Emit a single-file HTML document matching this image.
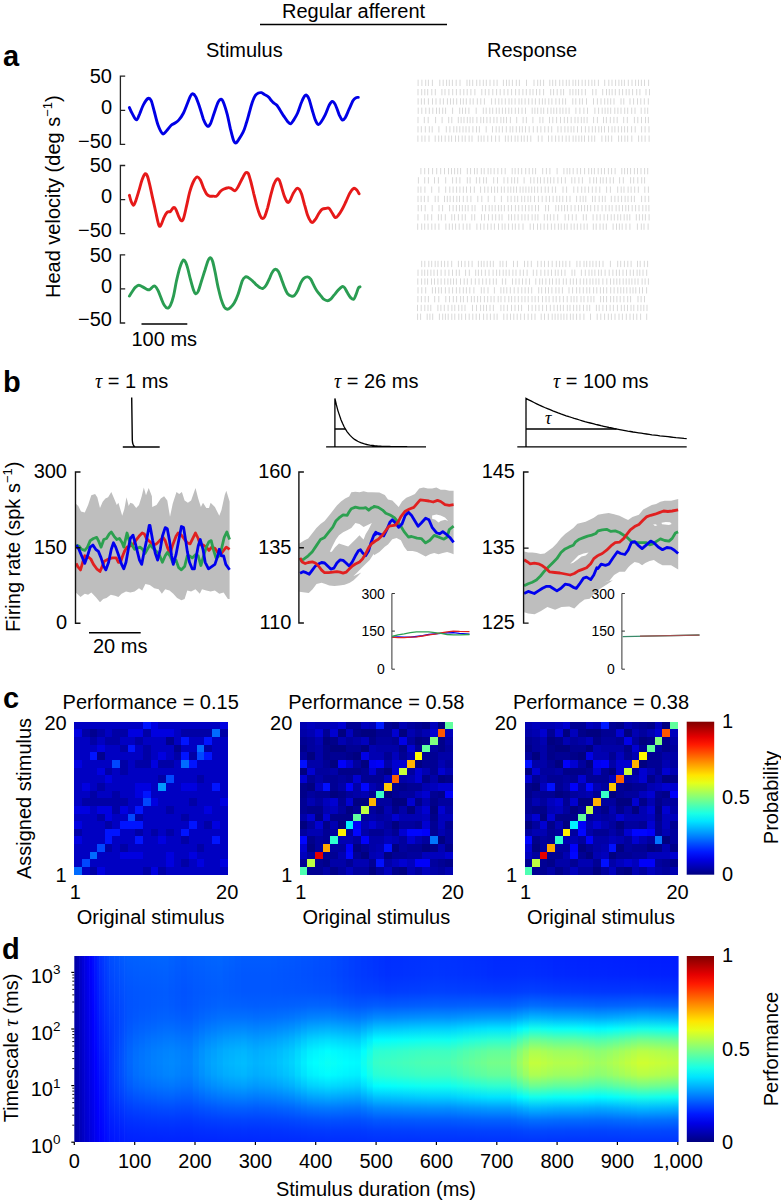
<!DOCTYPE html>
<html><head><meta charset="utf-8"><style>html,body{margin:0;padding:0;background:#fff;}svg{display:block}</style></head>
<body><svg width="781" height="1201" viewBox="0 0 781 1201" font-family="Liberation Sans, sans-serif" fill="#000">
<text x="282" y="17.5" font-size="20" text-anchor="start" >Regular afferent</text>
<line x1="260" y1="24.5" x2="447" y2="24.5" stroke="#000" stroke-width="1.3"/>
<text x="206" y="57" font-size="20" text-anchor="start" >Stimulus</text>
<text x="487" y="57" font-size="20" text-anchor="start" >Response</text>
<text x="3" y="66" font-size="29" text-anchor="start" font-weight="bold">a</text>
<path d="M125.2 76.2H120.4V144.4H125.2M120.4 110.3H125.2" fill="none" stroke="#222" stroke-width="1.3"/>
<text x="112" y="83.10000000000001" font-size="20" text-anchor="end" >50</text>
<text x="112" y="114.0" font-size="20" text-anchor="end" >0</text>
<text x="112" y="147.6" font-size="20" text-anchor="end" >&#8722;50</text>
<path d="M125.2 165.5H120.4V233.7H125.2M120.4 199.6H125.2" fill="none" stroke="#222" stroke-width="1.3"/>
<text x="112" y="172.4" font-size="20" text-anchor="end" >50</text>
<text x="112" y="203.29999999999998" font-size="20" text-anchor="end" >0</text>
<text x="112" y="236.89999999999998" font-size="20" text-anchor="end" >&#8722;50</text>
<path d="M125.2 254.8H120.4V323.0H125.2M120.4 288.9H125.2" fill="none" stroke="#222" stroke-width="1.3"/>
<text x="112" y="261.7" font-size="20" text-anchor="end" >50</text>
<text x="112" y="292.59999999999997" font-size="20" text-anchor="end" >0</text>
<text x="112" y="326.2" font-size="20" text-anchor="end" >&#8722;50</text>
<line x1="141.5" y1="324" x2="187.3" y2="324" stroke="#000" stroke-width="1.6"/>
<text x="131.5" y="346" font-size="20" text-anchor="start" >100 ms</text>
<text transform="translate(60,298) rotate(-90)" font-size="20">Head velocity (deg s<tspan dy="-8" font-size="13">&#8722;1</tspan><tspan dy="8">)</tspan></text>
<path d="M129.4 107.6C129.9 108.8 131.6 112.5 132.8 114.6C134.0 116.6 135.4 120.1 136.6 119.9C137.7 119.8 138.5 116.4 139.7 113.8C140.8 111.2 142.1 107.1 143.5 104.6C144.9 102.0 146.8 99.1 148.1 98.4C149.4 97.8 150.2 98.6 151.2 100.7C152.2 102.9 153.1 107.4 154.3 111.5C155.4 115.6 156.7 121.6 158.1 125.3C159.5 129.0 161.3 132.9 162.7 133.8C164.1 134.7 165.2 132.1 166.6 130.7C168.0 129.3 169.8 126.6 171.2 125.3C172.6 124.0 173.7 123.9 175.0 123.0C176.3 122.1 177.4 121.6 178.9 119.9C180.3 118.3 182.1 115.7 183.5 113.0C184.9 110.3 186.2 106.6 187.3 103.8C188.5 101.0 189.5 97.8 190.4 96.1C191.3 94.5 191.8 93.7 192.7 93.8C193.6 93.9 194.6 94.7 195.8 96.9C196.9 99.1 198.3 103.2 199.6 106.9C200.9 110.6 202.2 116.0 203.4 119.2C204.7 122.4 206.1 125.3 207.3 126.1C208.4 126.9 209.2 126.0 210.4 123.8C211.5 121.6 212.9 116.6 214.2 113.0C215.5 109.4 216.9 104.6 218.0 102.3C219.2 100.0 220.2 99.2 221.1 99.2C222.0 99.2 222.4 99.7 223.4 102.3C224.4 104.8 226.1 110.2 227.3 114.6C228.4 118.9 229.3 124.2 230.3 128.4C231.4 132.6 232.5 137.5 233.4 139.9C234.3 142.3 234.9 143.0 235.7 143.0C236.6 143.0 237.2 141.7 238.5 139.9C239.7 138.1 241.8 134.9 243.1 132.2C244.4 129.5 245.1 127.0 246.1 123.8C247.2 120.6 248.2 116.6 249.2 113.0C250.2 109.4 251.3 105.2 252.3 102.3C253.3 99.3 254.3 96.9 255.4 95.4C256.4 93.8 257.4 93.5 258.4 93.0C259.5 92.6 260.5 92.5 261.5 92.7C262.5 93.0 263.4 93.9 264.6 94.6C265.7 95.3 267.3 95.9 268.4 96.9C269.6 97.9 270.6 99.7 271.5 100.7C272.4 101.8 272.9 102.3 273.8 103.0C274.7 103.8 275.9 104.2 276.9 105.3C277.9 106.5 278.8 108.2 280.0 110.0C281.1 111.7 282.5 114.2 283.8 116.1C285.1 118.0 286.5 120.2 287.6 121.5C288.8 122.8 289.7 124.0 290.7 123.8C291.7 123.5 292.6 121.7 293.8 119.9C294.9 118.1 296.3 116.0 297.6 113.0C298.9 110.1 300.3 105.1 301.5 102.3C302.6 99.5 303.6 97.3 304.5 96.1C305.4 95.0 306.1 94.8 306.8 95.4C307.6 95.9 308.2 96.8 309.1 99.2C310.0 101.6 311.2 106.5 312.2 110.0C313.2 113.4 314.3 117.5 315.3 119.9C316.3 122.4 317.3 124.3 318.4 124.5C319.4 124.8 320.3 123.1 321.4 121.5C322.6 119.8 324.0 117.2 325.3 114.6C326.6 111.9 328.0 107.5 329.1 105.3C330.3 103.2 331.2 101.6 332.2 101.5C333.2 101.4 334.1 102.4 335.3 104.6C336.4 106.7 338.0 112.0 339.1 114.6C340.3 117.1 341.2 119.4 342.2 119.9C343.2 120.5 344.1 119.4 345.3 117.6C346.4 115.8 347.8 112.0 349.1 109.2C350.4 106.4 351.8 102.7 352.9 100.7C354.1 98.8 355.1 98.2 356.0 97.7C356.9 97.1 357.9 97.4 358.3 97.4" fill="none" stroke="#0000e6" stroke-width="2.9" stroke-linejoin="round" stroke-linecap="round"/>
<path d="M129.4 195.3C129.7 196.4 130.5 199.8 131.2 201.5C131.9 203.2 132.8 205.5 133.5 205.3C134.3 205.2 134.9 203.2 135.8 200.7C136.7 198.3 137.9 194.2 138.9 190.7C139.9 187.3 141.0 182.8 142.0 180.0C143.0 177.2 144.2 174.5 145.0 173.8C145.9 173.2 146.6 174.3 147.4 176.1C148.1 177.9 148.8 180.9 149.7 184.6C150.6 188.3 151.7 193.8 152.7 198.4C153.8 203.0 154.8 207.8 155.8 212.2C156.8 216.7 158.0 223.3 158.9 225.3C159.8 227.4 160.3 225.9 161.2 224.5C162.1 223.1 163.2 218.9 164.3 216.9C165.3 214.8 166.3 213.1 167.3 212.2C168.4 211.3 169.4 212.2 170.4 211.5C171.4 210.7 172.6 208.0 173.5 207.6C174.4 207.2 174.9 207.6 175.8 209.2C176.7 210.7 178.0 214.9 178.9 216.9C179.7 218.8 180.4 220.4 181.2 220.7C181.9 221.0 182.6 220.8 183.5 218.4C184.4 216.0 185.5 210.5 186.5 206.1C187.6 201.7 188.5 196.4 189.6 192.3C190.8 188.2 192.2 184.1 193.5 181.5C194.7 179.0 196.1 177.2 197.3 176.9C198.4 176.6 199.3 178.2 200.4 180.0C201.4 181.8 202.4 185.4 203.4 187.7C204.5 190.0 205.5 192.4 206.5 193.8C207.5 195.2 208.4 195.7 209.6 196.1C210.7 196.5 212.3 196.1 213.4 196.1C214.6 196.1 215.3 196.9 216.5 196.1C217.7 195.3 219.2 192.7 220.3 191.5C221.5 190.3 222.1 189.8 223.4 189.2C224.7 188.6 226.7 187.8 228.0 187.7C229.3 187.5 229.9 187.9 231.1 188.4C232.2 188.9 233.8 191.0 234.9 190.7C236.1 190.5 236.7 189.2 238.0 186.9C239.4 184.6 241.7 179.3 243.1 176.9C244.4 174.5 245.2 173.1 246.1 172.6C247.0 172.1 247.7 172.3 248.5 173.8C249.2 175.3 249.9 178.2 250.8 181.5C251.7 184.8 252.8 189.7 253.8 193.8C254.9 197.9 255.9 202.5 256.9 206.1C257.9 209.7 259.1 213.3 260.0 215.3C260.9 217.4 261.5 218.1 262.3 218.4C263.0 218.6 263.7 218.6 264.6 216.9C265.5 215.1 266.6 211.2 267.7 207.6C268.7 204.0 269.7 199.2 270.7 195.3C271.8 191.5 272.8 187.3 273.8 184.6C274.8 181.9 276.0 180.0 276.9 179.2C277.8 178.4 278.4 178.7 279.2 180.0C280.0 181.3 280.6 184.1 281.5 186.9C282.4 189.7 283.5 194.3 284.6 196.9C285.6 199.4 286.7 201.6 287.6 202.3C288.5 202.9 289.0 202.1 289.9 200.7C290.8 199.3 291.9 195.9 293.0 193.8C294.2 191.8 295.8 189.2 296.9 188.4C297.9 187.7 298.4 188.3 299.2 189.2C299.9 190.1 300.6 191.2 301.5 193.8C302.4 196.4 303.5 201.0 304.5 204.6C305.6 208.1 306.6 212.5 307.6 215.3C308.6 218.1 309.8 220.3 310.7 221.5C311.6 222.6 312.1 222.7 313.0 222.2C313.9 221.7 315.0 219.9 316.1 218.4C317.1 216.9 318.1 214.5 319.1 213.0C320.2 211.5 321.1 209.9 322.2 209.2C323.4 208.4 324.9 208.5 326.0 208.4C327.2 208.3 328.1 207.6 329.1 208.4C330.1 209.2 331.2 211.5 332.2 213.0C333.2 214.5 334.2 217.2 335.3 217.6C336.3 218.0 337.2 216.7 338.3 215.3C339.5 213.9 340.9 211.5 342.2 209.2C343.5 206.9 344.7 204.2 346.0 201.5C347.3 198.8 348.6 195.2 349.9 193.0C351.1 190.9 352.6 188.9 353.7 188.4C354.9 187.9 355.9 189.1 356.8 190.0C357.7 190.9 358.7 193.2 359.1 193.8" fill="none" stroke="#e61919" stroke-width="2.9" stroke-linejoin="round" stroke-linecap="round"/>
<path d="M129.4 296.1C129.9 295.2 131.7 292.3 132.8 290.7C133.8 289.2 134.8 287.8 135.8 286.9C136.9 286.0 137.7 285.3 138.9 285.3C140.1 285.3 141.5 286.2 142.7 286.9C144.0 287.5 145.4 288.7 146.6 289.2C147.7 289.6 148.6 290.0 149.7 289.6C150.7 289.3 151.8 287.5 152.7 286.9C153.6 286.3 154.1 285.5 155.0 286.1C155.9 286.7 157.1 288.7 158.1 290.7C159.1 292.8 160.2 296.0 161.2 298.4C162.2 300.8 163.2 303.7 164.3 305.3C165.3 306.9 166.3 308.1 167.3 308.1C168.4 308.1 169.4 307.3 170.4 305.3C171.4 303.3 172.5 300.2 173.5 296.1C174.5 292.0 175.5 285.3 176.5 280.7C177.6 276.1 178.6 271.8 179.6 268.4C180.6 265.1 181.8 262.0 182.7 260.8C183.6 259.5 184.2 260.0 185.0 261.1C185.8 262.1 186.4 263.9 187.3 266.9C188.2 269.9 189.4 275.4 190.4 279.2C191.4 283.0 192.6 287.5 193.5 290.0C194.3 292.4 195.0 293.5 195.8 293.8C196.5 294.0 197.2 293.4 198.1 291.5C199.0 289.6 200.0 285.9 201.1 282.3C202.3 278.7 203.8 273.6 205.0 270.0C206.1 266.4 207.2 262.8 208.0 260.8C208.9 258.7 209.6 257.6 210.4 257.7C211.1 257.8 211.9 259.2 212.7 261.5C213.4 263.8 214.1 267.3 215.0 271.5C215.9 275.7 217.0 282.3 218.0 286.9C219.1 291.5 220.1 295.8 221.1 299.2C222.1 302.5 223.2 305.2 224.2 306.9C225.2 308.5 226.2 309.0 227.3 309.2C228.3 309.3 229.2 308.6 230.3 307.6C231.5 306.6 232.9 305.2 234.2 303.0C235.5 300.8 236.7 298.3 238.0 294.6C239.4 290.8 241.1 283.7 242.3 280.7C243.5 277.8 244.4 277.4 245.4 276.9C246.4 276.4 247.3 277.0 248.5 277.7C249.6 278.3 251.0 279.6 252.3 280.7C253.6 281.9 254.9 283.4 256.1 284.6C257.4 285.7 258.8 287.0 260.0 287.6C261.1 288.3 262.0 288.8 263.0 288.4C264.1 288.0 265.1 286.9 266.1 285.3C267.1 283.8 268.2 281.4 269.2 279.2C270.2 277.0 271.2 273.9 272.3 272.3C273.3 270.6 274.3 269.3 275.3 269.2C276.4 269.1 277.4 269.8 278.4 271.5C279.4 273.2 280.5 276.5 281.5 279.2C282.5 281.9 283.5 285.2 284.6 287.6C285.6 290.1 286.5 292.4 287.6 293.8C288.8 295.2 290.3 295.8 291.5 296.1C292.6 296.4 293.5 296.2 294.5 295.3C295.6 294.4 296.6 292.8 297.6 290.7C298.6 288.7 299.7 285.1 300.7 283.0C301.7 281.0 302.6 279.5 303.8 278.4C304.9 277.4 306.5 276.8 307.6 276.9C308.8 277.0 309.7 277.8 310.7 279.2C311.7 280.6 312.7 283.4 313.8 285.3C314.8 287.3 315.8 289.2 316.8 290.7C317.9 292.3 318.7 293.2 319.9 294.6C321.1 296.0 322.5 298.1 323.7 299.2C325.0 300.2 326.4 300.7 327.6 300.7C328.7 300.7 329.5 300.2 330.7 299.2C331.8 298.1 333.2 296.1 334.5 294.6C335.8 293.0 337.1 291.3 338.3 290.0C339.6 288.6 341.2 287.0 342.2 286.6C343.2 286.2 343.6 286.6 344.5 287.6C345.4 288.7 346.5 291.4 347.6 293.0C348.6 294.7 349.6 296.6 350.6 297.6C351.7 298.7 352.8 299.7 353.7 299.2C354.6 298.7 355.2 296.4 356.0 294.6C356.8 292.7 357.7 289.4 358.3 288.1C359.0 286.8 359.7 287.1 360.0 286.9" fill="none" stroke="#2a9d52" stroke-width="2.9" stroke-linejoin="round" stroke-linecap="round"/>
<path d="M418.1 79.7v6.3M421.9 79.7v6.3M425.7 79.7v6.3M428.4 79.7v6.3M432.4 79.7v6.3M439.8 79.7v6.3M443.2 79.7v6.3M446.6 79.7v6.3M449.3 79.7v6.3M452.4 79.7v6.3M456.2 79.7v6.3M460.0 79.7v6.3M467.0 79.7v6.3M469.7 79.7v6.3M472.7 79.7v6.3M476.7 79.7v6.3M479.9 79.7v6.3M483.3 79.7v6.3M486.3 79.7v6.3M490.0 79.7v6.3M493.9 79.7v6.3M497.1 79.7v6.3M503.4 79.7v6.3M506.5 79.7v6.3M509.2 79.7v6.3M512.4 79.7v6.3M516.3 79.7v6.3M519.4 79.7v6.3M526.5 79.7v6.3M534.0 79.7v6.3M537.7 79.7v6.3M540.4 79.7v6.3M543.6 79.7v6.3M549.8 79.7v6.3M552.7 79.7v6.3M555.7 79.7v6.3M559.7 79.7v6.3M562.9 79.7v6.3M566.3 79.7v6.3M569.2 79.7v6.3M573.0 79.7v6.3M575.7 79.7v6.3M578.6 79.7v6.3M582.1 79.7v6.3M585.3 79.7v6.3M588.7 79.7v6.3M591.9 79.7v6.3M594.7 79.7v6.3M598.4 79.7v6.3M604.7 79.7v6.3M608.8 79.7v6.3M612.0 79.7v6.3M615.6 79.7v6.3M618.9 79.7v6.3M621.7 79.7v6.3M624.4 79.7v6.3M628.3 79.7v6.3M632.0 79.7v6.3M635.6 79.7v6.3M638.5 79.7v6.3M641.4 79.7v6.3M644.5 79.7v6.3M648.6 79.7v6.3M418.0 89.0v6.3M421.7 89.0v6.3M424.8 89.0v6.3M427.7 89.0v6.3M431.8 89.0v6.3M435.3 89.0v6.3M441.9 89.0v6.3M445.0 89.0v6.3M448.9 89.0v6.3M452.7 89.0v6.3M456.4 89.0v6.3M460.2 89.0v6.3M463.8 89.0v6.3M467.2 89.0v6.3M470.9 89.0v6.3M474.9 89.0v6.3M481.8 89.0v6.3M485.3 89.0v6.3M488.9 89.0v6.3M492.8 89.0v6.3M496.6 89.0v6.3M500.2 89.0v6.3M504.1 89.0v6.3M507.9 89.0v6.3M511.6 89.0v6.3M515.6 89.0v6.3M519.1 89.0v6.3M522.9 89.0v6.3M526.3 89.0v6.3M530.0 89.0v6.3M533.0 89.0v6.3M536.5 89.0v6.3M539.8 89.0v6.3M543.6 89.0v6.3M550.7 89.0v6.3M553.6 89.0v6.3M557.2 89.0v6.3M560.9 89.0v6.3M563.6 89.0v6.3M570.0 89.0v6.3M572.9 89.0v6.3M575.9 89.0v6.3M578.6 89.0v6.3M581.9 89.0v6.3M585.4 89.0v6.3M592.7 89.0v6.3M596.0 89.0v6.3M602.7 89.0v6.3M606.5 89.0v6.3M609.3 89.0v6.3M612.1 89.0v6.3M615.3 89.0v6.3M619.3 89.0v6.3M622.6 89.0v6.3M626.2 89.0v6.3M629.1 89.0v6.3M632.6 89.0v6.3M636.7 89.0v6.3M639.9 89.0v6.3M646.0 89.0v6.3M649.5 89.0v6.3M418.1 98.3v6.3M421.4 98.3v6.3M424.4 98.3v6.3M428.4 98.3v6.3M432.5 98.3v6.3M436.0 98.3v6.3M440.1 98.3v6.3M443.4 98.3v6.3M447.4 98.3v6.3M450.5 98.3v6.3M453.4 98.3v6.3M456.7 98.3v6.3M460.5 98.3v6.3M463.3 98.3v6.3M466.3 98.3v6.3M470.1 98.3v6.3M473.2 98.3v6.3M477.3 98.3v6.3M480.8 98.3v6.3M484.4 98.3v6.3M491.6 98.3v6.3M495.3 98.3v6.3M498.8 98.3v6.3M501.9 98.3v6.3M505.3 98.3v6.3M509.0 98.3v6.3M511.8 98.3v6.3M515.1 98.3v6.3M519.0 98.3v6.3M521.8 98.3v6.3M525.1 98.3v6.3M528.7 98.3v6.3M532.1 98.3v6.3M535.4 98.3v6.3M539.3 98.3v6.3M542.4 98.3v6.3M545.2 98.3v6.3M548.8 98.3v6.3M551.9 98.3v6.3M555.9 98.3v6.3M559.3 98.3v6.3M562.7 98.3v6.3M565.6 98.3v6.3M572.8 98.3v6.3M575.8 98.3v6.3M579.7 98.3v6.3M582.4 98.3v6.3M586.5 98.3v6.3M593.5 98.3v6.3M597.4 98.3v6.3M601.0 98.3v6.3M604.7 98.3v6.3M607.8 98.3v6.3M610.7 98.3v6.3M614.0 98.3v6.3M621.0 98.3v6.3M623.8 98.3v6.3M630.0 98.3v6.3M633.6 98.3v6.3M637.5 98.3v6.3M640.8 98.3v6.3M644.3 98.3v6.3M648.3 98.3v6.3M418.2 107.6v6.3M421.8 107.6v6.3M425.8 107.6v6.3M429.3 107.6v6.3M432.8 107.6v6.3M436.5 107.6v6.3M439.4 107.6v6.3M442.7 107.6v6.3M445.6 107.6v6.3M452.6 107.6v6.3M459.7 107.6v6.3M462.5 107.6v6.3M465.6 107.6v6.3M468.9 107.6v6.3M476.2 107.6v6.3M483.3 107.6v6.3M486.2 107.6v6.3M489.8 107.6v6.3M492.7 107.6v6.3M496.3 107.6v6.3M499.2 107.6v6.3M502.4 107.6v6.3M505.6 107.6v6.3M508.8 107.6v6.3M511.7 107.6v6.3M515.3 107.6v6.3M518.6 107.6v6.3M522.0 107.6v6.3M525.5 107.6v6.3M532.2 107.6v6.3M534.9 107.6v6.3M537.7 107.6v6.3M541.0 107.6v6.3M543.7 107.6v6.3M547.7 107.6v6.3M551.0 107.6v6.3M553.8 107.6v6.3M556.7 107.6v6.3M560.0 107.6v6.3M562.9 107.6v6.3M566.0 107.6v6.3M569.1 107.6v6.3M575.9 107.6v6.3M579.9 107.6v6.3M583.9 107.6v6.3M587.5 107.6v6.3M594.9 107.6v6.3M598.6 107.6v6.3M602.2 107.6v6.3M605.1 107.6v6.3M607.9 107.6v6.3M610.7 107.6v6.3M614.8 107.6v6.3M617.9 107.6v6.3M621.0 107.6v6.3M624.7 107.6v6.3M627.7 107.6v6.3M631.7 107.6v6.3M635.0 107.6v6.3M641.2 107.6v6.3M644.9 107.6v6.3M647.7 107.6v6.3M418.0 116.9v6.3M424.3 116.9v6.3M428.2 116.9v6.3M435.6 116.9v6.3M442.1 116.9v6.3M448.7 116.9v6.3M451.8 116.9v6.3M458.3 116.9v6.3M461.1 116.9v6.3M464.0 116.9v6.3M467.3 116.9v6.3M470.1 116.9v6.3M472.9 116.9v6.3M476.9 116.9v6.3M480.8 116.9v6.3M483.6 116.9v6.3M486.9 116.9v6.3M490.2 116.9v6.3M493.9 116.9v6.3M497.0 116.9v6.3M500.9 116.9v6.3M503.7 116.9v6.3M506.5 116.9v6.3M510.4 116.9v6.3M516.7 116.9v6.3M523.1 116.9v6.3M526.4 116.9v6.3M532.9 116.9v6.3M539.9 116.9v6.3M542.9 116.9v6.3M549.5 116.9v6.3M552.8 116.9v6.3M556.6 116.9v6.3M560.5 116.9v6.3M564.3 116.9v6.3M567.6 116.9v6.3M571.2 116.9v6.3M575.0 116.9v6.3M578.0 116.9v6.3M581.3 116.9v6.3M584.1 116.9v6.3M587.1 116.9v6.3M593.6 116.9v6.3M597.4 116.9v6.3M603.5 116.9v6.3M606.4 116.9v6.3M610.3 116.9v6.3M613.9 116.9v6.3M617.2 116.9v6.3M623.7 116.9v6.3M627.3 116.9v6.3M634.4 116.9v6.3M637.8 116.9v6.3M641.5 116.9v6.3M645.5 116.9v6.3M648.4 116.9v6.3M418.0 126.2v6.3M421.3 126.2v6.3M425.3 126.2v6.3M429.3 126.2v6.3M432.2 126.2v6.3M438.9 126.2v6.3M446.3 126.2v6.3M449.9 126.2v6.3M453.8 126.2v6.3M456.8 126.2v6.3M459.8 126.2v6.3M463.0 126.2v6.3M466.0 126.2v6.3M469.1 126.2v6.3M472.9 126.2v6.3M476.5 126.2v6.3M479.4 126.2v6.3M486.2 126.2v6.3M492.5 126.2v6.3M496.2 126.2v6.3M499.2 126.2v6.3M502.4 126.2v6.3M506.3 126.2v6.3M510.1 126.2v6.3M512.8 126.2v6.3M516.3 126.2v6.3M519.6 126.2v6.3M522.3 126.2v6.3M525.5 126.2v6.3M529.2 126.2v6.3M533.3 126.2v6.3M537.3 126.2v6.3M540.9 126.2v6.3M544.8 126.2v6.3M548.3 126.2v6.3M551.7 126.2v6.3M557.9 126.2v6.3M561.1 126.2v6.3M564.9 126.2v6.3M568.0 126.2v6.3M571.1 126.2v6.3M573.9 126.2v6.3M577.5 126.2v6.3M581.5 126.2v6.3M585.4 126.2v6.3M588.9 126.2v6.3M592.3 126.2v6.3M595.4 126.2v6.3M598.8 126.2v6.3M601.5 126.2v6.3M604.5 126.2v6.3M608.5 126.2v6.3M612.0 126.2v6.3M614.9 126.2v6.3M618.3 126.2v6.3M621.6 126.2v6.3M624.6 126.2v6.3M627.6 126.2v6.3M631.6 126.2v6.3M635.2 126.2v6.3M641.6 126.2v6.3M645.1 126.2v6.3M649.0 126.2v6.3M417.9 135.5v6.3M421.9 135.5v6.3M425.0 135.5v6.3M429.0 135.5v6.3M435.2 135.5v6.3M438.7 135.5v6.3M441.6 135.5v6.3M445.2 135.5v6.3M448.8 135.5v6.3M451.6 135.5v6.3M455.5 135.5v6.3M458.6 135.5v6.3M462.2 135.5v6.3M465.2 135.5v6.3M469.1 135.5v6.3M472.0 135.5v6.3M478.3 135.5v6.3M481.2 135.5v6.3M484.0 135.5v6.3M487.8 135.5v6.3M491.6 135.5v6.3M495.6 135.5v6.3M499.2 135.5v6.3M505.4 135.5v6.3M508.2 135.5v6.3M511.4 135.5v6.3M515.1 135.5v6.3M517.9 135.5v6.3M521.4 135.5v6.3M524.2 135.5v6.3M527.4 135.5v6.3M530.8 135.5v6.3M538.3 135.5v6.3M542.0 135.5v6.3M548.5 135.5v6.3M551.9 135.5v6.3M555.6 135.5v6.3M558.9 135.5v6.3M562.3 135.5v6.3M566.1 135.5v6.3M569.2 135.5v6.3M573.1 135.5v6.3M575.9 135.5v6.3M578.9 135.5v6.3M581.7 135.5v6.3M584.5 135.5v6.3M588.6 135.5v6.3M591.8 135.5v6.3M594.7 135.5v6.3M601.9 135.5v6.3M605.7 135.5v6.3M608.4 135.5v6.3M611.7 135.5v6.3M618.6 135.5v6.3M621.6 135.5v6.3M624.9 135.5v6.3M627.7 135.5v6.3M631.8 135.5v6.3M638.6 135.5v6.3M641.8 135.5v6.3M645.1 135.5v6.3M649.1 135.5v6.3M420.9 168.0v6.3M424.7 168.0v6.3M428.6 168.0v6.3M432.6 168.0v6.3M436.7 168.0v6.3M440.7 168.0v6.3M444.5 168.0v6.3M448.5 168.0v6.3M451.5 168.0v6.3M454.6 168.0v6.3M457.7 168.0v6.3M460.6 168.0v6.3M467.3 168.0v6.3M470.6 168.0v6.3M474.5 168.0v6.3M477.2 168.0v6.3M481.3 168.0v6.3M484.2 168.0v6.3M488.1 168.0v6.3M490.9 168.0v6.3M494.2 168.0v6.3M497.9 168.0v6.3M501.7 168.0v6.3M505.2 168.0v6.3M512.2 168.0v6.3M515.1 168.0v6.3M518.3 168.0v6.3M521.7 168.0v6.3M525.7 168.0v6.3M529.2 168.0v6.3M532.7 168.0v6.3M535.6 168.0v6.3M542.7 168.0v6.3M546.4 168.0v6.3M549.9 168.0v6.3M557.1 168.0v6.3M563.9 168.0v6.3M567.1 168.0v6.3M569.8 168.0v6.3M573.2 168.0v6.3M577.2 168.0v6.3M580.6 168.0v6.3M584.6 168.0v6.3M588.7 168.0v6.3M591.6 168.0v6.3M594.4 168.0v6.3M598.2 168.0v6.3M601.4 168.0v6.3M604.5 168.0v6.3M608.4 168.0v6.3M611.6 168.0v6.3M615.1 168.0v6.3M621.8 168.0v6.3M624.6 168.0v6.3M627.5 168.0v6.3M630.6 168.0v6.3M634.4 168.0v6.3M637.5 168.0v6.3M641.0 168.0v6.3M644.6 168.0v6.3M647.7 168.0v6.3M418.4 177.2v6.3M424.7 177.2v6.3M428.4 177.2v6.3M434.5 177.2v6.3M438.4 177.2v6.3M445.7 177.2v6.3M452.6 177.2v6.3M456.3 177.2v6.3M459.9 177.2v6.3M467.3 177.2v6.3M470.1 177.2v6.3M476.4 177.2v6.3M479.7 177.2v6.3M483.6 177.2v6.3M486.4 177.2v6.3M493.7 177.2v6.3M497.5 177.2v6.3M504.0 177.2v6.3M507.8 177.2v6.3M511.7 177.2v6.3M514.6 177.2v6.3M517.7 177.2v6.3M524.1 177.2v6.3M530.7 177.2v6.3M534.0 177.2v6.3M537.6 177.2v6.3M540.5 177.2v6.3M544.2 177.2v6.3M547.7 177.2v6.3M550.6 177.2v6.3M553.9 177.2v6.3M557.9 177.2v6.3M561.5 177.2v6.3M565.3 177.2v6.3M571.8 177.2v6.3M574.9 177.2v6.3M578.9 177.2v6.3M582.4 177.2v6.3M589.9 177.2v6.3M593.7 177.2v6.3M596.5 177.2v6.3M600.4 177.2v6.3M603.1 177.2v6.3M606.4 177.2v6.3M610.1 177.2v6.3M613.4 177.2v6.3M619.6 177.2v6.3M623.3 177.2v6.3M630.6 177.2v6.3M633.7 177.2v6.3M637.8 177.2v6.3M641.7 177.2v6.3M644.6 177.2v6.3M418.1 186.5v6.3M420.9 186.5v6.3M424.9 186.5v6.3M431.7 186.5v6.3M438.9 186.5v6.3M445.7 186.5v6.3M449.8 186.5v6.3M453.1 186.5v6.3M456.6 186.5v6.3M459.9 186.5v6.3M463.3 186.5v6.3M466.5 186.5v6.3M470.5 186.5v6.3M474.3 186.5v6.3M480.6 186.5v6.3M484.7 186.5v6.3M488.0 186.5v6.3M491.5 186.5v6.3M494.6 186.5v6.3M497.6 186.5v6.3M501.4 186.5v6.3M504.3 186.5v6.3M508.0 186.5v6.3M510.8 186.5v6.3M513.7 186.5v6.3M516.5 186.5v6.3M520.1 186.5v6.3M523.0 186.5v6.3M525.9 186.5v6.3M528.9 186.5v6.3M531.7 186.5v6.3M534.6 186.5v6.3M537.7 186.5v6.3M541.3 186.5v6.3M545.2 186.5v6.3M548.3 186.5v6.3M552.3 186.5v6.3M555.6 186.5v6.3M563.0 186.5v6.3M566.6 186.5v6.3M573.8 186.5v6.3M577.8 186.5v6.3M581.7 186.5v6.3M585.0 186.5v6.3M588.6 186.5v6.3M592.3 186.5v6.3M596.0 186.5v6.3M599.8 186.5v6.3M606.6 186.5v6.3M610.4 186.5v6.3M617.7 186.5v6.3M621.2 186.5v6.3M624.0 186.5v6.3M628.1 186.5v6.3M631.1 186.5v6.3M634.7 186.5v6.3M638.3 186.5v6.3M644.8 186.5v6.3M648.4 186.5v6.3M418.0 195.8v6.3M421.1 195.8v6.3M424.4 195.8v6.3M428.1 195.8v6.3M435.2 195.8v6.3M438.2 195.8v6.3M444.5 195.8v6.3M447.3 195.8v6.3M450.1 195.8v6.3M453.4 195.8v6.3M456.8 195.8v6.3M459.5 195.8v6.3M463.3 195.8v6.3M467.2 195.8v6.3M470.9 195.8v6.3M477.8 195.8v6.3M481.8 195.8v6.3M488.2 195.8v6.3M494.7 195.8v6.3M501.4 195.8v6.3M507.8 195.8v6.3M511.1 195.8v6.3M514.8 195.8v6.3M517.7 195.8v6.3M521.7 195.8v6.3M524.7 195.8v6.3M528.0 195.8v6.3M530.7 195.8v6.3M534.5 195.8v6.3M538.4 195.8v6.3M542.2 195.8v6.3M546.2 195.8v6.3M549.5 195.8v6.3M553.1 195.8v6.3M556.8 195.8v6.3M559.7 195.8v6.3M562.8 195.8v6.3M566.6 195.8v6.3M570.0 195.8v6.3M576.6 195.8v6.3M580.2 195.8v6.3M583.1 195.8v6.3M585.8 195.8v6.3M592.5 195.8v6.3M595.2 195.8v6.3M599.2 195.8v6.3M602.4 195.8v6.3M605.2 195.8v6.3M611.3 195.8v6.3M614.9 195.8v6.3M618.2 195.8v6.3M621.6 195.8v6.3M625.1 195.8v6.3M628.0 195.8v6.3M631.4 195.8v6.3M634.4 195.8v6.3M641.6 195.8v6.3M645.1 195.8v6.3M648.7 195.8v6.3M418.2 205.0v6.3M421.4 205.0v6.3M425.2 205.0v6.3M432.2 205.0v6.3M439.0 205.0v6.3M442.6 205.0v6.3M449.6 205.0v6.3M453.1 205.0v6.3M456.4 205.0v6.3M459.5 205.0v6.3M462.3 205.0v6.3M465.3 205.0v6.3M468.1 205.0v6.3M472.1 205.0v6.3M475.0 205.0v6.3M482.4 205.0v6.3M485.6 205.0v6.3M489.2 205.0v6.3M492.1 205.0v6.3M495.2 205.0v6.3M498.6 205.0v6.3M501.3 205.0v6.3M504.4 205.0v6.3M508.3 205.0v6.3M511.5 205.0v6.3M515.4 205.0v6.3M518.7 205.0v6.3M522.2 205.0v6.3M525.5 205.0v6.3M528.9 205.0v6.3M532.0 205.0v6.3M535.5 205.0v6.3M538.5 205.0v6.3M545.6 205.0v6.3M548.5 205.0v6.3M555.8 205.0v6.3M558.6 205.0v6.3M561.7 205.0v6.3M564.5 205.0v6.3M567.4 205.0v6.3M571.1 205.0v6.3M575.0 205.0v6.3M578.5 205.0v6.3M581.5 205.0v6.3M584.6 205.0v6.3M587.5 205.0v6.3M590.7 205.0v6.3M594.7 205.0v6.3M598.0 205.0v6.3M602.1 205.0v6.3M605.8 205.0v6.3M609.2 205.0v6.3M612.1 205.0v6.3M616.1 205.0v6.3M619.2 205.0v6.3M622.5 205.0v6.3M625.8 205.0v6.3M628.6 205.0v6.3M632.2 205.0v6.3M635.6 205.0v6.3M639.0 205.0v6.3M642.8 205.0v6.3M646.0 205.0v6.3M648.9 205.0v6.3M418.0 214.2v6.3M424.8 214.2v6.3M427.8 214.2v6.3M431.7 214.2v6.3M438.4 214.2v6.3M441.3 214.2v6.3M445.3 214.2v6.3M451.8 214.2v6.3M454.6 214.2v6.3M458.4 214.2v6.3M462.2 214.2v6.3M465.3 214.2v6.3M471.8 214.2v6.3M474.7 214.2v6.3M481.5 214.2v6.3M484.6 214.2v6.3M488.5 214.2v6.3M492.3 214.2v6.3M495.7 214.2v6.3M499.2 214.2v6.3M502.0 214.2v6.3M508.7 214.2v6.3M511.5 214.2v6.3M514.8 214.2v6.3M518.1 214.2v6.3M521.9 214.2v6.3M525.0 214.2v6.3M528.2 214.2v6.3M532.1 214.2v6.3M535.2 214.2v6.3M537.9 214.2v6.3M544.3 214.2v6.3M547.4 214.2v6.3M550.4 214.2v6.3M553.9 214.2v6.3M557.7 214.2v6.3M565.1 214.2v6.3M568.6 214.2v6.3M572.3 214.2v6.3M576.2 214.2v6.3M583.3 214.2v6.3M586.3 214.2v6.3M593.1 214.2v6.3M596.9 214.2v6.3M600.2 214.2v6.3M604.1 214.2v6.3M607.6 214.2v6.3M611.2 214.2v6.3M614.3 214.2v6.3M617.8 214.2v6.3M620.7 214.2v6.3M624.2 214.2v6.3M627.1 214.2v6.3M629.8 214.2v6.3M636.3 214.2v6.3M639.4 214.2v6.3M642.6 214.2v6.3M645.4 214.2v6.3M649.1 214.2v6.3M417.7 223.5v6.3M421.7 223.5v6.3M424.7 223.5v6.3M428.1 223.5v6.3M431.8 223.5v6.3M435.1 223.5v6.3M438.9 223.5v6.3M445.9 223.5v6.3M449.3 223.5v6.3M452.4 223.5v6.3M455.6 223.5v6.3M459.2 223.5v6.3M463.2 223.5v6.3M466.9 223.5v6.3M469.9 223.5v6.3M476.9 223.5v6.3M480.6 223.5v6.3M484.0 223.5v6.3M487.7 223.5v6.3M491.1 223.5v6.3M494.4 223.5v6.3M498.5 223.5v6.3M502.2 223.5v6.3M505.0 223.5v6.3M508.6 223.5v6.3M512.4 223.5v6.3M515.3 223.5v6.3M518.9 223.5v6.3M523.0 223.5v6.3M530.2 223.5v6.3M533.5 223.5v6.3M537.5 223.5v6.3M540.7 223.5v6.3M544.1 223.5v6.3M547.7 223.5v6.3M551.4 223.5v6.3M554.8 223.5v6.3M558.4 223.5v6.3M561.2 223.5v6.3M564.4 223.5v6.3M567.1 223.5v6.3M571.1 223.5v6.3M574.2 223.5v6.3M577.3 223.5v6.3M580.8 223.5v6.3M584.1 223.5v6.3M587.2 223.5v6.3M593.3 223.5v6.3M596.2 223.5v6.3M600.0 223.5v6.3M603.2 223.5v6.3M606.3 223.5v6.3M613.1 223.5v6.3M616.5 223.5v6.3M619.4 223.5v6.3M622.2 223.5v6.3M626.0 223.5v6.3M629.9 223.5v6.3M637.4 223.5v6.3M641.3 223.5v6.3M644.0 223.5v6.3M648.1 223.5v6.3M421.7 260.8v6.3M424.8 260.8v6.3M428.8 260.8v6.3M431.7 260.8v6.3M435.2 260.8v6.3M438.0 260.8v6.3M441.4 260.8v6.3M444.6 260.8v6.3M447.9 260.8v6.3M451.7 260.8v6.3M458.4 260.8v6.3M461.5 260.8v6.3M465.0 260.8v6.3M468.7 260.8v6.3M472.1 260.8v6.3M478.4 260.8v6.3M481.3 260.8v6.3M484.0 260.8v6.3M487.2 260.8v6.3M490.3 260.8v6.3M493.3 260.8v6.3M500.1 260.8v6.3M502.9 260.8v6.3M506.4 260.8v6.3M513.5 260.8v6.3M517.4 260.8v6.3M524.5 260.8v6.3M527.8 260.8v6.3M531.3 260.8v6.3M537.7 260.8v6.3M541.2 260.8v6.3M544.5 260.8v6.3M548.4 260.8v6.3M552.2 260.8v6.3M556.3 260.8v6.3M559.6 260.8v6.3M562.8 260.8v6.3M565.9 260.8v6.3M569.8 260.8v6.3M576.9 260.8v6.3M580.0 260.8v6.3M584.0 260.8v6.3M586.7 260.8v6.3M589.9 260.8v6.3M592.9 260.8v6.3M596.1 260.8v6.3M599.4 260.8v6.3M603.0 260.8v6.3M610.4 260.8v6.3M617.7 260.8v6.3M620.7 260.8v6.3M624.4 260.8v6.3M627.8 260.8v6.3M631.1 260.8v6.3M637.5 260.8v6.3M640.2 260.8v6.3M644.3 260.8v6.3M647.6 260.8v6.3M418.0 269.6v6.3M421.9 269.6v6.3M424.7 269.6v6.3M427.7 269.6v6.3M430.9 269.6v6.3M434.0 269.6v6.3M437.4 269.6v6.3M441.1 269.6v6.3M445.1 269.6v6.3M448.9 269.6v6.3M452.5 269.6v6.3M456.3 269.6v6.3M459.3 269.6v6.3M465.6 269.6v6.3M469.3 269.6v6.3M475.7 269.6v6.3M478.4 269.6v6.3M481.6 269.6v6.3M485.3 269.6v6.3M489.0 269.6v6.3M493.1 269.6v6.3M496.6 269.6v6.3M499.7 269.6v6.3M503.2 269.6v6.3M506.1 269.6v6.3M509.2 269.6v6.3M512.9 269.6v6.3M516.0 269.6v6.3M520.1 269.6v6.3M523.4 269.6v6.3M527.1 269.6v6.3M533.3 269.6v6.3M536.8 269.6v6.3M540.9 269.6v6.3M544.8 269.6v6.3M548.1 269.6v6.3M551.5 269.6v6.3M555.3 269.6v6.3M558.1 269.6v6.3M561.6 269.6v6.3M565.0 269.6v6.3M572.0 269.6v6.3M574.8 269.6v6.3M581.4 269.6v6.3M585.3 269.6v6.3M589.0 269.6v6.3M591.9 269.6v6.3M594.9 269.6v6.3M598.6 269.6v6.3M601.3 269.6v6.3M605.1 269.6v6.3M609.2 269.6v6.3M612.9 269.6v6.3M616.4 269.6v6.3M619.4 269.6v6.3M623.0 269.6v6.3M626.5 269.6v6.3M630.2 269.6v6.3M633.4 269.6v6.3M637.1 269.6v6.3M639.8 269.6v6.3M643.0 269.6v6.3M646.7 269.6v6.3M417.8 278.4v6.3M421.6 278.4v6.3M424.9 278.4v6.3M427.6 278.4v6.3M431.5 278.4v6.3M434.5 278.4v6.3M437.9 278.4v6.3M441.1 278.4v6.3M444.7 278.4v6.3M447.9 278.4v6.3M450.7 278.4v6.3M453.5 278.4v6.3M456.4 278.4v6.3M460.5 278.4v6.3M464.2 278.4v6.3M467.3 278.4v6.3M471.3 278.4v6.3M475.3 278.4v6.3M479.0 278.4v6.3M482.7 278.4v6.3M486.2 278.4v6.3M489.8 278.4v6.3M493.3 278.4v6.3M496.3 278.4v6.3M502.4 278.4v6.3M505.7 278.4v6.3M512.5 278.4v6.3M515.9 278.4v6.3M519.1 278.4v6.3M522.5 278.4v6.3M526.0 278.4v6.3M529.5 278.4v6.3M535.8 278.4v6.3M539.7 278.4v6.3M542.4 278.4v6.3M545.9 278.4v6.3M549.6 278.4v6.3M552.5 278.4v6.3M556.2 278.4v6.3M559.2 278.4v6.3M563.3 278.4v6.3M566.3 278.4v6.3M570.3 278.4v6.3M573.3 278.4v6.3M576.5 278.4v6.3M580.2 278.4v6.3M583.7 278.4v6.3M586.7 278.4v6.3M590.0 278.4v6.3M592.9 278.4v6.3M596.0 278.4v6.3M598.9 278.4v6.3M602.9 278.4v6.3M606.8 278.4v6.3M610.5 278.4v6.3M613.8 278.4v6.3M616.8 278.4v6.3M619.8 278.4v6.3M623.2 278.4v6.3M626.2 278.4v6.3M629.1 278.4v6.3M631.9 278.4v6.3M635.0 278.4v6.3M638.0 278.4v6.3M642.1 278.4v6.3M645.1 278.4v6.3M648.4 278.4v6.3M418.0 287.2v6.3M421.8 287.2v6.3M425.7 287.2v6.3M432.4 287.2v6.3M435.5 287.2v6.3M438.7 287.2v6.3M441.4 287.2v6.3M445.4 287.2v6.3M449.1 287.2v6.3M452.6 287.2v6.3M456.4 287.2v6.3M459.8 287.2v6.3M463.3 287.2v6.3M466.4 287.2v6.3M469.8 287.2v6.3M473.9 287.2v6.3M481.3 287.2v6.3M484.1 287.2v6.3M488.0 287.2v6.3M494.4 287.2v6.3M500.9 287.2v6.3M503.8 287.2v6.3M506.8 287.2v6.3M510.3 287.2v6.3M514.2 287.2v6.3M518.1 287.2v6.3M521.8 287.2v6.3M525.1 287.2v6.3M528.4 287.2v6.3M531.7 287.2v6.3M538.7 287.2v6.3M541.7 287.2v6.3M545.5 287.2v6.3M548.5 287.2v6.3M551.9 287.2v6.3M555.9 287.2v6.3M559.0 287.2v6.3M562.4 287.2v6.3M569.0 287.2v6.3M572.6 287.2v6.3M576.6 287.2v6.3M579.8 287.2v6.3M583.3 287.2v6.3M586.8 287.2v6.3M589.7 287.2v6.3M593.6 287.2v6.3M596.8 287.2v6.3M600.4 287.2v6.3M603.5 287.2v6.3M606.7 287.2v6.3M610.7 287.2v6.3M614.1 287.2v6.3M617.8 287.2v6.3M620.8 287.2v6.3M623.7 287.2v6.3M626.8 287.2v6.3M630.1 287.2v6.3M633.0 287.2v6.3M635.8 287.2v6.3M639.5 287.2v6.3M642.5 287.2v6.3M646.6 287.2v6.3M417.9 296.0v6.3M421.4 296.0v6.3M425.1 296.0v6.3M428.4 296.0v6.3M434.7 296.0v6.3M438.8 296.0v6.3M445.8 296.0v6.3M449.5 296.0v6.3M453.3 296.0v6.3M456.6 296.0v6.3M460.6 296.0v6.3M463.4 296.0v6.3M467.4 296.0v6.3M471.4 296.0v6.3M474.3 296.0v6.3M477.6 296.0v6.3M480.6 296.0v6.3M484.4 296.0v6.3M487.7 296.0v6.3M491.0 296.0v6.3M494.1 296.0v6.3M498.2 296.0v6.3M501.0 296.0v6.3M504.9 296.0v6.3M508.8 296.0v6.3M511.6 296.0v6.3M514.9 296.0v6.3M518.3 296.0v6.3M521.9 296.0v6.3M525.0 296.0v6.3M528.2 296.0v6.3M532.0 296.0v6.3M535.1 296.0v6.3M538.4 296.0v6.3M542.5 296.0v6.3M546.0 296.0v6.3M549.1 296.0v6.3M553.1 296.0v6.3M556.2 296.0v6.3M559.8 296.0v6.3M563.4 296.0v6.3M567.2 296.0v6.3M571.1 296.0v6.3M574.0 296.0v6.3M576.9 296.0v6.3M581.0 296.0v6.3M584.0 296.0v6.3M587.9 296.0v6.3M591.0 296.0v6.3M593.9 296.0v6.3M600.6 296.0v6.3M603.5 296.0v6.3M606.6 296.0v6.3M610.6 296.0v6.3M613.7 296.0v6.3M616.9 296.0v6.3M620.2 296.0v6.3M623.9 296.0v6.3M627.7 296.0v6.3M630.6 296.0v6.3M638.0 296.0v6.3M641.1 296.0v6.3M644.5 296.0v6.3M417.5 304.8v6.3M421.2 304.8v6.3M424.8 304.8v6.3M428.0 304.8v6.3M430.8 304.8v6.3M437.9 304.8v6.3M440.9 304.8v6.3M444.3 304.8v6.3M448.1 304.8v6.3M451.9 304.8v6.3M454.8 304.8v6.3M458.7 304.8v6.3M461.9 304.8v6.3M465.0 304.8v6.3M472.5 304.8v6.3M476.5 304.8v6.3M480.6 304.8v6.3M483.6 304.8v6.3M486.5 304.8v6.3M490.0 304.8v6.3M493.4 304.8v6.3M500.9 304.8v6.3M503.9 304.8v6.3M507.4 304.8v6.3M511.5 304.8v6.3M515.0 304.8v6.3M518.5 304.8v6.3M521.6 304.8v6.3M528.5 304.8v6.3M532.1 304.8v6.3M535.7 304.8v6.3M539.0 304.8v6.3M542.6 304.8v6.3M546.5 304.8v6.3M550.3 304.8v6.3M554.0 304.8v6.3M557.4 304.8v6.3M560.4 304.8v6.3M563.4 304.8v6.3M567.3 304.8v6.3M570.0 304.8v6.3M573.6 304.8v6.3M576.8 304.8v6.3M579.8 304.8v6.3M583.5 304.8v6.3M587.0 304.8v6.3M589.7 304.8v6.3M596.4 304.8v6.3M599.2 304.8v6.3M602.9 304.8v6.3M606.5 304.8v6.3M610.1 304.8v6.3M613.4 304.8v6.3M617.4 304.8v6.3M621.3 304.8v6.3M624.4 304.8v6.3M627.5 304.8v6.3M631.0 304.8v6.3M633.8 304.8v6.3M637.8 304.8v6.3M640.9 304.8v6.3M643.8 304.8v6.3M647.0 304.8v6.3M417.6 313.6v6.3M420.6 313.6v6.3M427.2 313.6v6.3M429.9 313.6v6.3M432.7 313.6v6.3M439.4 313.6v6.3M442.7 313.6v6.3M445.4 313.6v6.3M448.2 313.6v6.3M451.8 313.6v6.3M454.8 313.6v6.3M458.8 313.6v6.3M461.7 313.6v6.3M465.6 313.6v6.3M469.2 313.6v6.3M472.8 313.6v6.3M476.2 313.6v6.3M479.5 313.6v6.3M483.6 313.6v6.3M487.0 313.6v6.3M490.4 313.6v6.3M494.1 313.6v6.3M497.1 313.6v6.3M503.8 313.6v6.3M507.1 313.6v6.3M510.5 313.6v6.3M513.8 313.6v6.3M517.2 313.6v6.3M520.7 313.6v6.3M524.4 313.6v6.3M528.1 313.6v6.3M531.7 313.6v6.3M535.0 313.6v6.3M541.2 313.6v6.3M544.5 313.6v6.3M548.3 313.6v6.3M552.2 313.6v6.3M555.1 313.6v6.3M558.0 313.6v6.3M561.0 313.6v6.3M563.9 313.6v6.3M566.9 313.6v6.3M570.4 313.6v6.3M573.2 313.6v6.3M576.6 313.6v6.3M580.0 313.6v6.3M583.9 313.6v6.3M590.5 313.6v6.3M597.2 313.6v6.3M600.8 313.6v6.3M604.6 313.6v6.3M608.3 313.6v6.3M611.4 313.6v6.3M615.0 313.6v6.3M619.0 313.6v6.3M622.4 313.6v6.3M626.3 313.6v6.3M630.0 313.6v6.3M633.4 313.6v6.3M636.8 313.6v6.3M640.6 313.6v6.3M646.7 313.6v6.3" stroke="#d9d9d9" stroke-width="1" fill="none"/>
<text x="3" y="391.5" font-size="29" text-anchor="start" font-weight="bold">b</text>
<path d="M75.8 503.8 L78.3 506.0 L81.0 511.4 L84.8 512.5 L88.1 504.9 L91.3 495.2 L95.1 494.1 L97.3 497.3 L100.0 508.1 L102.7 501.7 L105.4 498.4 L108.1 497.3 L111.3 491.9 L114.1 498.4 L116.8 504.9 L118.4 502.7 L122.2 515.7 L124.3 509.2 L126.5 497.3 L128.7 506.0 L130.3 502.7 L133.0 503.8 L136.2 508.1 L139.0 504.9 L141.7 496.2 L143.8 487.6 L146.0 495.2 L148.7 488.1 L151.9 496.2 L152.2 507.1 L156.5 504.9 L160.8 498.4 L164.1 496.2 L167.3 500.6 L170.0 516.8 L172.7 503.8 L176.5 491.9 L179.2 494.1 L181.9 491.9 L184.6 500.6 L187.9 502.7 L191.1 500.6 L195.5 488.1 L198.2 498.4 L200.9 507.1 L203.0 502.7 L206.3 508.1 L209.0 508.1 L210.6 502.7 L214.9 507.1 L219.3 515.7 L221.4 510.3 L224.7 495.2 L226.3 490.8 L229.6 501.6 L229.6 599.1 L227.9 599.1 L223.6 592.6 L219.3 593.7 L214.9 590.4 L210.6 591.5 L206.3 590.4 L202.0 589.3 L199.8 593.7 L195.5 589.3 L191.1 591.5 L187.3 590.4 L184.6 599.1 L181.4 600.2 L177.1 598.0 L173.3 593.7 L169.5 590.4 L165.2 589.3 L161.9 593.7 L158.7 589.3 L154.3 588.2 L149.8 585.0 L145.4 583.9 L142.2 590.4 L139.0 588.3 L134.6 591.5 L130.3 592.6 L126.0 591.5 L121.6 593.7 L118.4 596.9 L115.1 595.8 L110.8 594.7 L106.5 598.0 L103.2 599.1 L100.0 602.3 L95.7 596.9 L91.3 592.6 L88.1 594.7 L84.8 593.7 L80.5 596.9 L75.8 592.6 Z" fill="#bebebe" />
<path d="M76.2 563.4 L77.8 566.6 L80.5 569.9 L82.7 562.3 L84.8 555.8 L88.1 556.9 L90.8 559.0 L93.5 564.4 L96.7 568.8 L100.0 571.5 L102.1 566.6 L104.3 561.2 L108.6 559.0 L112.4 557.9 L116.2 557.9 L118.4 562.3 L120.5 562.3 L122.7 555.8 L124.9 550.4 L127.0 547.1 L130.3 546.0 L132.5 545.0 L135.7 540.6 L139.0 536.3 L142.2 533.0 L144.4 534.1 L146.5 538.5 L148.7 540.6 L150.0 541.7 L153.2 544.9 L156.5 543.9 L159.7 540.6 L163.0 537.4 L165.2 540.6 L167.3 547.1 L170.0 553.6 L172.7 544.9 L176.0 536.3 L178.1 533.0 L181.4 535.2 L184.6 539.5 L187.3 542.8 L190.1 543.9 L193.3 537.4 L195.5 533.0 L198.2 538.5 L200.3 544.9 L203.0 544.9 L206.3 547.1 L209.0 550.4 L211.7 547.1 L214.9 548.2 L217.7 552.5 L220.4 554.7 L223.6 550.4 L226.3 547.1 L229.6 549.3" fill="none" stroke="#e02020" stroke-width="2.8" stroke-linejoin="round" stroke-linecap="butt"/>
<path d="M76.2 545.0 L78.9 546.0 L81.6 549.3 L84.8 550.4 L87.5 547.1 L90.2 540.6 L93.5 538.5 L96.7 537.4 L98.9 541.7 L101.1 547.1 L103.8 539.5 L106.5 538.5 L109.2 534.1 L111.3 532.0 L114.1 536.3 L116.8 539.5 L119.5 538.5 L122.2 542.8 L123.8 547.1 L126.0 537.4 L127.0 533.0 L129.2 540.6 L131.9 545.0 L134.6 549.3 L137.3 548.2 L140.0 547.1 L142.7 549.3 L144.9 553.6 L150.0 544.9 L153.2 548.2 L156.5 551.4 L159.7 555.8 L162.4 562.3 L165.2 555.8 L167.3 552.5 L170.0 555.8 L172.7 562.3 L176.0 560.1 L178.7 567.7 L181.4 569.8 L184.6 566.6 L187.3 555.8 L189.5 555.8 L192.2 557.9 L195.5 554.7 L198.2 555.8 L200.9 565.5 L203.6 555.8 L206.3 547.1 L209.0 541.7 L211.2 540.6 L213.3 549.3 L216.0 557.9 L219.3 555.8 L221.4 549.3 L224.2 537.4 L226.9 532.0 L229.6 539.5" fill="none" stroke="#2ca050" stroke-width="2.8" stroke-linejoin="round" stroke-linecap="butt"/>
<path d="M76.2 545.0 L78.9 549.3 L81.6 555.8 L84.8 563.4 L87.5 555.8 L90.2 547.1 L92.9 545.0 L95.7 549.3 L98.4 551.4 L101.1 557.9 L103.8 566.6 L105.9 569.9 L108.6 562.3 L111.3 549.3 L113.5 542.8 L115.7 547.1 L118.4 554.7 L121.6 564.4 L123.8 568.8 L126.0 562.3 L128.7 547.1 L130.3 538.5 L133.0 535.2 L135.2 542.8 L137.3 551.4 L139.5 560.1 L141.7 564.4 L143.8 553.6 L146.5 540.6 L149.2 525.5 L150.0 525.5 L152.7 540.6 L155.4 553.6 L157.6 560.1 L160.3 549.3 L162.4 536.3 L165.2 527.6 L167.3 528.7 L169.5 540.6 L171.6 555.8 L173.3 564.4 L176.0 554.7 L178.7 540.6 L181.4 526.5 L183.6 527.6 L185.7 540.6 L187.3 551.4 L189.5 562.3 L192.2 568.8 L194.4 568.8 L196.0 557.9 L198.2 546.0 L200.3 539.5 L203.0 549.3 L205.2 562.3 L208.5 568.8 L211.7 566.6 L214.9 564.4 L217.1 557.9 L219.3 549.3 L221.4 555.8 L223.6 555.8 L225.8 564.4 L229.6 569.8" fill="none" stroke="#0000ee" stroke-width="2.8" stroke-linejoin="round" stroke-linecap="butt"/>
<path d="M299.4 543.5 L304.1 540.4 L308.2 538.4 L312.3 533.3 L316.4 528.1 L320.5 524.0 L324.6 521.0 L328.7 515.9 L332.8 510.7 L336.9 505.6 L341.0 501.5 L345.1 498.4 L349.2 496.4 L351.3 492.3 L355.4 491.8 L359.5 492.3 L363.6 491.3 L367.7 492.3 L371.8 492.3 L379.4 492.4 L384.8 495.1 L388.0 499.4 L392.3 500.4 L395.5 503.7 L398.7 506.9 L402.0 501.5 L406.3 497.7 L410.6 496.1 L414.9 494.0 L419.2 488.6 L423.5 487.5 L427.8 488.6 L432.1 488.6 L436.4 487.5 L440.7 489.7 L445.0 489.7 L449.3 490.8 L453.6 490.8 L453.6 554.2 L450.4 553.1 L447.1 552.1 L442.8 553.1 L438.5 554.2 L434.2 553.1 L429.9 554.2 L425.6 556.4 L421.3 554.2 L417.0 552.1 L412.7 551.0 L407.3 551.0 L404.1 546.7 L400.9 540.2 L396.6 538.1 L392.3 539.2 L388.0 544.5 L384.8 546.7 L379.4 552.1 L374.0 555.3 L373.8 553.8 L369.7 559.9 L365.6 564.0 L361.5 568.1 L357.4 572.2 L353.3 576.3 L361.3 572.6 L357.5 576.4 L353.6 580.2 L349.8 582.8 L344.7 584.7 L339.5 585.4 L334.4 586.0 L329.3 585.4 L325.4 584.1 L321.6 582.8 L316.5 584.1 L312.6 589.2 L308.8 593.0 L305.0 592.4 L299.4 591.8 Z M329.8 551.7 L332.8 545.6 L335.9 539.4 L339.0 535.3 L343.1 532.2 L347.2 530.2 L351.3 528.1 L355.4 523.0 L359.5 524.0 L363.6 527.1 L367.7 525.1 L371.8 523.0 L368.7 529.2 L365.6 534.3 L363.6 539.4 L361.5 537.4 L359.5 535.3 L355.4 539.4 L351.3 543.5 L348.2 546.6 L345.1 545.6 L342.0 544.5 L339.0 543.5 L334.9 547.6 L331.8 551.7 Z M432.1 515.5 L436.4 514.4 L440.7 515.5 L445.0 517.6 L448.2 520.9 L445.0 519.8 L440.7 520.9 L438.5 522.5 L435.3 519.8 L432.1 518.7 Z" fill="#bebebe" fill-rule="evenodd"/>
<path d="M300.0 560.9 L304.1 558.9 L308.2 555.8 L312.3 551.7 L316.4 545.6 L320.5 539.4 L324.6 537.4 L328.7 532.2 L332.8 527.1 L335.9 521.0 L339.0 517.9 L343.1 514.8 L347.2 515.3 L349.2 511.8 L351.3 508.7 L355.4 507.1 L359.5 508.2 L363.6 508.2 L365.6 507.7 L368.7 510.2 L371.8 507.7 L374.8 506.6 L374.0 506.3 L378.3 507.4 L382.6 510.1 L385.8 513.3 L390.1 515.0 L394.4 517.6 L397.7 521.9 L400.9 526.2 L404.1 531.6 L408.4 537.0 L411.6 536.5 L417.0 538.1 L421.3 538.6 L425.6 542.9 L429.9 540.2 L434.2 535.4 L438.5 537.0 L443.9 539.2 L447.1 537.0 L449.3 529.5 L453.6 526.2" fill="none" stroke="#2ca050" stroke-width="2.8" stroke-linejoin="round" stroke-linecap="butt"/>
<path d="M300.0 573.2 L303.1 571.7 L306.2 572.7 L309.3 574.2 L312.3 570.1 L315.4 566.0 L318.5 564.0 L321.6 562.5 L324.6 563.0 L327.7 566.0 L330.8 569.1 L333.9 568.1 L336.9 563.0 L340.0 559.9 L343.1 560.4 L346.1 563.0 L349.2 566.0 L352.3 561.9 L355.4 555.8 L358.4 550.7 L360.5 549.7 L362.5 552.7 L365.6 555.8 L368.7 550.7 L370.7 543.5 L373.8 535.3 L375.8 532.2 L374.0 535.4 L377.2 533.2 L380.5 534.3 L383.7 535.9 L386.9 529.5 L390.1 521.9 L392.3 519.8 L395.5 523.0 L398.7 527.3 L402.0 524.1 L405.2 515.5 L408.4 512.3 L411.6 515.5 L414.9 520.9 L418.1 526.2 L421.3 523.0 L425.6 518.2 L428.9 519.8 L432.1 527.3 L436.4 532.7 L439.6 533.8 L442.8 531.6 L447.1 534.9 L450.4 538.1 L453.6 542.4" fill="none" stroke="#0000ee" stroke-width="2.8" stroke-linejoin="round" stroke-linecap="butt"/>
<path d="M300.0 557.8 L302.1 561.9 L305.2 563.5 L308.2 562.5 L312.3 561.9 L315.4 563.0 L318.5 566.0 L321.6 570.1 L324.6 572.7 L328.7 572.7 L332.8 572.2 L336.9 571.7 L340.0 572.2 L343.1 573.2 L346.1 572.2 L349.2 569.1 L352.3 566.0 L355.4 564.0 L359.5 561.9 L362.5 558.9 L365.6 553.8 L368.7 547.6 L371.8 543.5 L374.8 541.5 L374.0 541.8 L378.3 539.2 L382.6 534.9 L385.8 530.5 L389.1 526.2 L392.3 525.7 L395.5 525.2 L398.7 520.9 L400.9 516.6 L405.2 511.2 L409.5 509.0 L413.8 507.4 L417.0 503.7 L420.2 499.9 L424.5 500.4 L428.9 501.0 L433.2 502.0 L437.5 500.4 L440.7 501.5 L445.0 504.7 L449.3 505.3 L453.6 504.7" fill="none" stroke="#e02020" stroke-width="2.8" stroke-linejoin="round" stroke-linecap="butt"/>
<path d="M524.2 551.5 L528.2 552.5 L532.3 552.5 L536.4 553.0 L540.5 554.0 L544.6 553.5 L548.7 550.4 L552.8 547.4 L556.9 543.3 L561.0 538.1 L565.1 534.0 L569.2 531.0 L573.3 527.9 L577.4 523.8 L581.5 522.8 L585.6 521.8 L589.7 519.7 L593.8 517.7 L598.0 514.7 L603.4 513.7 L608.8 513.1 L614.1 514.2 L619.5 515.8 L624.9 518.5 L628.1 520.1 L632.4 516.9 L638.9 514.7 L643.2 509.4 L647.5 507.2 L651.8 505.1 L656.1 504.0 L660.4 501.8 L664.7 500.8 L671.1 500.8 L678.2 499.1 L678.2 569.6 L671.1 565.3 L666.8 565.3 L662.5 565.3 L658.2 563.1 L653.9 559.9 L649.6 561.0 L645.3 563.1 L642.1 565.3 L638.9 563.1 L634.6 562.1 L630.3 565.3 L628.1 567.4 L624.9 571.7 L619.5 571.7 L614.1 575.0 L608.8 581.4 L603.4 582.5 L612.8 580.2 L607.6 584.1 L601.2 587.9 L594.8 593.0 L589.7 598.8 L584.6 599.4 L579.5 603.3 L574.3 608.4 L569.2 606.5 L561.5 607.1 L555.1 609.7 L547.4 607.1 L541.0 611.0 L534.6 614.2 L528.2 613.5 L524.2 612.3 Z M570.2 563.8 L574.3 559.7 L578.4 555.6 L583.5 553.5 L588.6 552.5 L585.6 555.6 L581.5 556.6 L577.4 559.7 L573.3 562.7 Z M661.5 522.8 L665.8 522.0 L670.1 522.3 L671.7 523.9 L669.0 525.0 L664.7 524.6 L662.0 524.2 Z M653.1 524.6 L655.5 524.2 L657.4 525.3 L655.0 526.0 Z" fill="#bebebe" fill-rule="evenodd"/>
<path d="M524.1 585.8 L528.2 583.7 L532.3 582.2 L536.4 580.1 L540.5 576.0 L544.6 570.9 L548.7 566.8 L552.8 562.7 L556.9 558.6 L561.0 552.5 L565.1 548.9 L569.2 546.9 L573.3 545.3 L575.3 542.2 L579.4 539.2 L583.5 537.6 L587.6 536.1 L591.7 535.1 L595.8 533.5 L598.0 530.9 L602.3 529.8 L606.6 529.3 L610.9 531.4 L615.2 530.9 L619.5 532.5 L623.8 535.2 L627.0 537.3 L630.3 540.5 L633.5 542.2 L637.8 542.7 L642.1 542.7 L646.4 542.7 L649.6 544.9 L652.9 543.8 L656.1 541.6 L660.4 538.9 L664.7 540.5 L669.0 541.1 L672.2 538.4 L675.4 533.0 L678.1 531.9" fill="none" stroke="#2ca050" stroke-width="2.8" stroke-linejoin="round" stroke-linecap="butt"/>
<path d="M524.1 593.5 L528.2 591.4 L534.3 593.5 L538.4 590.9 L542.5 588.3 L546.6 586.3 L549.7 586.3 L552.8 588.3 L556.9 590.9 L561.0 588.3 L565.1 584.2 L569.2 584.8 L573.3 587.3 L576.3 588.3 L579.4 584.2 L583.5 578.1 L586.6 577.1 L590.7 579.6 L593.8 575.0 L596.8 567.8 L598.0 568.5 L601.2 564.2 L605.5 565.3 L608.8 564.2 L613.1 557.8 L617.4 551.8 L620.6 553.5 L624.9 554.5 L628.1 550.2 L631.3 542.7 L634.6 541.6 L638.9 545.9 L642.1 548.6 L646.4 544.9 L650.7 541.1 L653.9 542.7 L658.2 547.0 L662.5 549.7 L666.8 547.5 L671.1 548.1 L674.4 550.2 L678.1 553.5" fill="none" stroke="#0000ee" stroke-width="2.8" stroke-linejoin="round" stroke-linecap="butt"/>
<path d="M524.1 559.7 L527.2 561.7 L530.2 563.8 L534.3 563.2 L538.4 563.8 L542.5 565.8 L546.6 568.9 L549.7 571.9 L554.8 572.5 L559.9 573.0 L565.1 574.0 L570.2 575.0 L574.3 573.5 L578.4 570.9 L582.5 569.4 L586.6 567.8 L590.7 563.8 L593.8 558.6 L597.8 555.6 L598.0 555.6 L602.3 553.5 L606.6 550.2 L610.9 545.9 L615.2 542.7 L619.5 542.2 L623.8 538.4 L627.0 534.1 L630.3 529.8 L634.6 526.6 L638.9 524.4 L643.2 520.1 L646.4 516.9 L650.7 515.3 L655.0 514.2 L659.3 512.6 L663.6 511.0 L667.9 511.5 L672.2 511.0 L678.1 509.9" fill="none" stroke="#e02020" stroke-width="2.8" stroke-linejoin="round" stroke-linecap="butt"/>
<path d="M80.5 472H75.5V623.3H80.5M75.5 547.7H80.5" fill="none" stroke="#111" stroke-width="1.4"/>
<text x="67" y="478" font-size="20" text-anchor="end">300</text>
<text x="67" y="553.5" font-size="20" text-anchor="end">150</text>
<text x="67" y="629" font-size="20" text-anchor="end">0</text>
<path d="M303.9 472H298.9V623H303.9M298.9 547.7H303.9" fill="none" stroke="#111" stroke-width="1.4"/>
<text x="291.5" y="478" font-size="20" text-anchor="end">160</text>
<text x="291.5" y="553.5" font-size="20" text-anchor="end">135</text>
<text x="291.5" y="629" font-size="20" text-anchor="end">110</text>
<path d="M528.6 472H523.6V623.1H528.6M523.6 548.1H528.6" fill="none" stroke="#111" stroke-width="1.4"/>
<text x="515" y="478" font-size="20" text-anchor="end">145</text>
<text x="515" y="553.5" font-size="20" text-anchor="end">135</text>
<text x="515" y="629" font-size="20" text-anchor="end">125</text>
<text transform="translate(19.5,632) rotate(-90)" font-size="20">Firing rate (spk s<tspan dy="-8" font-size="13">&#8722;1</tspan><tspan dy="8">)</tspan></text>
<line x1="89" y1="632.7" x2="140.7" y2="632.7" stroke="#000" stroke-width="1.6"/>
<text x="93" y="653" font-size="20">20 ms</text>
<path d="M394.9 593.5H391.9V669.2H394.9M391.9 631.1H394.9" fill="none" stroke="#333" stroke-width="1"/>
<text x="384.9" y="598.5" font-size="14" text-anchor="end">300</text>
<text x="384.9" y="636" font-size="14" text-anchor="end">150</text>
<text x="384.9" y="674" font-size="14" text-anchor="end">0</text>
<path d="M391.9 637.2 L398.0 636.9 L404.2 637.2 L410.3 637.2 L416.5 636.5 L422.6 635.7 L428.8 634.5 L434.9 633.9 L441.0 633.4 L447.2 632.9 L453.3 632.6 L459.5 633.4 L469.5 634.2" fill="none" stroke="#0000ee" stroke-width="1.3"/>
<path d="M391.9 637.2 L398.0 637.6 L404.2 637.6 L410.3 637.2 L416.5 636.9 L422.6 636.0 L428.8 634.9 L434.9 634.2 L441.0 632.9 L447.2 631.9 L453.3 631.1 L459.5 631.4 L469.5 631.6" fill="none" stroke="#e02020" stroke-width="1.3"/>
<path d="M391.9 636.5 L398.0 634.9 L404.2 633.9 L410.3 632.6 L416.5 631.9 L422.6 631.9 L428.8 631.9 L434.9 632.6 L441.0 633.4 L447.2 634.5 L453.3 634.9 L459.5 634.9 L469.5 634.5" fill="none" stroke="#2ca050" stroke-width="1.3"/>
<path d="M624.9 593.5H621.9V669.2H624.9M621.9 631.1H624.9" fill="none" stroke="#333" stroke-width="1"/>
<text x="614.9" y="598.5" font-size="14" text-anchor="end">300</text>
<text x="614.9" y="636" font-size="14" text-anchor="end">150</text>
<text x="614.9" y="674" font-size="14" text-anchor="end">0</text>
<path d="M622.6 636.6 L660.0 635.8 L699.5 635.0" fill="none" stroke="#3a8a6a" stroke-width="1.3"/>
<path d="M640.0 636.2 L699.5 635.2" fill="none" stroke="#a05050" stroke-width="1.3"/>
<text x="95" y="388" font-size="20"><tspan font-family="Liberation Serif" font-style="italic">&#964;</tspan> = 1 ms</text>
<text x="334" y="388" font-size="20"><tspan font-family="Liberation Serif" font-style="italic">&#964;</tspan> = 26 ms</text>
<text x="553" y="388" font-size="20"><tspan font-family="Liberation Serif" font-style="italic">&#964;</tspan> = 100 ms</text>
<path d="M122.8 447H159.7M131.7 397.4L132.3 440Q132.6 446 135 446.6" fill="none" stroke="#000" stroke-width="1.4"/>
<path d="M326.1 446.8H426M334.9 446.8V398.4 L334.9 398.4 L336.4 404.9 L337.9 410.6 L339.5 415.4 L341.0 419.7 L342.5 423.3 L344.0 426.5 L345.5 429.2 L347.0 431.6 L348.6 433.6 L350.1 435.4 L351.6 436.9 L353.1 438.3 L354.6 439.4 L356.2 440.4 L357.7 441.3 L359.2 442.0 L360.7 442.7 L362.2 443.2 L363.7 443.7 L365.3 444.1 L366.8 444.5 L368.3 444.8 L369.8 445.1 L371.3 445.3 L372.9 445.5 L374.4 445.7 L375.9 445.8 L377.4 446.0 L378.9 446.1 L380.4 446.2 L382.0 446.3 L383.5 446.3 L385.0 446.4 L386.5 446.4 L388.0 446.5 L389.6 446.5 L391.1 446.6 L392.6 446.6 L394.1 446.6 L395.6 446.7 L397.2 446.7 L398.7 446.7 L400.2 446.7 L401.7 446.7 L403.2 446.7 L404.7 446.7 L406.3 446.7 L407.8 446.8 L409.3 446.8 L410.8 446.8 L412.3 446.8 L413.9 446.8 L415.4 446.8 L416.9 446.8 L418.4 446.8 L419.9 446.8 L421.4 446.8 L423.0 446.8 L424.5 446.8 L426.0 446.8" fill="none" stroke="#000" stroke-width="1.3"/>
<line x1="334.9" y1="429.0" x2="345.4" y2="429.0" stroke="#000" stroke-width="1.5"/>
<path d="M517.3 446.8H686.7M526 446.8V398.4 L526.0 398.4 L528.7 399.8 L531.4 401.2 L534.0 402.5 L536.7 403.8 L539.4 405.1 L542.1 406.3 L544.7 407.5 L547.4 408.6 L550.1 409.7 L552.8 410.8 L555.5 411.8 L558.1 412.9 L560.8 413.9 L563.5 414.8 L566.2 415.8 L568.9 416.7 L571.5 417.5 L574.2 418.4 L576.9 419.2 L579.6 420.0 L582.2 420.8 L584.9 421.6 L587.6 422.3 L590.3 423.0 L593.0 423.7 L595.6 424.4 L598.3 425.0 L601.0 425.7 L603.7 426.3 L606.4 426.9 L609.0 427.5 L611.7 428.0 L614.4 428.6 L617.1 429.1 L619.7 429.6 L622.4 430.1 L625.1 430.6 L627.8 431.1 L630.5 431.5 L633.1 432.0 L635.8 432.4 L638.5 432.8 L641.2 433.2 L643.8 433.6 L646.5 434.0 L649.2 434.4 L651.9 434.8 L654.6 435.1 L657.2 435.4 L659.9 435.8 L662.6 436.1 L665.3 436.4 L668.0 436.7 L670.6 437.0 L673.3 437.3 L676.0 437.6 L678.7 437.8 L681.3 438.1 L684.0 438.4 L686.7 438.6" fill="none" stroke="#000" stroke-width="1.3"/>
<line x1="526" y1="429.0" x2="616.5" y2="429.0" stroke="#000" stroke-width="1.5"/>
<text x="545" y="424" font-size="18" font-family="Liberation Serif" font-style="italic">&#964;</text>
<text x="3" y="707.5" font-size="29" text-anchor="start" font-weight="bold">c</text>
<g shape-rendering="crispEdges">
<rect x="74.20" y="721.70" width="8.05" height="8.05" fill="#0000c2"/>
<rect x="81.85" y="721.70" width="8.05" height="8.05" fill="#0000c2"/>
<rect x="89.50" y="721.70" width="8.05" height="8.05" fill="#0000c2"/>
<rect x="97.15" y="721.70" width="8.05" height="8.05" fill="#0000c2"/>
<rect x="104.80" y="721.70" width="8.05" height="8.05" fill="#0000c2"/>
<rect x="112.45" y="721.70" width="8.05" height="8.05" fill="#0000c2"/>
<rect x="120.10" y="721.70" width="8.05" height="8.05" fill="#0000c2"/>
<rect x="127.75" y="721.70" width="8.05" height="8.05" fill="#0000c2"/>
<rect x="135.40" y="721.70" width="8.05" height="8.05" fill="#0000c2"/>
<rect x="143.05" y="721.70" width="8.05" height="8.05" fill="#0014ff"/>
<rect x="150.70" y="721.70" width="8.05" height="8.05" fill="#0000e0"/>
<rect x="158.35" y="721.70" width="8.05" height="8.05" fill="#0000c2"/>
<rect x="166.00" y="721.70" width="8.05" height="8.05" fill="#0000c2"/>
<rect x="173.65" y="721.70" width="8.05" height="8.05" fill="#0000c2"/>
<rect x="181.30" y="721.70" width="8.05" height="8.05" fill="#0000c2"/>
<rect x="188.95" y="721.70" width="8.05" height="8.05" fill="#0000c2"/>
<rect x="196.60" y="721.70" width="8.05" height="8.05" fill="#0000c2"/>
<rect x="204.25" y="721.70" width="8.05" height="8.05" fill="#0000c2"/>
<rect x="211.90" y="721.70" width="8.05" height="8.05" fill="#0000c2"/>
<rect x="219.55" y="721.70" width="8.05" height="8.05" fill="#0000e0"/>
<rect x="74.20" y="729.35" width="8.05" height="8.05" fill="#0000e0"/>
<rect x="81.85" y="729.35" width="8.05" height="8.05" fill="#0000a6"/>
<rect x="89.50" y="729.35" width="8.05" height="8.05" fill="#00008f"/>
<rect x="97.15" y="729.35" width="8.05" height="8.05" fill="#0000a6"/>
<rect x="104.80" y="729.35" width="8.05" height="8.05" fill="#0000c2"/>
<rect x="112.45" y="729.35" width="8.05" height="8.05" fill="#0000a6"/>
<rect x="120.10" y="729.35" width="8.05" height="8.05" fill="#0000a6"/>
<rect x="127.75" y="729.35" width="8.05" height="8.05" fill="#0000e0"/>
<rect x="135.40" y="729.35" width="8.05" height="8.05" fill="#0000e0"/>
<rect x="143.05" y="729.35" width="8.05" height="8.05" fill="#0000a6"/>
<rect x="150.70" y="729.35" width="8.05" height="8.05" fill="#0000e0"/>
<rect x="158.35" y="729.35" width="8.05" height="8.05" fill="#0000e0"/>
<rect x="166.00" y="729.35" width="8.05" height="8.05" fill="#0000e0"/>
<rect x="173.65" y="729.35" width="8.05" height="8.05" fill="#0000c2"/>
<rect x="181.30" y="729.35" width="8.05" height="8.05" fill="#0000a6"/>
<rect x="188.95" y="729.35" width="8.05" height="8.05" fill="#0000a6"/>
<rect x="196.60" y="729.35" width="8.05" height="8.05" fill="#0000a6"/>
<rect x="204.25" y="729.35" width="8.05" height="8.05" fill="#0000a6"/>
<rect x="211.90" y="729.35" width="8.05" height="8.05" fill="#006bff"/>
<rect x="219.55" y="729.35" width="8.05" height="8.05" fill="#0000a6"/>
<rect x="74.20" y="737.00" width="8.05" height="8.05" fill="#0000c2"/>
<rect x="81.85" y="737.00" width="8.05" height="8.05" fill="#0000c2"/>
<rect x="89.50" y="737.00" width="8.05" height="8.05" fill="#0000a6"/>
<rect x="97.15" y="737.00" width="8.05" height="8.05" fill="#0000c2"/>
<rect x="104.80" y="737.00" width="8.05" height="8.05" fill="#0000a6"/>
<rect x="112.45" y="737.00" width="8.05" height="8.05" fill="#0000a6"/>
<rect x="120.10" y="737.00" width="8.05" height="8.05" fill="#0000c2"/>
<rect x="127.75" y="737.00" width="8.05" height="8.05" fill="#0000c2"/>
<rect x="135.40" y="737.00" width="8.05" height="8.05" fill="#0000a6"/>
<rect x="143.05" y="737.00" width="8.05" height="8.05" fill="#0000c2"/>
<rect x="150.70" y="737.00" width="8.05" height="8.05" fill="#0000c2"/>
<rect x="158.35" y="737.00" width="8.05" height="8.05" fill="#0000c2"/>
<rect x="166.00" y="737.00" width="8.05" height="8.05" fill="#00008f"/>
<rect x="173.65" y="737.00" width="8.05" height="8.05" fill="#0000c2"/>
<rect x="181.30" y="737.00" width="8.05" height="8.05" fill="#0014ff"/>
<rect x="188.95" y="737.00" width="8.05" height="8.05" fill="#0000c2"/>
<rect x="196.60" y="737.00" width="8.05" height="8.05" fill="#0000c2"/>
<rect x="204.25" y="737.00" width="8.05" height="8.05" fill="#0014ff"/>
<rect x="211.90" y="737.00" width="8.05" height="8.05" fill="#0000c2"/>
<rect x="219.55" y="737.00" width="8.05" height="8.05" fill="#0000c2"/>
<rect x="74.20" y="744.65" width="8.05" height="8.05" fill="#0000c2"/>
<rect x="81.85" y="744.65" width="8.05" height="8.05" fill="#0000c2"/>
<rect x="89.50" y="744.65" width="8.05" height="8.05" fill="#0000c2"/>
<rect x="97.15" y="744.65" width="8.05" height="8.05" fill="#0000e0"/>
<rect x="104.80" y="744.65" width="8.05" height="8.05" fill="#0000c2"/>
<rect x="112.45" y="744.65" width="8.05" height="8.05" fill="#0000c2"/>
<rect x="120.10" y="744.65" width="8.05" height="8.05" fill="#0000a6"/>
<rect x="127.75" y="744.65" width="8.05" height="8.05" fill="#0014ff"/>
<rect x="135.40" y="744.65" width="8.05" height="8.05" fill="#0000c2"/>
<rect x="143.05" y="744.65" width="8.05" height="8.05" fill="#0000a6"/>
<rect x="150.70" y="744.65" width="8.05" height="8.05" fill="#0000c2"/>
<rect x="158.35" y="744.65" width="8.05" height="8.05" fill="#0000c2"/>
<rect x="166.00" y="744.65" width="8.05" height="8.05" fill="#0000c2"/>
<rect x="173.65" y="744.65" width="8.05" height="8.05" fill="#00008f"/>
<rect x="181.30" y="744.65" width="8.05" height="8.05" fill="#0000c2"/>
<rect x="188.95" y="744.65" width="8.05" height="8.05" fill="#0000c2"/>
<rect x="196.60" y="744.65" width="8.05" height="8.05" fill="#006bff"/>
<rect x="204.25" y="744.65" width="8.05" height="8.05" fill="#0000a6"/>
<rect x="211.90" y="744.65" width="8.05" height="8.05" fill="#0000c2"/>
<rect x="219.55" y="744.65" width="8.05" height="8.05" fill="#0000c2"/>
<rect x="74.20" y="752.30" width="8.05" height="8.05" fill="#0000c2"/>
<rect x="81.85" y="752.30" width="8.05" height="8.05" fill="#0000c2"/>
<rect x="89.50" y="752.30" width="8.05" height="8.05" fill="#0014ff"/>
<rect x="97.15" y="752.30" width="8.05" height="8.05" fill="#00008f"/>
<rect x="104.80" y="752.30" width="8.05" height="8.05" fill="#0000c2"/>
<rect x="112.45" y="752.30" width="8.05" height="8.05" fill="#0000c2"/>
<rect x="120.10" y="752.30" width="8.05" height="8.05" fill="#0000c2"/>
<rect x="127.75" y="752.30" width="8.05" height="8.05" fill="#0000c2"/>
<rect x="135.40" y="752.30" width="8.05" height="8.05" fill="#0000c2"/>
<rect x="143.05" y="752.30" width="8.05" height="8.05" fill="#0000a6"/>
<rect x="150.70" y="752.30" width="8.05" height="8.05" fill="#0000c2"/>
<rect x="158.35" y="752.30" width="8.05" height="8.05" fill="#0000e0"/>
<rect x="166.00" y="752.30" width="8.05" height="8.05" fill="#0000c2"/>
<rect x="173.65" y="752.30" width="8.05" height="8.05" fill="#0000a6"/>
<rect x="181.30" y="752.30" width="8.05" height="8.05" fill="#0014ff"/>
<rect x="188.95" y="752.30" width="8.05" height="8.05" fill="#0000a6"/>
<rect x="196.60" y="752.30" width="8.05" height="8.05" fill="#0047ff"/>
<rect x="204.25" y="752.30" width="8.05" height="8.05" fill="#0014ff"/>
<rect x="211.90" y="752.30" width="8.05" height="8.05" fill="#0000c2"/>
<rect x="219.55" y="752.30" width="8.05" height="8.05" fill="#0000c2"/>
<rect x="74.20" y="759.95" width="8.05" height="8.05" fill="#0000e0"/>
<rect x="81.85" y="759.95" width="8.05" height="8.05" fill="#0000c2"/>
<rect x="89.50" y="759.95" width="8.05" height="8.05" fill="#0000c2"/>
<rect x="97.15" y="759.95" width="8.05" height="8.05" fill="#0000c2"/>
<rect x="104.80" y="759.95" width="8.05" height="8.05" fill="#0000c2"/>
<rect x="112.45" y="759.95" width="8.05" height="8.05" fill="#0047ff"/>
<rect x="120.10" y="759.95" width="8.05" height="8.05" fill="#0000a6"/>
<rect x="127.75" y="759.95" width="8.05" height="8.05" fill="#0000c2"/>
<rect x="135.40" y="759.95" width="8.05" height="8.05" fill="#0000a6"/>
<rect x="143.05" y="759.95" width="8.05" height="8.05" fill="#0000a6"/>
<rect x="150.70" y="759.95" width="8.05" height="8.05" fill="#0000e0"/>
<rect x="158.35" y="759.95" width="8.05" height="8.05" fill="#0000a6"/>
<rect x="166.00" y="759.95" width="8.05" height="8.05" fill="#0000a6"/>
<rect x="173.65" y="759.95" width="8.05" height="8.05" fill="#0000c2"/>
<rect x="181.30" y="759.95" width="8.05" height="8.05" fill="#006bff"/>
<rect x="188.95" y="759.95" width="8.05" height="8.05" fill="#0014ff"/>
<rect x="196.60" y="759.95" width="8.05" height="8.05" fill="#0000c2"/>
<rect x="204.25" y="759.95" width="8.05" height="8.05" fill="#0000c2"/>
<rect x="211.90" y="759.95" width="8.05" height="8.05" fill="#0000c2"/>
<rect x="219.55" y="759.95" width="8.05" height="8.05" fill="#0000c2"/>
<rect x="74.20" y="767.60" width="8.05" height="8.05" fill="#0000c2"/>
<rect x="81.85" y="767.60" width="8.05" height="8.05" fill="#0000c2"/>
<rect x="89.50" y="767.60" width="8.05" height="8.05" fill="#0000c2"/>
<rect x="97.15" y="767.60" width="8.05" height="8.05" fill="#0000e0"/>
<rect x="104.80" y="767.60" width="8.05" height="8.05" fill="#0000a6"/>
<rect x="112.45" y="767.60" width="8.05" height="8.05" fill="#0000c2"/>
<rect x="120.10" y="767.60" width="8.05" height="8.05" fill="#0000a6"/>
<rect x="127.75" y="767.60" width="8.05" height="8.05" fill="#0000c2"/>
<rect x="135.40" y="767.60" width="8.05" height="8.05" fill="#0000c2"/>
<rect x="143.05" y="767.60" width="8.05" height="8.05" fill="#0000c2"/>
<rect x="150.70" y="767.60" width="8.05" height="8.05" fill="#0000c2"/>
<rect x="158.35" y="767.60" width="8.05" height="8.05" fill="#0000c2"/>
<rect x="166.00" y="767.60" width="8.05" height="8.05" fill="#0000c2"/>
<rect x="173.65" y="767.60" width="8.05" height="8.05" fill="#0000c2"/>
<rect x="181.30" y="767.60" width="8.05" height="8.05" fill="#0000c2"/>
<rect x="188.95" y="767.60" width="8.05" height="8.05" fill="#0000c2"/>
<rect x="196.60" y="767.60" width="8.05" height="8.05" fill="#0000c2"/>
<rect x="204.25" y="767.60" width="8.05" height="8.05" fill="#0000c2"/>
<rect x="211.90" y="767.60" width="8.05" height="8.05" fill="#0000c2"/>
<rect x="219.55" y="767.60" width="8.05" height="8.05" fill="#0000c2"/>
<rect x="74.20" y="775.25" width="8.05" height="8.05" fill="#0000c2"/>
<rect x="81.85" y="775.25" width="8.05" height="8.05" fill="#0000c2"/>
<rect x="89.50" y="775.25" width="8.05" height="8.05" fill="#0000c2"/>
<rect x="97.15" y="775.25" width="8.05" height="8.05" fill="#0000c2"/>
<rect x="104.80" y="775.25" width="8.05" height="8.05" fill="#0000e0"/>
<rect x="112.45" y="775.25" width="8.05" height="8.05" fill="#0000c2"/>
<rect x="120.10" y="775.25" width="8.05" height="8.05" fill="#0000c2"/>
<rect x="127.75" y="775.25" width="8.05" height="8.05" fill="#0000c2"/>
<rect x="135.40" y="775.25" width="8.05" height="8.05" fill="#0000c2"/>
<rect x="143.05" y="775.25" width="8.05" height="8.05" fill="#0000c2"/>
<rect x="150.70" y="775.25" width="8.05" height="8.05" fill="#0000c2"/>
<rect x="158.35" y="775.25" width="8.05" height="8.05" fill="#0000a6"/>
<rect x="166.00" y="775.25" width="8.05" height="8.05" fill="#0047ff"/>
<rect x="173.65" y="775.25" width="8.05" height="8.05" fill="#0000c2"/>
<rect x="181.30" y="775.25" width="8.05" height="8.05" fill="#0000c2"/>
<rect x="188.95" y="775.25" width="8.05" height="8.05" fill="#0000c2"/>
<rect x="196.60" y="775.25" width="8.05" height="8.05" fill="#0000a6"/>
<rect x="204.25" y="775.25" width="8.05" height="8.05" fill="#0000c2"/>
<rect x="211.90" y="775.25" width="8.05" height="8.05" fill="#0000c2"/>
<rect x="219.55" y="775.25" width="8.05" height="8.05" fill="#0000c2"/>
<rect x="74.20" y="782.90" width="8.05" height="8.05" fill="#0000c2"/>
<rect x="81.85" y="782.90" width="8.05" height="8.05" fill="#0000e0"/>
<rect x="89.50" y="782.90" width="8.05" height="8.05" fill="#0000c2"/>
<rect x="97.15" y="782.90" width="8.05" height="8.05" fill="#0000a6"/>
<rect x="104.80" y="782.90" width="8.05" height="8.05" fill="#0000c2"/>
<rect x="112.45" y="782.90" width="8.05" height="8.05" fill="#0000c2"/>
<rect x="120.10" y="782.90" width="8.05" height="8.05" fill="#0000c2"/>
<rect x="127.75" y="782.90" width="8.05" height="8.05" fill="#0000c2"/>
<rect x="135.40" y="782.90" width="8.05" height="8.05" fill="#0000e0"/>
<rect x="143.05" y="782.90" width="8.05" height="8.05" fill="#0000e0"/>
<rect x="150.70" y="782.90" width="8.05" height="8.05" fill="#0000c2"/>
<rect x="158.35" y="782.90" width="8.05" height="8.05" fill="#0099ff"/>
<rect x="166.00" y="782.90" width="8.05" height="8.05" fill="#0000c2"/>
<rect x="173.65" y="782.90" width="8.05" height="8.05" fill="#0000c2"/>
<rect x="181.30" y="782.90" width="8.05" height="8.05" fill="#0000e0"/>
<rect x="188.95" y="782.90" width="8.05" height="8.05" fill="#0000e0"/>
<rect x="196.60" y="782.90" width="8.05" height="8.05" fill="#0000c2"/>
<rect x="204.25" y="782.90" width="8.05" height="8.05" fill="#0000c2"/>
<rect x="211.90" y="782.90" width="8.05" height="8.05" fill="#0014ff"/>
<rect x="219.55" y="782.90" width="8.05" height="8.05" fill="#0000c2"/>
<rect x="74.20" y="790.55" width="8.05" height="8.05" fill="#0000c2"/>
<rect x="81.85" y="790.55" width="8.05" height="8.05" fill="#0000c2"/>
<rect x="89.50" y="790.55" width="8.05" height="8.05" fill="#0000a6"/>
<rect x="97.15" y="790.55" width="8.05" height="8.05" fill="#0000c2"/>
<rect x="104.80" y="790.55" width="8.05" height="8.05" fill="#0000c2"/>
<rect x="112.45" y="790.55" width="8.05" height="8.05" fill="#0000a6"/>
<rect x="120.10" y="790.55" width="8.05" height="8.05" fill="#0000c2"/>
<rect x="127.75" y="790.55" width="8.05" height="8.05" fill="#0000c2"/>
<rect x="135.40" y="790.55" width="8.05" height="8.05" fill="#0000e0"/>
<rect x="143.05" y="790.55" width="8.05" height="8.05" fill="#0014ff"/>
<rect x="150.70" y="790.55" width="8.05" height="8.05" fill="#0000c2"/>
<rect x="158.35" y="790.55" width="8.05" height="8.05" fill="#0000c2"/>
<rect x="166.00" y="790.55" width="8.05" height="8.05" fill="#0000c2"/>
<rect x="173.65" y="790.55" width="8.05" height="8.05" fill="#0000c2"/>
<rect x="181.30" y="790.55" width="8.05" height="8.05" fill="#0000c2"/>
<rect x="188.95" y="790.55" width="8.05" height="8.05" fill="#0000c2"/>
<rect x="196.60" y="790.55" width="8.05" height="8.05" fill="#0000c2"/>
<rect x="204.25" y="790.55" width="8.05" height="8.05" fill="#0000c2"/>
<rect x="211.90" y="790.55" width="8.05" height="8.05" fill="#0000c2"/>
<rect x="219.55" y="790.55" width="8.05" height="8.05" fill="#0000c2"/>
<rect x="74.20" y="798.20" width="8.05" height="8.05" fill="#0000c2"/>
<rect x="81.85" y="798.20" width="8.05" height="8.05" fill="#0000a6"/>
<rect x="89.50" y="798.20" width="8.05" height="8.05" fill="#0000a6"/>
<rect x="97.15" y="798.20" width="8.05" height="8.05" fill="#0000a6"/>
<rect x="104.80" y="798.20" width="8.05" height="8.05" fill="#0000a6"/>
<rect x="112.45" y="798.20" width="8.05" height="8.05" fill="#0000a6"/>
<rect x="120.10" y="798.20" width="8.05" height="8.05" fill="#0000a6"/>
<rect x="127.75" y="798.20" width="8.05" height="8.05" fill="#0000c2"/>
<rect x="135.40" y="798.20" width="8.05" height="8.05" fill="#0000c2"/>
<rect x="143.05" y="798.20" width="8.05" height="8.05" fill="#0047ff"/>
<rect x="150.70" y="798.20" width="8.05" height="8.05" fill="#0000e0"/>
<rect x="158.35" y="798.20" width="8.05" height="8.05" fill="#0000c2"/>
<rect x="166.00" y="798.20" width="8.05" height="8.05" fill="#0000c2"/>
<rect x="173.65" y="798.20" width="8.05" height="8.05" fill="#0000c2"/>
<rect x="181.30" y="798.20" width="8.05" height="8.05" fill="#0000c2"/>
<rect x="188.95" y="798.20" width="8.05" height="8.05" fill="#0000a6"/>
<rect x="196.60" y="798.20" width="8.05" height="8.05" fill="#0000c2"/>
<rect x="204.25" y="798.20" width="8.05" height="8.05" fill="#0000c2"/>
<rect x="211.90" y="798.20" width="8.05" height="8.05" fill="#0000c2"/>
<rect x="219.55" y="798.20" width="8.05" height="8.05" fill="#0000e0"/>
<rect x="74.20" y="805.85" width="8.05" height="8.05" fill="#0000e0"/>
<rect x="81.85" y="805.85" width="8.05" height="8.05" fill="#0000e0"/>
<rect x="89.50" y="805.85" width="8.05" height="8.05" fill="#0000c2"/>
<rect x="97.15" y="805.85" width="8.05" height="8.05" fill="#0000e0"/>
<rect x="104.80" y="805.85" width="8.05" height="8.05" fill="#0000e0"/>
<rect x="112.45" y="805.85" width="8.05" height="8.05" fill="#0000a6"/>
<rect x="120.10" y="805.85" width="8.05" height="8.05" fill="#0000e0"/>
<rect x="127.75" y="805.85" width="8.05" height="8.05" fill="#0000c2"/>
<rect x="135.40" y="805.85" width="8.05" height="8.05" fill="#0014ff"/>
<rect x="143.05" y="805.85" width="8.05" height="8.05" fill="#0000c2"/>
<rect x="150.70" y="805.85" width="8.05" height="8.05" fill="#0000c2"/>
<rect x="158.35" y="805.85" width="8.05" height="8.05" fill="#0000c2"/>
<rect x="166.00" y="805.85" width="8.05" height="8.05" fill="#0000a6"/>
<rect x="173.65" y="805.85" width="8.05" height="8.05" fill="#0000c2"/>
<rect x="181.30" y="805.85" width="8.05" height="8.05" fill="#0000c2"/>
<rect x="188.95" y="805.85" width="8.05" height="8.05" fill="#0000c2"/>
<rect x="196.60" y="805.85" width="8.05" height="8.05" fill="#0000c2"/>
<rect x="204.25" y="805.85" width="8.05" height="8.05" fill="#0000e0"/>
<rect x="211.90" y="805.85" width="8.05" height="8.05" fill="#0000c2"/>
<rect x="219.55" y="805.85" width="8.05" height="8.05" fill="#0000c2"/>
<rect x="74.20" y="813.50" width="8.05" height="8.05" fill="#0000c2"/>
<rect x="81.85" y="813.50" width="8.05" height="8.05" fill="#0000c2"/>
<rect x="89.50" y="813.50" width="8.05" height="8.05" fill="#0000c2"/>
<rect x="97.15" y="813.50" width="8.05" height="8.05" fill="#0000a6"/>
<rect x="104.80" y="813.50" width="8.05" height="8.05" fill="#0000e0"/>
<rect x="112.45" y="813.50" width="8.05" height="8.05" fill="#0000c2"/>
<rect x="120.10" y="813.50" width="8.05" height="8.05" fill="#0000c2"/>
<rect x="127.75" y="813.50" width="8.05" height="8.05" fill="#0047ff"/>
<rect x="135.40" y="813.50" width="8.05" height="8.05" fill="#0000a6"/>
<rect x="143.05" y="813.50" width="8.05" height="8.05" fill="#0000c2"/>
<rect x="150.70" y="813.50" width="8.05" height="8.05" fill="#0000c2"/>
<rect x="158.35" y="813.50" width="8.05" height="8.05" fill="#0000c2"/>
<rect x="166.00" y="813.50" width="8.05" height="8.05" fill="#0000c2"/>
<rect x="173.65" y="813.50" width="8.05" height="8.05" fill="#0000c2"/>
<rect x="181.30" y="813.50" width="8.05" height="8.05" fill="#0000a6"/>
<rect x="188.95" y="813.50" width="8.05" height="8.05" fill="#0000c2"/>
<rect x="196.60" y="813.50" width="8.05" height="8.05" fill="#0000c2"/>
<rect x="204.25" y="813.50" width="8.05" height="8.05" fill="#0000c2"/>
<rect x="211.90" y="813.50" width="8.05" height="8.05" fill="#0000c2"/>
<rect x="219.55" y="813.50" width="8.05" height="8.05" fill="#0000c2"/>
<rect x="74.20" y="821.15" width="8.05" height="8.05" fill="#0000e0"/>
<rect x="81.85" y="821.15" width="8.05" height="8.05" fill="#0000c2"/>
<rect x="89.50" y="821.15" width="8.05" height="8.05" fill="#0000c2"/>
<rect x="97.15" y="821.15" width="8.05" height="8.05" fill="#0000c2"/>
<rect x="104.80" y="821.15" width="8.05" height="8.05" fill="#0000a6"/>
<rect x="112.45" y="821.15" width="8.05" height="8.05" fill="#0000c2"/>
<rect x="120.10" y="821.15" width="8.05" height="8.05" fill="#0014ff"/>
<rect x="127.75" y="821.15" width="8.05" height="8.05" fill="#0014ff"/>
<rect x="135.40" y="821.15" width="8.05" height="8.05" fill="#0014ff"/>
<rect x="143.05" y="821.15" width="8.05" height="8.05" fill="#0000c2"/>
<rect x="150.70" y="821.15" width="8.05" height="8.05" fill="#0000c2"/>
<rect x="158.35" y="821.15" width="8.05" height="8.05" fill="#0000c2"/>
<rect x="166.00" y="821.15" width="8.05" height="8.05" fill="#0000c2"/>
<rect x="173.65" y="821.15" width="8.05" height="8.05" fill="#0000c2"/>
<rect x="181.30" y="821.15" width="8.05" height="8.05" fill="#0000c2"/>
<rect x="188.95" y="821.15" width="8.05" height="8.05" fill="#0014ff"/>
<rect x="196.60" y="821.15" width="8.05" height="8.05" fill="#0000c2"/>
<rect x="204.25" y="821.15" width="8.05" height="8.05" fill="#0000a6"/>
<rect x="211.90" y="821.15" width="8.05" height="8.05" fill="#0000e0"/>
<rect x="219.55" y="821.15" width="8.05" height="8.05" fill="#0000c2"/>
<rect x="74.20" y="828.80" width="8.05" height="8.05" fill="#0000a6"/>
<rect x="81.85" y="828.80" width="8.05" height="8.05" fill="#0000c2"/>
<rect x="89.50" y="828.80" width="8.05" height="8.05" fill="#0000c2"/>
<rect x="97.15" y="828.80" width="8.05" height="8.05" fill="#0000c2"/>
<rect x="104.80" y="828.80" width="8.05" height="8.05" fill="#0014ff"/>
<rect x="112.45" y="828.80" width="8.05" height="8.05" fill="#0014ff"/>
<rect x="120.10" y="828.80" width="8.05" height="8.05" fill="#0000c2"/>
<rect x="127.75" y="828.80" width="8.05" height="8.05" fill="#0000c2"/>
<rect x="135.40" y="828.80" width="8.05" height="8.05" fill="#0000a6"/>
<rect x="143.05" y="828.80" width="8.05" height="8.05" fill="#0000c2"/>
<rect x="150.70" y="828.80" width="8.05" height="8.05" fill="#0000a6"/>
<rect x="158.35" y="828.80" width="8.05" height="8.05" fill="#0000c2"/>
<rect x="166.00" y="828.80" width="8.05" height="8.05" fill="#0000a6"/>
<rect x="173.65" y="828.80" width="8.05" height="8.05" fill="#0000c2"/>
<rect x="181.30" y="828.80" width="8.05" height="8.05" fill="#0014ff"/>
<rect x="188.95" y="828.80" width="8.05" height="8.05" fill="#0000c2"/>
<rect x="196.60" y="828.80" width="8.05" height="8.05" fill="#0000c2"/>
<rect x="204.25" y="828.80" width="8.05" height="8.05" fill="#0000c2"/>
<rect x="211.90" y="828.80" width="8.05" height="8.05" fill="#0000c2"/>
<rect x="219.55" y="828.80" width="8.05" height="8.05" fill="#0000c2"/>
<rect x="74.20" y="836.45" width="8.05" height="8.05" fill="#0000e0"/>
<rect x="81.85" y="836.45" width="8.05" height="8.05" fill="#0000c2"/>
<rect x="89.50" y="836.45" width="8.05" height="8.05" fill="#0000c2"/>
<rect x="97.15" y="836.45" width="8.05" height="8.05" fill="#0000c2"/>
<rect x="104.80" y="836.45" width="8.05" height="8.05" fill="#0014ff"/>
<rect x="112.45" y="836.45" width="8.05" height="8.05" fill="#0000c2"/>
<rect x="120.10" y="836.45" width="8.05" height="8.05" fill="#0000c2"/>
<rect x="127.75" y="836.45" width="8.05" height="8.05" fill="#0000c2"/>
<rect x="135.40" y="836.45" width="8.05" height="8.05" fill="#0014ff"/>
<rect x="143.05" y="836.45" width="8.05" height="8.05" fill="#0000c2"/>
<rect x="150.70" y="836.45" width="8.05" height="8.05" fill="#0000c2"/>
<rect x="158.35" y="836.45" width="8.05" height="8.05" fill="#0000e0"/>
<rect x="166.00" y="836.45" width="8.05" height="8.05" fill="#0000c2"/>
<rect x="173.65" y="836.45" width="8.05" height="8.05" fill="#0000c2"/>
<rect x="181.30" y="836.45" width="8.05" height="8.05" fill="#0000a6"/>
<rect x="188.95" y="836.45" width="8.05" height="8.05" fill="#0000c2"/>
<rect x="196.60" y="836.45" width="8.05" height="8.05" fill="#0000c2"/>
<rect x="204.25" y="836.45" width="8.05" height="8.05" fill="#0000c2"/>
<rect x="211.90" y="836.45" width="8.05" height="8.05" fill="#0014ff"/>
<rect x="219.55" y="836.45" width="8.05" height="8.05" fill="#0000c2"/>
<rect x="74.20" y="844.10" width="8.05" height="8.05" fill="#0000c2"/>
<rect x="81.85" y="844.10" width="8.05" height="8.05" fill="#0000c2"/>
<rect x="89.50" y="844.10" width="8.05" height="8.05" fill="#0000c2"/>
<rect x="97.15" y="844.10" width="8.05" height="8.05" fill="#0047ff"/>
<rect x="104.80" y="844.10" width="8.05" height="8.05" fill="#0000a6"/>
<rect x="112.45" y="844.10" width="8.05" height="8.05" fill="#0000c2"/>
<rect x="120.10" y="844.10" width="8.05" height="8.05" fill="#0000a6"/>
<rect x="127.75" y="844.10" width="8.05" height="8.05" fill="#0000c2"/>
<rect x="135.40" y="844.10" width="8.05" height="8.05" fill="#0000c2"/>
<rect x="143.05" y="844.10" width="8.05" height="8.05" fill="#0000c2"/>
<rect x="150.70" y="844.10" width="8.05" height="8.05" fill="#0000c2"/>
<rect x="158.35" y="844.10" width="8.05" height="8.05" fill="#0000c2"/>
<rect x="166.00" y="844.10" width="8.05" height="8.05" fill="#0000c2"/>
<rect x="173.65" y="844.10" width="8.05" height="8.05" fill="#0000c2"/>
<rect x="181.30" y="844.10" width="8.05" height="8.05" fill="#0000c2"/>
<rect x="188.95" y="844.10" width="8.05" height="8.05" fill="#0000c2"/>
<rect x="196.60" y="844.10" width="8.05" height="8.05" fill="#0000a6"/>
<rect x="204.25" y="844.10" width="8.05" height="8.05" fill="#0000c2"/>
<rect x="211.90" y="844.10" width="8.05" height="8.05" fill="#0000c2"/>
<rect x="219.55" y="844.10" width="8.05" height="8.05" fill="#0000c2"/>
<rect x="74.20" y="851.75" width="8.05" height="8.05" fill="#0000c2"/>
<rect x="81.85" y="851.75" width="8.05" height="8.05" fill="#0000c2"/>
<rect x="89.50" y="851.75" width="8.05" height="8.05" fill="#006bff"/>
<rect x="97.15" y="851.75" width="8.05" height="8.05" fill="#0000c2"/>
<rect x="104.80" y="851.75" width="8.05" height="8.05" fill="#0000c2"/>
<rect x="112.45" y="851.75" width="8.05" height="8.05" fill="#0000c2"/>
<rect x="120.10" y="851.75" width="8.05" height="8.05" fill="#0000e0"/>
<rect x="127.75" y="851.75" width="8.05" height="8.05" fill="#0000e0"/>
<rect x="135.40" y="851.75" width="8.05" height="8.05" fill="#0000e0"/>
<rect x="143.05" y="851.75" width="8.05" height="8.05" fill="#0000c2"/>
<rect x="150.70" y="851.75" width="8.05" height="8.05" fill="#0000c2"/>
<rect x="158.35" y="851.75" width="8.05" height="8.05" fill="#0000c2"/>
<rect x="166.00" y="851.75" width="8.05" height="8.05" fill="#0000e0"/>
<rect x="173.65" y="851.75" width="8.05" height="8.05" fill="#0000c2"/>
<rect x="181.30" y="851.75" width="8.05" height="8.05" fill="#0000c2"/>
<rect x="188.95" y="851.75" width="8.05" height="8.05" fill="#0000e0"/>
<rect x="196.60" y="851.75" width="8.05" height="8.05" fill="#0000c2"/>
<rect x="204.25" y="851.75" width="8.05" height="8.05" fill="#0000c2"/>
<rect x="211.90" y="851.75" width="8.05" height="8.05" fill="#0000c2"/>
<rect x="219.55" y="851.75" width="8.05" height="8.05" fill="#0000c2"/>
<rect x="74.20" y="859.40" width="8.05" height="8.05" fill="#0000c2"/>
<rect x="81.85" y="859.40" width="8.05" height="8.05" fill="#0047ff"/>
<rect x="89.50" y="859.40" width="8.05" height="8.05" fill="#0000c2"/>
<rect x="97.15" y="859.40" width="8.05" height="8.05" fill="#0000c2"/>
<rect x="104.80" y="859.40" width="8.05" height="8.05" fill="#0000c2"/>
<rect x="112.45" y="859.40" width="8.05" height="8.05" fill="#0000c2"/>
<rect x="120.10" y="859.40" width="8.05" height="8.05" fill="#0000c2"/>
<rect x="127.75" y="859.40" width="8.05" height="8.05" fill="#0000c2"/>
<rect x="135.40" y="859.40" width="8.05" height="8.05" fill="#0000c2"/>
<rect x="143.05" y="859.40" width="8.05" height="8.05" fill="#0000c2"/>
<rect x="150.70" y="859.40" width="8.05" height="8.05" fill="#0000c2"/>
<rect x="158.35" y="859.40" width="8.05" height="8.05" fill="#0000c2"/>
<rect x="166.00" y="859.40" width="8.05" height="8.05" fill="#0000e0"/>
<rect x="173.65" y="859.40" width="8.05" height="8.05" fill="#0000c2"/>
<rect x="181.30" y="859.40" width="8.05" height="8.05" fill="#0000a6"/>
<rect x="188.95" y="859.40" width="8.05" height="8.05" fill="#0000c2"/>
<rect x="196.60" y="859.40" width="8.05" height="8.05" fill="#0000e0"/>
<rect x="204.25" y="859.40" width="8.05" height="8.05" fill="#0000c2"/>
<rect x="211.90" y="859.40" width="8.05" height="8.05" fill="#0000c2"/>
<rect x="219.55" y="859.40" width="8.05" height="8.05" fill="#0000e0"/>
<rect x="74.20" y="867.05" width="8.05" height="8.05" fill="#006bff"/>
<rect x="81.85" y="867.05" width="8.05" height="8.05" fill="#0000c2"/>
<rect x="89.50" y="867.05" width="8.05" height="8.05" fill="#0000a6"/>
<rect x="97.15" y="867.05" width="8.05" height="8.05" fill="#0000e0"/>
<rect x="104.80" y="867.05" width="8.05" height="8.05" fill="#0000c2"/>
<rect x="112.45" y="867.05" width="8.05" height="8.05" fill="#0000c2"/>
<rect x="120.10" y="867.05" width="8.05" height="8.05" fill="#0000c2"/>
<rect x="127.75" y="867.05" width="8.05" height="8.05" fill="#0000c2"/>
<rect x="135.40" y="867.05" width="8.05" height="8.05" fill="#0000c2"/>
<rect x="143.05" y="867.05" width="8.05" height="8.05" fill="#0000a6"/>
<rect x="150.70" y="867.05" width="8.05" height="8.05" fill="#0000e0"/>
<rect x="158.35" y="867.05" width="8.05" height="8.05" fill="#0000a6"/>
<rect x="166.00" y="867.05" width="8.05" height="8.05" fill="#0000c2"/>
<rect x="173.65" y="867.05" width="8.05" height="8.05" fill="#0000c2"/>
<rect x="181.30" y="867.05" width="8.05" height="8.05" fill="#0000c2"/>
<rect x="188.95" y="867.05" width="8.05" height="8.05" fill="#0000c2"/>
<rect x="196.60" y="867.05" width="8.05" height="8.05" fill="#0000c2"/>
<rect x="204.25" y="867.05" width="8.05" height="8.05" fill="#0000c2"/>
<rect x="211.90" y="867.05" width="8.05" height="8.05" fill="#0000c2"/>
<rect x="219.55" y="867.05" width="8.05" height="8.05" fill="#0000c2"/>
</g>
<g shape-rendering="crispEdges">
<rect x="299.80" y="721.70" width="8.05" height="8.05" fill="#0000b2"/>
<rect x="307.45" y="721.70" width="8.05" height="8.05" fill="#0000bd"/>
<rect x="315.10" y="721.70" width="8.05" height="8.05" fill="#0000b2"/>
<rect x="322.75" y="721.70" width="8.05" height="8.05" fill="#0000b2"/>
<rect x="330.40" y="721.70" width="8.05" height="8.05" fill="#0000bd"/>
<rect x="338.05" y="721.70" width="8.05" height="8.05" fill="#0000d1"/>
<rect x="345.70" y="721.70" width="8.05" height="8.05" fill="#000094"/>
<rect x="353.35" y="721.70" width="8.05" height="8.05" fill="#000094"/>
<rect x="361.00" y="721.70" width="8.05" height="8.05" fill="#0000bd"/>
<rect x="368.65" y="721.70" width="8.05" height="8.05" fill="#0000b2"/>
<rect x="376.30" y="721.70" width="8.05" height="8.05" fill="#001aff"/>
<rect x="383.95" y="721.70" width="8.05" height="8.05" fill="#000094"/>
<rect x="391.60" y="721.70" width="8.05" height="8.05" fill="#00008a"/>
<rect x="399.25" y="721.70" width="8.05" height="8.05" fill="#0000b2"/>
<rect x="406.90" y="721.70" width="8.05" height="8.05" fill="#00009e"/>
<rect x="414.55" y="721.70" width="8.05" height="8.05" fill="#000094"/>
<rect x="422.20" y="721.70" width="8.05" height="8.05" fill="#00008a"/>
<rect x="429.85" y="721.70" width="8.05" height="8.05" fill="#0000bd"/>
<rect x="437.50" y="721.70" width="8.05" height="8.05" fill="#000080"/>
<rect x="445.15" y="721.70" width="8.05" height="8.05" fill="#61ff9e"/>
<rect x="299.80" y="729.35" width="8.05" height="8.05" fill="#0000a8"/>
<rect x="307.45" y="729.35" width="8.05" height="8.05" fill="#0000b2"/>
<rect x="315.10" y="729.35" width="8.05" height="8.05" fill="#0000d1"/>
<rect x="322.75" y="729.35" width="8.05" height="8.05" fill="#000094"/>
<rect x="330.40" y="729.35" width="8.05" height="8.05" fill="#0000d1"/>
<rect x="338.05" y="729.35" width="8.05" height="8.05" fill="#000080"/>
<rect x="345.70" y="729.35" width="8.05" height="8.05" fill="#0000bd"/>
<rect x="353.35" y="729.35" width="8.05" height="8.05" fill="#00008a"/>
<rect x="361.00" y="729.35" width="8.05" height="8.05" fill="#000080"/>
<rect x="368.65" y="729.35" width="8.05" height="8.05" fill="#000080"/>
<rect x="376.30" y="729.35" width="8.05" height="8.05" fill="#000094"/>
<rect x="383.95" y="729.35" width="8.05" height="8.05" fill="#000094"/>
<rect x="391.60" y="729.35" width="8.05" height="8.05" fill="#0000d1"/>
<rect x="399.25" y="729.35" width="8.05" height="8.05" fill="#000080"/>
<rect x="406.90" y="729.35" width="8.05" height="8.05" fill="#0000b2"/>
<rect x="414.55" y="729.35" width="8.05" height="8.05" fill="#00009e"/>
<rect x="422.20" y="729.35" width="8.05" height="8.05" fill="#0000b2"/>
<rect x="429.85" y="729.35" width="8.05" height="8.05" fill="#0000d1"/>
<rect x="437.50" y="729.35" width="8.05" height="8.05" fill="#ff5700"/>
<rect x="445.15" y="729.35" width="8.05" height="8.05" fill="#0000bd"/>
<rect x="299.80" y="737.00" width="8.05" height="8.05" fill="#000094"/>
<rect x="307.45" y="737.00" width="8.05" height="8.05" fill="#00009e"/>
<rect x="315.10" y="737.00" width="8.05" height="8.05" fill="#0000b2"/>
<rect x="322.75" y="737.00" width="8.05" height="8.05" fill="#000080"/>
<rect x="330.40" y="737.00" width="8.05" height="8.05" fill="#00008a"/>
<rect x="338.05" y="737.00" width="8.05" height="8.05" fill="#0000b2"/>
<rect x="345.70" y="737.00" width="8.05" height="8.05" fill="#00009e"/>
<rect x="353.35" y="737.00" width="8.05" height="8.05" fill="#0000a8"/>
<rect x="361.00" y="737.00" width="8.05" height="8.05" fill="#0000bd"/>
<rect x="368.65" y="737.00" width="8.05" height="8.05" fill="#00008a"/>
<rect x="376.30" y="737.00" width="8.05" height="8.05" fill="#00009e"/>
<rect x="383.95" y="737.00" width="8.05" height="8.05" fill="#00009e"/>
<rect x="391.60" y="737.00" width="8.05" height="8.05" fill="#000094"/>
<rect x="399.25" y="737.00" width="8.05" height="8.05" fill="#0000e6"/>
<rect x="406.90" y="737.00" width="8.05" height="8.05" fill="#00009e"/>
<rect x="414.55" y="737.00" width="8.05" height="8.05" fill="#000080"/>
<rect x="422.20" y="737.00" width="8.05" height="8.05" fill="#00008a"/>
<rect x="429.85" y="737.00" width="8.05" height="8.05" fill="#80ff80"/>
<rect x="437.50" y="737.00" width="8.05" height="8.05" fill="#00008a"/>
<rect x="445.15" y="737.00" width="8.05" height="8.05" fill="#0000a8"/>
<rect x="299.80" y="744.65" width="8.05" height="8.05" fill="#00008a"/>
<rect x="307.45" y="744.65" width="8.05" height="8.05" fill="#00009e"/>
<rect x="315.10" y="744.65" width="8.05" height="8.05" fill="#0000a8"/>
<rect x="322.75" y="744.65" width="8.05" height="8.05" fill="#00008a"/>
<rect x="330.40" y="744.65" width="8.05" height="8.05" fill="#000080"/>
<rect x="338.05" y="744.65" width="8.05" height="8.05" fill="#000080"/>
<rect x="345.70" y="744.65" width="8.05" height="8.05" fill="#000094"/>
<rect x="353.35" y="744.65" width="8.05" height="8.05" fill="#000094"/>
<rect x="361.00" y="744.65" width="8.05" height="8.05" fill="#000080"/>
<rect x="368.65" y="744.65" width="8.05" height="8.05" fill="#0000b2"/>
<rect x="376.30" y="744.65" width="8.05" height="8.05" fill="#0000a8"/>
<rect x="383.95" y="744.65" width="8.05" height="8.05" fill="#0000a8"/>
<rect x="391.60" y="744.65" width="8.05" height="8.05" fill="#0000a8"/>
<rect x="399.25" y="744.65" width="8.05" height="8.05" fill="#00008a"/>
<rect x="406.90" y="744.65" width="8.05" height="8.05" fill="#0000d1"/>
<rect x="414.55" y="744.65" width="8.05" height="8.05" fill="#000094"/>
<rect x="422.20" y="744.65" width="8.05" height="8.05" fill="#61ff9e"/>
<rect x="429.85" y="744.65" width="8.05" height="8.05" fill="#00009e"/>
<rect x="437.50" y="744.65" width="8.05" height="8.05" fill="#00008a"/>
<rect x="445.15" y="744.65" width="8.05" height="8.05" fill="#00009e"/>
<rect x="299.80" y="752.30" width="8.05" height="8.05" fill="#00009e"/>
<rect x="307.45" y="752.30" width="8.05" height="8.05" fill="#000080"/>
<rect x="315.10" y="752.30" width="8.05" height="8.05" fill="#0000a8"/>
<rect x="322.75" y="752.30" width="8.05" height="8.05" fill="#00008a"/>
<rect x="330.40" y="752.30" width="8.05" height="8.05" fill="#000094"/>
<rect x="338.05" y="752.30" width="8.05" height="8.05" fill="#000094"/>
<rect x="345.70" y="752.30" width="8.05" height="8.05" fill="#00008a"/>
<rect x="353.35" y="752.30" width="8.05" height="8.05" fill="#000080"/>
<rect x="361.00" y="752.30" width="8.05" height="8.05" fill="#0000e6"/>
<rect x="368.65" y="752.30" width="8.05" height="8.05" fill="#0000b2"/>
<rect x="376.30" y="752.30" width="8.05" height="8.05" fill="#0000b2"/>
<rect x="383.95" y="752.30" width="8.05" height="8.05" fill="#000094"/>
<rect x="391.60" y="752.30" width="8.05" height="8.05" fill="#0000bd"/>
<rect x="399.25" y="752.30" width="8.05" height="8.05" fill="#000094"/>
<rect x="406.90" y="752.30" width="8.05" height="8.05" fill="#0000b2"/>
<rect x="414.55" y="752.30" width="8.05" height="8.05" fill="#fffa00"/>
<rect x="422.20" y="752.30" width="8.05" height="8.05" fill="#000094"/>
<rect x="429.85" y="752.30" width="8.05" height="8.05" fill="#000094"/>
<rect x="437.50" y="752.30" width="8.05" height="8.05" fill="#0000a8"/>
<rect x="445.15" y="752.30" width="8.05" height="8.05" fill="#0000a8"/>
<rect x="299.80" y="759.95" width="8.05" height="8.05" fill="#000fff"/>
<rect x="307.45" y="759.95" width="8.05" height="8.05" fill="#0000a8"/>
<rect x="315.10" y="759.95" width="8.05" height="8.05" fill="#0000a8"/>
<rect x="322.75" y="759.95" width="8.05" height="8.05" fill="#000094"/>
<rect x="330.40" y="759.95" width="8.05" height="8.05" fill="#000080"/>
<rect x="338.05" y="759.95" width="8.05" height="8.05" fill="#0000fa"/>
<rect x="345.70" y="759.95" width="8.05" height="8.05" fill="#0000d1"/>
<rect x="353.35" y="759.95" width="8.05" height="8.05" fill="#00009e"/>
<rect x="361.00" y="759.95" width="8.05" height="8.05" fill="#000080"/>
<rect x="368.65" y="759.95" width="8.05" height="8.05" fill="#0000f0"/>
<rect x="376.30" y="759.95" width="8.05" height="8.05" fill="#0000fa"/>
<rect x="383.95" y="759.95" width="8.05" height="8.05" fill="#0000a8"/>
<rect x="391.60" y="759.95" width="8.05" height="8.05" fill="#0000d1"/>
<rect x="399.25" y="759.95" width="8.05" height="8.05" fill="#0000d1"/>
<rect x="406.90" y="759.95" width="8.05" height="8.05" fill="#ffb300"/>
<rect x="414.55" y="759.95" width="8.05" height="8.05" fill="#000080"/>
<rect x="422.20" y="759.95" width="8.05" height="8.05" fill="#000094"/>
<rect x="429.85" y="759.95" width="8.05" height="8.05" fill="#000094"/>
<rect x="437.50" y="759.95" width="8.05" height="8.05" fill="#0000b2"/>
<rect x="445.15" y="759.95" width="8.05" height="8.05" fill="#00009e"/>
<rect x="299.80" y="767.60" width="8.05" height="8.05" fill="#000080"/>
<rect x="307.45" y="767.60" width="8.05" height="8.05" fill="#0000d1"/>
<rect x="315.10" y="767.60" width="8.05" height="8.05" fill="#00009e"/>
<rect x="322.75" y="767.60" width="8.05" height="8.05" fill="#00009e"/>
<rect x="330.40" y="767.60" width="8.05" height="8.05" fill="#0000a8"/>
<rect x="338.05" y="767.60" width="8.05" height="8.05" fill="#00008a"/>
<rect x="345.70" y="767.60" width="8.05" height="8.05" fill="#00008a"/>
<rect x="353.35" y="767.60" width="8.05" height="8.05" fill="#00008a"/>
<rect x="361.00" y="767.60" width="8.05" height="8.05" fill="#000094"/>
<rect x="368.65" y="767.60" width="8.05" height="8.05" fill="#0000d1"/>
<rect x="376.30" y="767.60" width="8.05" height="8.05" fill="#000094"/>
<rect x="383.95" y="767.60" width="8.05" height="8.05" fill="#000080"/>
<rect x="391.60" y="767.60" width="8.05" height="8.05" fill="#0000d1"/>
<rect x="399.25" y="767.60" width="8.05" height="8.05" fill="#c7ff38"/>
<rect x="406.90" y="767.60" width="8.05" height="8.05" fill="#00009e"/>
<rect x="414.55" y="767.60" width="8.05" height="8.05" fill="#0000d1"/>
<rect x="422.20" y="767.60" width="8.05" height="8.05" fill="#0000b2"/>
<rect x="429.85" y="767.60" width="8.05" height="8.05" fill="#000094"/>
<rect x="437.50" y="767.60" width="8.05" height="8.05" fill="#0000d1"/>
<rect x="445.15" y="767.60" width="8.05" height="8.05" fill="#0000b2"/>
<rect x="299.80" y="775.25" width="8.05" height="8.05" fill="#0000d1"/>
<rect x="307.45" y="775.25" width="8.05" height="8.05" fill="#000094"/>
<rect x="315.10" y="775.25" width="8.05" height="8.05" fill="#0000a8"/>
<rect x="322.75" y="775.25" width="8.05" height="8.05" fill="#000094"/>
<rect x="330.40" y="775.25" width="8.05" height="8.05" fill="#000094"/>
<rect x="338.05" y="775.25" width="8.05" height="8.05" fill="#00009e"/>
<rect x="345.70" y="775.25" width="8.05" height="8.05" fill="#000094"/>
<rect x="353.35" y="775.25" width="8.05" height="8.05" fill="#0000d1"/>
<rect x="361.00" y="775.25" width="8.05" height="8.05" fill="#000094"/>
<rect x="368.65" y="775.25" width="8.05" height="8.05" fill="#000094"/>
<rect x="376.30" y="775.25" width="8.05" height="8.05" fill="#000094"/>
<rect x="383.95" y="775.25" width="8.05" height="8.05" fill="#0000bd"/>
<rect x="391.60" y="775.25" width="8.05" height="8.05" fill="#ff6100"/>
<rect x="399.25" y="775.25" width="8.05" height="8.05" fill="#0000a8"/>
<rect x="406.90" y="775.25" width="8.05" height="8.05" fill="#0000b2"/>
<rect x="414.55" y="775.25" width="8.05" height="8.05" fill="#0000d1"/>
<rect x="422.20" y="775.25" width="8.05" height="8.05" fill="#00008a"/>
<rect x="429.85" y="775.25" width="8.05" height="8.05" fill="#0000a8"/>
<rect x="437.50" y="775.25" width="8.05" height="8.05" fill="#000080"/>
<rect x="445.15" y="775.25" width="8.05" height="8.05" fill="#00008a"/>
<rect x="299.80" y="782.90" width="8.05" height="8.05" fill="#00008a"/>
<rect x="307.45" y="782.90" width="8.05" height="8.05" fill="#000080"/>
<rect x="315.10" y="782.90" width="8.05" height="8.05" fill="#0000bd"/>
<rect x="322.75" y="782.90" width="8.05" height="8.05" fill="#000fff"/>
<rect x="330.40" y="782.90" width="8.05" height="8.05" fill="#000094"/>
<rect x="338.05" y="782.90" width="8.05" height="8.05" fill="#0000a8"/>
<rect x="345.70" y="782.90" width="8.05" height="8.05" fill="#0000fa"/>
<rect x="353.35" y="782.90" width="8.05" height="8.05" fill="#0000a8"/>
<rect x="361.00" y="782.90" width="8.05" height="8.05" fill="#0005ff"/>
<rect x="368.65" y="782.90" width="8.05" height="8.05" fill="#0000b2"/>
<rect x="376.30" y="782.90" width="8.05" height="8.05" fill="#00009e"/>
<rect x="383.95" y="782.90" width="8.05" height="8.05" fill="#ffc700"/>
<rect x="391.60" y="782.90" width="8.05" height="8.05" fill="#000094"/>
<rect x="399.25" y="782.90" width="8.05" height="8.05" fill="#00008a"/>
<rect x="406.90" y="782.90" width="8.05" height="8.05" fill="#000094"/>
<rect x="414.55" y="782.90" width="8.05" height="8.05" fill="#000094"/>
<rect x="422.20" y="782.90" width="8.05" height="8.05" fill="#0000b2"/>
<rect x="429.85" y="782.90" width="8.05" height="8.05" fill="#0000bd"/>
<rect x="437.50" y="782.90" width="8.05" height="8.05" fill="#0000d1"/>
<rect x="445.15" y="782.90" width="8.05" height="8.05" fill="#0000d1"/>
<rect x="299.80" y="790.55" width="8.05" height="8.05" fill="#00008a"/>
<rect x="307.45" y="790.55" width="8.05" height="8.05" fill="#00009e"/>
<rect x="315.10" y="790.55" width="8.05" height="8.05" fill="#000094"/>
<rect x="322.75" y="790.55" width="8.05" height="8.05" fill="#000094"/>
<rect x="330.40" y="790.55" width="8.05" height="8.05" fill="#000080"/>
<rect x="338.05" y="790.55" width="8.05" height="8.05" fill="#00008a"/>
<rect x="345.70" y="790.55" width="8.05" height="8.05" fill="#00009e"/>
<rect x="353.35" y="790.55" width="8.05" height="8.05" fill="#0000a8"/>
<rect x="361.00" y="790.55" width="8.05" height="8.05" fill="#0000b2"/>
<rect x="368.65" y="790.55" width="8.05" height="8.05" fill="#000094"/>
<rect x="376.30" y="790.55" width="8.05" height="8.05" fill="#38ffc7"/>
<rect x="383.95" y="790.55" width="8.05" height="8.05" fill="#000080"/>
<rect x="391.60" y="790.55" width="8.05" height="8.05" fill="#000094"/>
<rect x="399.25" y="790.55" width="8.05" height="8.05" fill="#00009e"/>
<rect x="406.90" y="790.55" width="8.05" height="8.05" fill="#00009e"/>
<rect x="414.55" y="790.55" width="8.05" height="8.05" fill="#0000bd"/>
<rect x="422.20" y="790.55" width="8.05" height="8.05" fill="#0000d1"/>
<rect x="429.85" y="790.55" width="8.05" height="8.05" fill="#000094"/>
<rect x="437.50" y="790.55" width="8.05" height="8.05" fill="#00008a"/>
<rect x="445.15" y="790.55" width="8.05" height="8.05" fill="#0000fa"/>
<rect x="299.80" y="798.20" width="8.05" height="8.05" fill="#000094"/>
<rect x="307.45" y="798.20" width="8.05" height="8.05" fill="#0000b2"/>
<rect x="315.10" y="798.20" width="8.05" height="8.05" fill="#00009e"/>
<rect x="322.75" y="798.20" width="8.05" height="8.05" fill="#0000bd"/>
<rect x="330.40" y="798.20" width="8.05" height="8.05" fill="#0000d1"/>
<rect x="338.05" y="798.20" width="8.05" height="8.05" fill="#000094"/>
<rect x="345.70" y="798.20" width="8.05" height="8.05" fill="#0000d1"/>
<rect x="353.35" y="798.20" width="8.05" height="8.05" fill="#000080"/>
<rect x="361.00" y="798.20" width="8.05" height="8.05" fill="#000080"/>
<rect x="368.65" y="798.20" width="8.05" height="8.05" fill="#ffb300"/>
<rect x="376.30" y="798.20" width="8.05" height="8.05" fill="#00009e"/>
<rect x="383.95" y="798.20" width="8.05" height="8.05" fill="#00009e"/>
<rect x="391.60" y="798.20" width="8.05" height="8.05" fill="#000080"/>
<rect x="399.25" y="798.20" width="8.05" height="8.05" fill="#000080"/>
<rect x="406.90" y="798.20" width="8.05" height="8.05" fill="#0000d1"/>
<rect x="414.55" y="798.20" width="8.05" height="8.05" fill="#00008a"/>
<rect x="422.20" y="798.20" width="8.05" height="8.05" fill="#0000b2"/>
<rect x="429.85" y="798.20" width="8.05" height="8.05" fill="#00008a"/>
<rect x="437.50" y="798.20" width="8.05" height="8.05" fill="#00009e"/>
<rect x="445.15" y="798.20" width="8.05" height="8.05" fill="#00009e"/>
<rect x="299.80" y="805.85" width="8.05" height="8.05" fill="#000094"/>
<rect x="307.45" y="805.85" width="8.05" height="8.05" fill="#00008a"/>
<rect x="315.10" y="805.85" width="8.05" height="8.05" fill="#00008a"/>
<rect x="322.75" y="805.85" width="8.05" height="8.05" fill="#0000b2"/>
<rect x="330.40" y="805.85" width="8.05" height="8.05" fill="#0000bd"/>
<rect x="338.05" y="805.85" width="8.05" height="8.05" fill="#00009e"/>
<rect x="345.70" y="805.85" width="8.05" height="8.05" fill="#000080"/>
<rect x="353.35" y="805.85" width="8.05" height="8.05" fill="#000094"/>
<rect x="361.00" y="805.85" width="8.05" height="8.05" fill="#bdff42"/>
<rect x="368.65" y="805.85" width="8.05" height="8.05" fill="#00009e"/>
<rect x="376.30" y="805.85" width="8.05" height="8.05" fill="#00008a"/>
<rect x="383.95" y="805.85" width="8.05" height="8.05" fill="#0000b2"/>
<rect x="391.60" y="805.85" width="8.05" height="8.05" fill="#00008a"/>
<rect x="399.25" y="805.85" width="8.05" height="8.05" fill="#0000a8"/>
<rect x="406.90" y="805.85" width="8.05" height="8.05" fill="#000080"/>
<rect x="414.55" y="805.85" width="8.05" height="8.05" fill="#0000b2"/>
<rect x="422.20" y="805.85" width="8.05" height="8.05" fill="#0000d1"/>
<rect x="429.85" y="805.85" width="8.05" height="8.05" fill="#000080"/>
<rect x="437.50" y="805.85" width="8.05" height="8.05" fill="#0000d1"/>
<rect x="445.15" y="805.85" width="8.05" height="8.05" fill="#0000a8"/>
<rect x="299.80" y="813.50" width="8.05" height="8.05" fill="#0000a8"/>
<rect x="307.45" y="813.50" width="8.05" height="8.05" fill="#0000d1"/>
<rect x="315.10" y="813.50" width="8.05" height="8.05" fill="#000080"/>
<rect x="322.75" y="813.50" width="8.05" height="8.05" fill="#0000d1"/>
<rect x="330.40" y="813.50" width="8.05" height="8.05" fill="#00008a"/>
<rect x="338.05" y="813.50" width="8.05" height="8.05" fill="#00008a"/>
<rect x="345.70" y="813.50" width="8.05" height="8.05" fill="#00008a"/>
<rect x="353.35" y="813.50" width="8.05" height="8.05" fill="#61ff9e"/>
<rect x="361.00" y="813.50" width="8.05" height="8.05" fill="#00009e"/>
<rect x="368.65" y="813.50" width="8.05" height="8.05" fill="#0000a8"/>
<rect x="376.30" y="813.50" width="8.05" height="8.05" fill="#00009e"/>
<rect x="383.95" y="813.50" width="8.05" height="8.05" fill="#0000a8"/>
<rect x="391.60" y="813.50" width="8.05" height="8.05" fill="#0000d1"/>
<rect x="399.25" y="813.50" width="8.05" height="8.05" fill="#0000b2"/>
<rect x="406.90" y="813.50" width="8.05" height="8.05" fill="#0000b2"/>
<rect x="414.55" y="813.50" width="8.05" height="8.05" fill="#0000b2"/>
<rect x="422.20" y="813.50" width="8.05" height="8.05" fill="#0000bd"/>
<rect x="429.85" y="813.50" width="8.05" height="8.05" fill="#00008a"/>
<rect x="437.50" y="813.50" width="8.05" height="8.05" fill="#0000bd"/>
<rect x="445.15" y="813.50" width="8.05" height="8.05" fill="#0000bd"/>
<rect x="299.80" y="821.15" width="8.05" height="8.05" fill="#000080"/>
<rect x="307.45" y="821.15" width="8.05" height="8.05" fill="#00009e"/>
<rect x="315.10" y="821.15" width="8.05" height="8.05" fill="#0000d1"/>
<rect x="322.75" y="821.15" width="8.05" height="8.05" fill="#00008a"/>
<rect x="330.40" y="821.15" width="8.05" height="8.05" fill="#0000b2"/>
<rect x="338.05" y="821.15" width="8.05" height="8.05" fill="#000080"/>
<rect x="345.70" y="821.15" width="8.05" height="8.05" fill="#00f0ff"/>
<rect x="353.35" y="821.15" width="8.05" height="8.05" fill="#0000fa"/>
<rect x="361.00" y="821.15" width="8.05" height="8.05" fill="#0000b2"/>
<rect x="368.65" y="821.15" width="8.05" height="8.05" fill="#0000d1"/>
<rect x="376.30" y="821.15" width="8.05" height="8.05" fill="#0000b2"/>
<rect x="383.95" y="821.15" width="8.05" height="8.05" fill="#00009e"/>
<rect x="391.60" y="821.15" width="8.05" height="8.05" fill="#000080"/>
<rect x="399.25" y="821.15" width="8.05" height="8.05" fill="#00009e"/>
<rect x="406.90" y="821.15" width="8.05" height="8.05" fill="#00009e"/>
<rect x="414.55" y="821.15" width="8.05" height="8.05" fill="#000094"/>
<rect x="422.20" y="821.15" width="8.05" height="8.05" fill="#0000d1"/>
<rect x="429.85" y="821.15" width="8.05" height="8.05" fill="#000094"/>
<rect x="437.50" y="821.15" width="8.05" height="8.05" fill="#0000bd"/>
<rect x="445.15" y="821.15" width="8.05" height="8.05" fill="#000094"/>
<rect x="299.80" y="828.80" width="8.05" height="8.05" fill="#00009e"/>
<rect x="307.45" y="828.80" width="8.05" height="8.05" fill="#0000b2"/>
<rect x="315.10" y="828.80" width="8.05" height="8.05" fill="#0000b2"/>
<rect x="322.75" y="828.80" width="8.05" height="8.05" fill="#000094"/>
<rect x="330.40" y="828.80" width="8.05" height="8.05" fill="#00009e"/>
<rect x="338.05" y="828.80" width="8.05" height="8.05" fill="#fff000"/>
<rect x="345.70" y="828.80" width="8.05" height="8.05" fill="#00009e"/>
<rect x="353.35" y="828.80" width="8.05" height="8.05" fill="#0005ff"/>
<rect x="361.00" y="828.80" width="8.05" height="8.05" fill="#0000a8"/>
<rect x="368.65" y="828.80" width="8.05" height="8.05" fill="#000094"/>
<rect x="376.30" y="828.80" width="8.05" height="8.05" fill="#000094"/>
<rect x="383.95" y="828.80" width="8.05" height="8.05" fill="#0000a8"/>
<rect x="391.60" y="828.80" width="8.05" height="8.05" fill="#000094"/>
<rect x="399.25" y="828.80" width="8.05" height="8.05" fill="#0000d1"/>
<rect x="406.90" y="828.80" width="8.05" height="8.05" fill="#0005ff"/>
<rect x="414.55" y="828.80" width="8.05" height="8.05" fill="#0005ff"/>
<rect x="422.20" y="828.80" width="8.05" height="8.05" fill="#0000fa"/>
<rect x="429.85" y="828.80" width="8.05" height="8.05" fill="#000094"/>
<rect x="437.50" y="828.80" width="8.05" height="8.05" fill="#0000b2"/>
<rect x="445.15" y="828.80" width="8.05" height="8.05" fill="#00009e"/>
<rect x="299.80" y="836.45" width="8.05" height="8.05" fill="#0005ff"/>
<rect x="307.45" y="836.45" width="8.05" height="8.05" fill="#00008a"/>
<rect x="315.10" y="836.45" width="8.05" height="8.05" fill="#00009e"/>
<rect x="322.75" y="836.45" width="8.05" height="8.05" fill="#000094"/>
<rect x="330.40" y="836.45" width="8.05" height="8.05" fill="#2effd1"/>
<rect x="338.05" y="836.45" width="8.05" height="8.05" fill="#0000b2"/>
<rect x="345.70" y="836.45" width="8.05" height="8.05" fill="#0000b2"/>
<rect x="353.35" y="836.45" width="8.05" height="8.05" fill="#00009e"/>
<rect x="361.00" y="836.45" width="8.05" height="8.05" fill="#0000fa"/>
<rect x="368.65" y="836.45" width="8.05" height="8.05" fill="#0000a8"/>
<rect x="376.30" y="836.45" width="8.05" height="8.05" fill="#0000a8"/>
<rect x="383.95" y="836.45" width="8.05" height="8.05" fill="#0000bd"/>
<rect x="391.60" y="836.45" width="8.05" height="8.05" fill="#0000b2"/>
<rect x="399.25" y="836.45" width="8.05" height="8.05" fill="#00009e"/>
<rect x="406.90" y="836.45" width="8.05" height="8.05" fill="#0000d1"/>
<rect x="414.55" y="836.45" width="8.05" height="8.05" fill="#0000b2"/>
<rect x="422.20" y="836.45" width="8.05" height="8.05" fill="#00009e"/>
<rect x="429.85" y="836.45" width="8.05" height="8.05" fill="#0075ff"/>
<rect x="437.50" y="836.45" width="8.05" height="8.05" fill="#000080"/>
<rect x="445.15" y="836.45" width="8.05" height="8.05" fill="#00009e"/>
<rect x="299.80" y="844.10" width="8.05" height="8.05" fill="#0000d1"/>
<rect x="307.45" y="844.10" width="8.05" height="8.05" fill="#000080"/>
<rect x="315.10" y="844.10" width="8.05" height="8.05" fill="#00009e"/>
<rect x="322.75" y="844.10" width="8.05" height="8.05" fill="#ffa800"/>
<rect x="330.40" y="844.10" width="8.05" height="8.05" fill="#00009e"/>
<rect x="338.05" y="844.10" width="8.05" height="8.05" fill="#00009e"/>
<rect x="345.70" y="844.10" width="8.05" height="8.05" fill="#0000fa"/>
<rect x="353.35" y="844.10" width="8.05" height="8.05" fill="#000080"/>
<rect x="361.00" y="844.10" width="8.05" height="8.05" fill="#000094"/>
<rect x="368.65" y="844.10" width="8.05" height="8.05" fill="#0000a8"/>
<rect x="376.30" y="844.10" width="8.05" height="8.05" fill="#0000b2"/>
<rect x="383.95" y="844.10" width="8.05" height="8.05" fill="#000fff"/>
<rect x="391.60" y="844.10" width="8.05" height="8.05" fill="#000080"/>
<rect x="399.25" y="844.10" width="8.05" height="8.05" fill="#00009e"/>
<rect x="406.90" y="844.10" width="8.05" height="8.05" fill="#000094"/>
<rect x="414.55" y="844.10" width="8.05" height="8.05" fill="#000094"/>
<rect x="422.20" y="844.10" width="8.05" height="8.05" fill="#000080"/>
<rect x="429.85" y="844.10" width="8.05" height="8.05" fill="#00008a"/>
<rect x="437.50" y="844.10" width="8.05" height="8.05" fill="#0000b2"/>
<rect x="445.15" y="844.10" width="8.05" height="8.05" fill="#00008a"/>
<rect x="299.80" y="851.75" width="8.05" height="8.05" fill="#0000bd"/>
<rect x="307.45" y="851.75" width="8.05" height="8.05" fill="#00009e"/>
<rect x="315.10" y="851.75" width="8.05" height="8.05" fill="#e50000"/>
<rect x="322.75" y="851.75" width="8.05" height="8.05" fill="#000094"/>
<rect x="330.40" y="851.75" width="8.05" height="8.05" fill="#000094"/>
<rect x="338.05" y="851.75" width="8.05" height="8.05" fill="#0000b2"/>
<rect x="345.70" y="851.75" width="8.05" height="8.05" fill="#0005ff"/>
<rect x="353.35" y="851.75" width="8.05" height="8.05" fill="#000094"/>
<rect x="361.00" y="851.75" width="8.05" height="8.05" fill="#000080"/>
<rect x="368.65" y="851.75" width="8.05" height="8.05" fill="#0000b2"/>
<rect x="376.30" y="851.75" width="8.05" height="8.05" fill="#0000bd"/>
<rect x="383.95" y="851.75" width="8.05" height="8.05" fill="#000080"/>
<rect x="391.60" y="851.75" width="8.05" height="8.05" fill="#000094"/>
<rect x="399.25" y="851.75" width="8.05" height="8.05" fill="#000094"/>
<rect x="406.90" y="851.75" width="8.05" height="8.05" fill="#00009e"/>
<rect x="414.55" y="851.75" width="8.05" height="8.05" fill="#00009e"/>
<rect x="422.20" y="851.75" width="8.05" height="8.05" fill="#0000bd"/>
<rect x="429.85" y="851.75" width="8.05" height="8.05" fill="#0000bd"/>
<rect x="437.50" y="851.75" width="8.05" height="8.05" fill="#0000bd"/>
<rect x="445.15" y="851.75" width="8.05" height="8.05" fill="#0000d1"/>
<rect x="299.80" y="859.40" width="8.05" height="8.05" fill="#000094"/>
<rect x="307.45" y="859.40" width="8.05" height="8.05" fill="#bdff42"/>
<rect x="315.10" y="859.40" width="8.05" height="8.05" fill="#000094"/>
<rect x="322.75" y="859.40" width="8.05" height="8.05" fill="#00008a"/>
<rect x="330.40" y="859.40" width="8.05" height="8.05" fill="#0000a8"/>
<rect x="338.05" y="859.40" width="8.05" height="8.05" fill="#0000a8"/>
<rect x="345.70" y="859.40" width="8.05" height="8.05" fill="#000094"/>
<rect x="353.35" y="859.40" width="8.05" height="8.05" fill="#0000b2"/>
<rect x="361.00" y="859.40" width="8.05" height="8.05" fill="#0000b2"/>
<rect x="368.65" y="859.40" width="8.05" height="8.05" fill="#000094"/>
<rect x="376.30" y="859.40" width="8.05" height="8.05" fill="#000fff"/>
<rect x="383.95" y="859.40" width="8.05" height="8.05" fill="#0000a8"/>
<rect x="391.60" y="859.40" width="8.05" height="8.05" fill="#0000bd"/>
<rect x="399.25" y="859.40" width="8.05" height="8.05" fill="#0000d1"/>
<rect x="406.90" y="859.40" width="8.05" height="8.05" fill="#0000bd"/>
<rect x="414.55" y="859.40" width="8.05" height="8.05" fill="#0000fa"/>
<rect x="422.20" y="859.40" width="8.05" height="8.05" fill="#0000fa"/>
<rect x="429.85" y="859.40" width="8.05" height="8.05" fill="#00009e"/>
<rect x="437.50" y="859.40" width="8.05" height="8.05" fill="#000094"/>
<rect x="445.15" y="859.40" width="8.05" height="8.05" fill="#00008a"/>
<rect x="299.80" y="867.05" width="8.05" height="8.05" fill="#4dffb2"/>
<rect x="307.45" y="867.05" width="8.05" height="8.05" fill="#000094"/>
<rect x="315.10" y="867.05" width="8.05" height="8.05" fill="#000094"/>
<rect x="322.75" y="867.05" width="8.05" height="8.05" fill="#0000a8"/>
<rect x="330.40" y="867.05" width="8.05" height="8.05" fill="#00008a"/>
<rect x="338.05" y="867.05" width="8.05" height="8.05" fill="#00009e"/>
<rect x="345.70" y="867.05" width="8.05" height="8.05" fill="#0000bd"/>
<rect x="353.35" y="867.05" width="8.05" height="8.05" fill="#00009e"/>
<rect x="361.00" y="867.05" width="8.05" height="8.05" fill="#00009e"/>
<rect x="368.65" y="867.05" width="8.05" height="8.05" fill="#000080"/>
<rect x="376.30" y="867.05" width="8.05" height="8.05" fill="#00009e"/>
<rect x="383.95" y="867.05" width="8.05" height="8.05" fill="#0000bd"/>
<rect x="391.60" y="867.05" width="8.05" height="8.05" fill="#00008a"/>
<rect x="399.25" y="867.05" width="8.05" height="8.05" fill="#000080"/>
<rect x="406.90" y="867.05" width="8.05" height="8.05" fill="#0000b2"/>
<rect x="414.55" y="867.05" width="8.05" height="8.05" fill="#00009e"/>
<rect x="422.20" y="867.05" width="8.05" height="8.05" fill="#0000bd"/>
<rect x="429.85" y="867.05" width="8.05" height="8.05" fill="#0000a8"/>
<rect x="437.50" y="867.05" width="8.05" height="8.05" fill="#00009e"/>
<rect x="445.15" y="867.05" width="8.05" height="8.05" fill="#0000b2"/>
</g>
<g shape-rendering="crispEdges">
<rect x="524.50" y="721.70" width="8.05" height="8.05" fill="#0000b2"/>
<rect x="532.15" y="721.70" width="8.05" height="8.05" fill="#0000bd"/>
<rect x="539.80" y="721.70" width="8.05" height="8.05" fill="#0000b2"/>
<rect x="547.45" y="721.70" width="8.05" height="8.05" fill="#0000b2"/>
<rect x="555.10" y="721.70" width="8.05" height="8.05" fill="#0000bd"/>
<rect x="562.75" y="721.70" width="8.05" height="8.05" fill="#0000d1"/>
<rect x="570.40" y="721.70" width="8.05" height="8.05" fill="#000094"/>
<rect x="578.05" y="721.70" width="8.05" height="8.05" fill="#000094"/>
<rect x="585.70" y="721.70" width="8.05" height="8.05" fill="#0000bd"/>
<rect x="593.35" y="721.70" width="8.05" height="8.05" fill="#0000b2"/>
<rect x="601.00" y="721.70" width="8.05" height="8.05" fill="#001aff"/>
<rect x="608.65" y="721.70" width="8.05" height="8.05" fill="#000094"/>
<rect x="616.30" y="721.70" width="8.05" height="8.05" fill="#00008a"/>
<rect x="623.95" y="721.70" width="8.05" height="8.05" fill="#0000b2"/>
<rect x="631.60" y="721.70" width="8.05" height="8.05" fill="#00009e"/>
<rect x="639.25" y="721.70" width="8.05" height="8.05" fill="#000094"/>
<rect x="646.90" y="721.70" width="8.05" height="8.05" fill="#00008a"/>
<rect x="654.55" y="721.70" width="8.05" height="8.05" fill="#0000bd"/>
<rect x="662.20" y="721.70" width="8.05" height="8.05" fill="#000080"/>
<rect x="669.85" y="721.70" width="8.05" height="8.05" fill="#61ff9e"/>
<rect x="524.50" y="729.35" width="8.05" height="8.05" fill="#0000a8"/>
<rect x="532.15" y="729.35" width="8.05" height="8.05" fill="#0000b2"/>
<rect x="539.80" y="729.35" width="8.05" height="8.05" fill="#0000d1"/>
<rect x="547.45" y="729.35" width="8.05" height="8.05" fill="#000094"/>
<rect x="555.10" y="729.35" width="8.05" height="8.05" fill="#0000d1"/>
<rect x="562.75" y="729.35" width="8.05" height="8.05" fill="#000080"/>
<rect x="570.40" y="729.35" width="8.05" height="8.05" fill="#0000bd"/>
<rect x="578.05" y="729.35" width="8.05" height="8.05" fill="#00008a"/>
<rect x="585.70" y="729.35" width="8.05" height="8.05" fill="#000080"/>
<rect x="593.35" y="729.35" width="8.05" height="8.05" fill="#000080"/>
<rect x="601.00" y="729.35" width="8.05" height="8.05" fill="#000094"/>
<rect x="608.65" y="729.35" width="8.05" height="8.05" fill="#000094"/>
<rect x="616.30" y="729.35" width="8.05" height="8.05" fill="#0000d1"/>
<rect x="623.95" y="729.35" width="8.05" height="8.05" fill="#000080"/>
<rect x="631.60" y="729.35" width="8.05" height="8.05" fill="#0000b2"/>
<rect x="639.25" y="729.35" width="8.05" height="8.05" fill="#00009e"/>
<rect x="646.90" y="729.35" width="8.05" height="8.05" fill="#0000b2"/>
<rect x="654.55" y="729.35" width="8.05" height="8.05" fill="#0000d1"/>
<rect x="662.20" y="729.35" width="8.05" height="8.05" fill="#ff5700"/>
<rect x="669.85" y="729.35" width="8.05" height="8.05" fill="#0000bd"/>
<rect x="524.50" y="737.00" width="8.05" height="8.05" fill="#000094"/>
<rect x="532.15" y="737.00" width="8.05" height="8.05" fill="#00009e"/>
<rect x="539.80" y="737.00" width="8.05" height="8.05" fill="#0000b2"/>
<rect x="547.45" y="737.00" width="8.05" height="8.05" fill="#000080"/>
<rect x="555.10" y="737.00" width="8.05" height="8.05" fill="#00008a"/>
<rect x="562.75" y="737.00" width="8.05" height="8.05" fill="#0000b2"/>
<rect x="570.40" y="737.00" width="8.05" height="8.05" fill="#00009e"/>
<rect x="578.05" y="737.00" width="8.05" height="8.05" fill="#0000a8"/>
<rect x="585.70" y="737.00" width="8.05" height="8.05" fill="#0000bd"/>
<rect x="593.35" y="737.00" width="8.05" height="8.05" fill="#00008a"/>
<rect x="601.00" y="737.00" width="8.05" height="8.05" fill="#00009e"/>
<rect x="608.65" y="737.00" width="8.05" height="8.05" fill="#00009e"/>
<rect x="616.30" y="737.00" width="8.05" height="8.05" fill="#000094"/>
<rect x="623.95" y="737.00" width="8.05" height="8.05" fill="#0000e6"/>
<rect x="631.60" y="737.00" width="8.05" height="8.05" fill="#00009e"/>
<rect x="639.25" y="737.00" width="8.05" height="8.05" fill="#000080"/>
<rect x="646.90" y="737.00" width="8.05" height="8.05" fill="#00008a"/>
<rect x="654.55" y="737.00" width="8.05" height="8.05" fill="#80ff80"/>
<rect x="662.20" y="737.00" width="8.05" height="8.05" fill="#00008a"/>
<rect x="669.85" y="737.00" width="8.05" height="8.05" fill="#0000a8"/>
<rect x="524.50" y="744.65" width="8.05" height="8.05" fill="#00008a"/>
<rect x="532.15" y="744.65" width="8.05" height="8.05" fill="#00009e"/>
<rect x="539.80" y="744.65" width="8.05" height="8.05" fill="#0000a8"/>
<rect x="547.45" y="744.65" width="8.05" height="8.05" fill="#00008a"/>
<rect x="555.10" y="744.65" width="8.05" height="8.05" fill="#000080"/>
<rect x="562.75" y="744.65" width="8.05" height="8.05" fill="#000080"/>
<rect x="570.40" y="744.65" width="8.05" height="8.05" fill="#000094"/>
<rect x="578.05" y="744.65" width="8.05" height="8.05" fill="#000094"/>
<rect x="585.70" y="744.65" width="8.05" height="8.05" fill="#000080"/>
<rect x="593.35" y="744.65" width="8.05" height="8.05" fill="#0000b2"/>
<rect x="601.00" y="744.65" width="8.05" height="8.05" fill="#0000a8"/>
<rect x="608.65" y="744.65" width="8.05" height="8.05" fill="#0000a8"/>
<rect x="616.30" y="744.65" width="8.05" height="8.05" fill="#0000a8"/>
<rect x="623.95" y="744.65" width="8.05" height="8.05" fill="#00008a"/>
<rect x="631.60" y="744.65" width="8.05" height="8.05" fill="#0000d1"/>
<rect x="639.25" y="744.65" width="8.05" height="8.05" fill="#000094"/>
<rect x="646.90" y="744.65" width="8.05" height="8.05" fill="#61ff9e"/>
<rect x="654.55" y="744.65" width="8.05" height="8.05" fill="#00009e"/>
<rect x="662.20" y="744.65" width="8.05" height="8.05" fill="#00008a"/>
<rect x="669.85" y="744.65" width="8.05" height="8.05" fill="#00009e"/>
<rect x="524.50" y="752.30" width="8.05" height="8.05" fill="#00009e"/>
<rect x="532.15" y="752.30" width="8.05" height="8.05" fill="#000080"/>
<rect x="539.80" y="752.30" width="8.05" height="8.05" fill="#0000a8"/>
<rect x="547.45" y="752.30" width="8.05" height="8.05" fill="#00008a"/>
<rect x="555.10" y="752.30" width="8.05" height="8.05" fill="#000094"/>
<rect x="562.75" y="752.30" width="8.05" height="8.05" fill="#000094"/>
<rect x="570.40" y="752.30" width="8.05" height="8.05" fill="#00008a"/>
<rect x="578.05" y="752.30" width="8.05" height="8.05" fill="#000080"/>
<rect x="585.70" y="752.30" width="8.05" height="8.05" fill="#0000e6"/>
<rect x="593.35" y="752.30" width="8.05" height="8.05" fill="#0000b2"/>
<rect x="601.00" y="752.30" width="8.05" height="8.05" fill="#0000b2"/>
<rect x="608.65" y="752.30" width="8.05" height="8.05" fill="#000094"/>
<rect x="616.30" y="752.30" width="8.05" height="8.05" fill="#0000bd"/>
<rect x="623.95" y="752.30" width="8.05" height="8.05" fill="#000094"/>
<rect x="631.60" y="752.30" width="8.05" height="8.05" fill="#0000b2"/>
<rect x="639.25" y="752.30" width="8.05" height="8.05" fill="#fffa00"/>
<rect x="646.90" y="752.30" width="8.05" height="8.05" fill="#000094"/>
<rect x="654.55" y="752.30" width="8.05" height="8.05" fill="#000094"/>
<rect x="662.20" y="752.30" width="8.05" height="8.05" fill="#0000a8"/>
<rect x="669.85" y="752.30" width="8.05" height="8.05" fill="#0000a8"/>
<rect x="524.50" y="759.95" width="8.05" height="8.05" fill="#000fff"/>
<rect x="532.15" y="759.95" width="8.05" height="8.05" fill="#0000a8"/>
<rect x="539.80" y="759.95" width="8.05" height="8.05" fill="#0000a8"/>
<rect x="547.45" y="759.95" width="8.05" height="8.05" fill="#000094"/>
<rect x="555.10" y="759.95" width="8.05" height="8.05" fill="#000080"/>
<rect x="562.75" y="759.95" width="8.05" height="8.05" fill="#0000fa"/>
<rect x="570.40" y="759.95" width="8.05" height="8.05" fill="#0000d1"/>
<rect x="578.05" y="759.95" width="8.05" height="8.05" fill="#00009e"/>
<rect x="585.70" y="759.95" width="8.05" height="8.05" fill="#000080"/>
<rect x="593.35" y="759.95" width="8.05" height="8.05" fill="#0000f0"/>
<rect x="601.00" y="759.95" width="8.05" height="8.05" fill="#0000fa"/>
<rect x="608.65" y="759.95" width="8.05" height="8.05" fill="#0000a8"/>
<rect x="616.30" y="759.95" width="8.05" height="8.05" fill="#0000d1"/>
<rect x="623.95" y="759.95" width="8.05" height="8.05" fill="#0000d1"/>
<rect x="631.60" y="759.95" width="8.05" height="8.05" fill="#ffb300"/>
<rect x="639.25" y="759.95" width="8.05" height="8.05" fill="#000080"/>
<rect x="646.90" y="759.95" width="8.05" height="8.05" fill="#000094"/>
<rect x="654.55" y="759.95" width="8.05" height="8.05" fill="#000094"/>
<rect x="662.20" y="759.95" width="8.05" height="8.05" fill="#0000b2"/>
<rect x="669.85" y="759.95" width="8.05" height="8.05" fill="#00009e"/>
<rect x="524.50" y="767.60" width="8.05" height="8.05" fill="#000080"/>
<rect x="532.15" y="767.60" width="8.05" height="8.05" fill="#0000d1"/>
<rect x="539.80" y="767.60" width="8.05" height="8.05" fill="#00009e"/>
<rect x="547.45" y="767.60" width="8.05" height="8.05" fill="#00009e"/>
<rect x="555.10" y="767.60" width="8.05" height="8.05" fill="#0000a8"/>
<rect x="562.75" y="767.60" width="8.05" height="8.05" fill="#00008a"/>
<rect x="570.40" y="767.60" width="8.05" height="8.05" fill="#00008a"/>
<rect x="578.05" y="767.60" width="8.05" height="8.05" fill="#00008a"/>
<rect x="585.70" y="767.60" width="8.05" height="8.05" fill="#000094"/>
<rect x="593.35" y="767.60" width="8.05" height="8.05" fill="#0000d1"/>
<rect x="601.00" y="767.60" width="8.05" height="8.05" fill="#000094"/>
<rect x="608.65" y="767.60" width="8.05" height="8.05" fill="#000080"/>
<rect x="616.30" y="767.60" width="8.05" height="8.05" fill="#0000d1"/>
<rect x="623.95" y="767.60" width="8.05" height="8.05" fill="#c7ff38"/>
<rect x="631.60" y="767.60" width="8.05" height="8.05" fill="#00009e"/>
<rect x="639.25" y="767.60" width="8.05" height="8.05" fill="#0000d1"/>
<rect x="646.90" y="767.60" width="8.05" height="8.05" fill="#0000b2"/>
<rect x="654.55" y="767.60" width="8.05" height="8.05" fill="#000094"/>
<rect x="662.20" y="767.60" width="8.05" height="8.05" fill="#0000d1"/>
<rect x="669.85" y="767.60" width="8.05" height="8.05" fill="#0000b2"/>
<rect x="524.50" y="775.25" width="8.05" height="8.05" fill="#0000d1"/>
<rect x="532.15" y="775.25" width="8.05" height="8.05" fill="#000094"/>
<rect x="539.80" y="775.25" width="8.05" height="8.05" fill="#0000a8"/>
<rect x="547.45" y="775.25" width="8.05" height="8.05" fill="#000094"/>
<rect x="555.10" y="775.25" width="8.05" height="8.05" fill="#000094"/>
<rect x="562.75" y="775.25" width="8.05" height="8.05" fill="#00009e"/>
<rect x="570.40" y="775.25" width="8.05" height="8.05" fill="#000094"/>
<rect x="578.05" y="775.25" width="8.05" height="8.05" fill="#0000d1"/>
<rect x="585.70" y="775.25" width="8.05" height="8.05" fill="#000094"/>
<rect x="593.35" y="775.25" width="8.05" height="8.05" fill="#000094"/>
<rect x="601.00" y="775.25" width="8.05" height="8.05" fill="#000094"/>
<rect x="608.65" y="775.25" width="8.05" height="8.05" fill="#0000bd"/>
<rect x="616.30" y="775.25" width="8.05" height="8.05" fill="#ff6100"/>
<rect x="623.95" y="775.25" width="8.05" height="8.05" fill="#0000a8"/>
<rect x="631.60" y="775.25" width="8.05" height="8.05" fill="#0000b2"/>
<rect x="639.25" y="775.25" width="8.05" height="8.05" fill="#0000d1"/>
<rect x="646.90" y="775.25" width="8.05" height="8.05" fill="#00008a"/>
<rect x="654.55" y="775.25" width="8.05" height="8.05" fill="#0000a8"/>
<rect x="662.20" y="775.25" width="8.05" height="8.05" fill="#000080"/>
<rect x="669.85" y="775.25" width="8.05" height="8.05" fill="#00008a"/>
<rect x="524.50" y="782.90" width="8.05" height="8.05" fill="#00008a"/>
<rect x="532.15" y="782.90" width="8.05" height="8.05" fill="#000080"/>
<rect x="539.80" y="782.90" width="8.05" height="8.05" fill="#0000bd"/>
<rect x="547.45" y="782.90" width="8.05" height="8.05" fill="#000fff"/>
<rect x="555.10" y="782.90" width="8.05" height="8.05" fill="#000094"/>
<rect x="562.75" y="782.90" width="8.05" height="8.05" fill="#0000a8"/>
<rect x="570.40" y="782.90" width="8.05" height="8.05" fill="#0000fa"/>
<rect x="578.05" y="782.90" width="8.05" height="8.05" fill="#0000a8"/>
<rect x="585.70" y="782.90" width="8.05" height="8.05" fill="#0005ff"/>
<rect x="593.35" y="782.90" width="8.05" height="8.05" fill="#0000b2"/>
<rect x="601.00" y="782.90" width="8.05" height="8.05" fill="#00009e"/>
<rect x="608.65" y="782.90" width="8.05" height="8.05" fill="#ffc700"/>
<rect x="616.30" y="782.90" width="8.05" height="8.05" fill="#000094"/>
<rect x="623.95" y="782.90" width="8.05" height="8.05" fill="#00008a"/>
<rect x="631.60" y="782.90" width="8.05" height="8.05" fill="#000094"/>
<rect x="639.25" y="782.90" width="8.05" height="8.05" fill="#000094"/>
<rect x="646.90" y="782.90" width="8.05" height="8.05" fill="#0000b2"/>
<rect x="654.55" y="782.90" width="8.05" height="8.05" fill="#0000bd"/>
<rect x="662.20" y="782.90" width="8.05" height="8.05" fill="#0000d1"/>
<rect x="669.85" y="782.90" width="8.05" height="8.05" fill="#0000d1"/>
<rect x="524.50" y="790.55" width="8.05" height="8.05" fill="#00008a"/>
<rect x="532.15" y="790.55" width="8.05" height="8.05" fill="#00009e"/>
<rect x="539.80" y="790.55" width="8.05" height="8.05" fill="#000094"/>
<rect x="547.45" y="790.55" width="8.05" height="8.05" fill="#000094"/>
<rect x="555.10" y="790.55" width="8.05" height="8.05" fill="#000080"/>
<rect x="562.75" y="790.55" width="8.05" height="8.05" fill="#00008a"/>
<rect x="570.40" y="790.55" width="8.05" height="8.05" fill="#00009e"/>
<rect x="578.05" y="790.55" width="8.05" height="8.05" fill="#0000a8"/>
<rect x="585.70" y="790.55" width="8.05" height="8.05" fill="#0000b2"/>
<rect x="593.35" y="790.55" width="8.05" height="8.05" fill="#000094"/>
<rect x="601.00" y="790.55" width="8.05" height="8.05" fill="#38ffc7"/>
<rect x="608.65" y="790.55" width="8.05" height="8.05" fill="#000080"/>
<rect x="616.30" y="790.55" width="8.05" height="8.05" fill="#000094"/>
<rect x="623.95" y="790.55" width="8.05" height="8.05" fill="#00009e"/>
<rect x="631.60" y="790.55" width="8.05" height="8.05" fill="#00009e"/>
<rect x="639.25" y="790.55" width="8.05" height="8.05" fill="#0000bd"/>
<rect x="646.90" y="790.55" width="8.05" height="8.05" fill="#0000d1"/>
<rect x="654.55" y="790.55" width="8.05" height="8.05" fill="#000094"/>
<rect x="662.20" y="790.55" width="8.05" height="8.05" fill="#00008a"/>
<rect x="669.85" y="790.55" width="8.05" height="8.05" fill="#0000fa"/>
<rect x="524.50" y="798.20" width="8.05" height="8.05" fill="#000094"/>
<rect x="532.15" y="798.20" width="8.05" height="8.05" fill="#0000b2"/>
<rect x="539.80" y="798.20" width="8.05" height="8.05" fill="#00009e"/>
<rect x="547.45" y="798.20" width="8.05" height="8.05" fill="#0000bd"/>
<rect x="555.10" y="798.20" width="8.05" height="8.05" fill="#0000d1"/>
<rect x="562.75" y="798.20" width="8.05" height="8.05" fill="#000094"/>
<rect x="570.40" y="798.20" width="8.05" height="8.05" fill="#0000d1"/>
<rect x="578.05" y="798.20" width="8.05" height="8.05" fill="#000080"/>
<rect x="585.70" y="798.20" width="8.05" height="8.05" fill="#000080"/>
<rect x="593.35" y="798.20" width="8.05" height="8.05" fill="#ffb300"/>
<rect x="601.00" y="798.20" width="8.05" height="8.05" fill="#00009e"/>
<rect x="608.65" y="798.20" width="8.05" height="8.05" fill="#00009e"/>
<rect x="616.30" y="798.20" width="8.05" height="8.05" fill="#000080"/>
<rect x="623.95" y="798.20" width="8.05" height="8.05" fill="#000080"/>
<rect x="631.60" y="798.20" width="8.05" height="8.05" fill="#0000d1"/>
<rect x="639.25" y="798.20" width="8.05" height="8.05" fill="#00008a"/>
<rect x="646.90" y="798.20" width="8.05" height="8.05" fill="#0000b2"/>
<rect x="654.55" y="798.20" width="8.05" height="8.05" fill="#00008a"/>
<rect x="662.20" y="798.20" width="8.05" height="8.05" fill="#00009e"/>
<rect x="669.85" y="798.20" width="8.05" height="8.05" fill="#00009e"/>
<rect x="524.50" y="805.85" width="8.05" height="8.05" fill="#000094"/>
<rect x="532.15" y="805.85" width="8.05" height="8.05" fill="#00008a"/>
<rect x="539.80" y="805.85" width="8.05" height="8.05" fill="#00008a"/>
<rect x="547.45" y="805.85" width="8.05" height="8.05" fill="#0000b2"/>
<rect x="555.10" y="805.85" width="8.05" height="8.05" fill="#0000bd"/>
<rect x="562.75" y="805.85" width="8.05" height="8.05" fill="#00009e"/>
<rect x="570.40" y="805.85" width="8.05" height="8.05" fill="#000080"/>
<rect x="578.05" y="805.85" width="8.05" height="8.05" fill="#000094"/>
<rect x="585.70" y="805.85" width="8.05" height="8.05" fill="#bdff42"/>
<rect x="593.35" y="805.85" width="8.05" height="8.05" fill="#00009e"/>
<rect x="601.00" y="805.85" width="8.05" height="8.05" fill="#00008a"/>
<rect x="608.65" y="805.85" width="8.05" height="8.05" fill="#0000b2"/>
<rect x="616.30" y="805.85" width="8.05" height="8.05" fill="#00008a"/>
<rect x="623.95" y="805.85" width="8.05" height="8.05" fill="#0000a8"/>
<rect x="631.60" y="805.85" width="8.05" height="8.05" fill="#000080"/>
<rect x="639.25" y="805.85" width="8.05" height="8.05" fill="#0000b2"/>
<rect x="646.90" y="805.85" width="8.05" height="8.05" fill="#0000d1"/>
<rect x="654.55" y="805.85" width="8.05" height="8.05" fill="#000080"/>
<rect x="662.20" y="805.85" width="8.05" height="8.05" fill="#0000d1"/>
<rect x="669.85" y="805.85" width="8.05" height="8.05" fill="#0000a8"/>
<rect x="524.50" y="813.50" width="8.05" height="8.05" fill="#0000a8"/>
<rect x="532.15" y="813.50" width="8.05" height="8.05" fill="#0000d1"/>
<rect x="539.80" y="813.50" width="8.05" height="8.05" fill="#000080"/>
<rect x="547.45" y="813.50" width="8.05" height="8.05" fill="#0000d1"/>
<rect x="555.10" y="813.50" width="8.05" height="8.05" fill="#00008a"/>
<rect x="562.75" y="813.50" width="8.05" height="8.05" fill="#00008a"/>
<rect x="570.40" y="813.50" width="8.05" height="8.05" fill="#00008a"/>
<rect x="578.05" y="813.50" width="8.05" height="8.05" fill="#61ff9e"/>
<rect x="585.70" y="813.50" width="8.05" height="8.05" fill="#00009e"/>
<rect x="593.35" y="813.50" width="8.05" height="8.05" fill="#0000a8"/>
<rect x="601.00" y="813.50" width="8.05" height="8.05" fill="#00009e"/>
<rect x="608.65" y="813.50" width="8.05" height="8.05" fill="#0000a8"/>
<rect x="616.30" y="813.50" width="8.05" height="8.05" fill="#0000d1"/>
<rect x="623.95" y="813.50" width="8.05" height="8.05" fill="#0000b2"/>
<rect x="631.60" y="813.50" width="8.05" height="8.05" fill="#0000b2"/>
<rect x="639.25" y="813.50" width="8.05" height="8.05" fill="#0000b2"/>
<rect x="646.90" y="813.50" width="8.05" height="8.05" fill="#0000bd"/>
<rect x="654.55" y="813.50" width="8.05" height="8.05" fill="#00008a"/>
<rect x="662.20" y="813.50" width="8.05" height="8.05" fill="#0000bd"/>
<rect x="669.85" y="813.50" width="8.05" height="8.05" fill="#0000bd"/>
<rect x="524.50" y="821.15" width="8.05" height="8.05" fill="#000080"/>
<rect x="532.15" y="821.15" width="8.05" height="8.05" fill="#00009e"/>
<rect x="539.80" y="821.15" width="8.05" height="8.05" fill="#0000d1"/>
<rect x="547.45" y="821.15" width="8.05" height="8.05" fill="#00008a"/>
<rect x="555.10" y="821.15" width="8.05" height="8.05" fill="#0000b2"/>
<rect x="562.75" y="821.15" width="8.05" height="8.05" fill="#000080"/>
<rect x="570.40" y="821.15" width="8.05" height="8.05" fill="#00f0ff"/>
<rect x="578.05" y="821.15" width="8.05" height="8.05" fill="#0000fa"/>
<rect x="585.70" y="821.15" width="8.05" height="8.05" fill="#0000b2"/>
<rect x="593.35" y="821.15" width="8.05" height="8.05" fill="#0000d1"/>
<rect x="601.00" y="821.15" width="8.05" height="8.05" fill="#0000b2"/>
<rect x="608.65" y="821.15" width="8.05" height="8.05" fill="#00009e"/>
<rect x="616.30" y="821.15" width="8.05" height="8.05" fill="#000080"/>
<rect x="623.95" y="821.15" width="8.05" height="8.05" fill="#00009e"/>
<rect x="631.60" y="821.15" width="8.05" height="8.05" fill="#00009e"/>
<rect x="639.25" y="821.15" width="8.05" height="8.05" fill="#000094"/>
<rect x="646.90" y="821.15" width="8.05" height="8.05" fill="#0000d1"/>
<rect x="654.55" y="821.15" width="8.05" height="8.05" fill="#000094"/>
<rect x="662.20" y="821.15" width="8.05" height="8.05" fill="#0000bd"/>
<rect x="669.85" y="821.15" width="8.05" height="8.05" fill="#000094"/>
<rect x="524.50" y="828.80" width="8.05" height="8.05" fill="#00009e"/>
<rect x="532.15" y="828.80" width="8.05" height="8.05" fill="#0000b2"/>
<rect x="539.80" y="828.80" width="8.05" height="8.05" fill="#0000b2"/>
<rect x="547.45" y="828.80" width="8.05" height="8.05" fill="#000094"/>
<rect x="555.10" y="828.80" width="8.05" height="8.05" fill="#00009e"/>
<rect x="562.75" y="828.80" width="8.05" height="8.05" fill="#fff000"/>
<rect x="570.40" y="828.80" width="8.05" height="8.05" fill="#00009e"/>
<rect x="578.05" y="828.80" width="8.05" height="8.05" fill="#0005ff"/>
<rect x="585.70" y="828.80" width="8.05" height="8.05" fill="#0000a8"/>
<rect x="593.35" y="828.80" width="8.05" height="8.05" fill="#000094"/>
<rect x="601.00" y="828.80" width="8.05" height="8.05" fill="#000094"/>
<rect x="608.65" y="828.80" width="8.05" height="8.05" fill="#0000a8"/>
<rect x="616.30" y="828.80" width="8.05" height="8.05" fill="#000094"/>
<rect x="623.95" y="828.80" width="8.05" height="8.05" fill="#0000d1"/>
<rect x="631.60" y="828.80" width="8.05" height="8.05" fill="#0005ff"/>
<rect x="639.25" y="828.80" width="8.05" height="8.05" fill="#0005ff"/>
<rect x="646.90" y="828.80" width="8.05" height="8.05" fill="#0000fa"/>
<rect x="654.55" y="828.80" width="8.05" height="8.05" fill="#000094"/>
<rect x="662.20" y="828.80" width="8.05" height="8.05" fill="#0000b2"/>
<rect x="669.85" y="828.80" width="8.05" height="8.05" fill="#00009e"/>
<rect x="524.50" y="836.45" width="8.05" height="8.05" fill="#0005ff"/>
<rect x="532.15" y="836.45" width="8.05" height="8.05" fill="#00008a"/>
<rect x="539.80" y="836.45" width="8.05" height="8.05" fill="#00009e"/>
<rect x="547.45" y="836.45" width="8.05" height="8.05" fill="#000094"/>
<rect x="555.10" y="836.45" width="8.05" height="8.05" fill="#2effd1"/>
<rect x="562.75" y="836.45" width="8.05" height="8.05" fill="#0000b2"/>
<rect x="570.40" y="836.45" width="8.05" height="8.05" fill="#0000b2"/>
<rect x="578.05" y="836.45" width="8.05" height="8.05" fill="#00009e"/>
<rect x="585.70" y="836.45" width="8.05" height="8.05" fill="#0000fa"/>
<rect x="593.35" y="836.45" width="8.05" height="8.05" fill="#0000a8"/>
<rect x="601.00" y="836.45" width="8.05" height="8.05" fill="#0000a8"/>
<rect x="608.65" y="836.45" width="8.05" height="8.05" fill="#0000bd"/>
<rect x="616.30" y="836.45" width="8.05" height="8.05" fill="#0000b2"/>
<rect x="623.95" y="836.45" width="8.05" height="8.05" fill="#00009e"/>
<rect x="631.60" y="836.45" width="8.05" height="8.05" fill="#0000d1"/>
<rect x="639.25" y="836.45" width="8.05" height="8.05" fill="#0000b2"/>
<rect x="646.90" y="836.45" width="8.05" height="8.05" fill="#00009e"/>
<rect x="654.55" y="836.45" width="8.05" height="8.05" fill="#0075ff"/>
<rect x="662.20" y="836.45" width="8.05" height="8.05" fill="#000080"/>
<rect x="669.85" y="836.45" width="8.05" height="8.05" fill="#00009e"/>
<rect x="524.50" y="844.10" width="8.05" height="8.05" fill="#0000d1"/>
<rect x="532.15" y="844.10" width="8.05" height="8.05" fill="#000080"/>
<rect x="539.80" y="844.10" width="8.05" height="8.05" fill="#00009e"/>
<rect x="547.45" y="844.10" width="8.05" height="8.05" fill="#ffa800"/>
<rect x="555.10" y="844.10" width="8.05" height="8.05" fill="#00009e"/>
<rect x="562.75" y="844.10" width="8.05" height="8.05" fill="#00009e"/>
<rect x="570.40" y="844.10" width="8.05" height="8.05" fill="#0000fa"/>
<rect x="578.05" y="844.10" width="8.05" height="8.05" fill="#000080"/>
<rect x="585.70" y="844.10" width="8.05" height="8.05" fill="#000094"/>
<rect x="593.35" y="844.10" width="8.05" height="8.05" fill="#0000a8"/>
<rect x="601.00" y="844.10" width="8.05" height="8.05" fill="#0000b2"/>
<rect x="608.65" y="844.10" width="8.05" height="8.05" fill="#000fff"/>
<rect x="616.30" y="844.10" width="8.05" height="8.05" fill="#000080"/>
<rect x="623.95" y="844.10" width="8.05" height="8.05" fill="#00009e"/>
<rect x="631.60" y="844.10" width="8.05" height="8.05" fill="#000094"/>
<rect x="639.25" y="844.10" width="8.05" height="8.05" fill="#000094"/>
<rect x="646.90" y="844.10" width="8.05" height="8.05" fill="#000080"/>
<rect x="654.55" y="844.10" width="8.05" height="8.05" fill="#00008a"/>
<rect x="662.20" y="844.10" width="8.05" height="8.05" fill="#0000b2"/>
<rect x="669.85" y="844.10" width="8.05" height="8.05" fill="#00008a"/>
<rect x="524.50" y="851.75" width="8.05" height="8.05" fill="#0000bd"/>
<rect x="532.15" y="851.75" width="8.05" height="8.05" fill="#00009e"/>
<rect x="539.80" y="851.75" width="8.05" height="8.05" fill="#e50000"/>
<rect x="547.45" y="851.75" width="8.05" height="8.05" fill="#000094"/>
<rect x="555.10" y="851.75" width="8.05" height="8.05" fill="#000094"/>
<rect x="562.75" y="851.75" width="8.05" height="8.05" fill="#0000b2"/>
<rect x="570.40" y="851.75" width="8.05" height="8.05" fill="#0005ff"/>
<rect x="578.05" y="851.75" width="8.05" height="8.05" fill="#000094"/>
<rect x="585.70" y="851.75" width="8.05" height="8.05" fill="#000080"/>
<rect x="593.35" y="851.75" width="8.05" height="8.05" fill="#0000b2"/>
<rect x="601.00" y="851.75" width="8.05" height="8.05" fill="#0000bd"/>
<rect x="608.65" y="851.75" width="8.05" height="8.05" fill="#000080"/>
<rect x="616.30" y="851.75" width="8.05" height="8.05" fill="#000094"/>
<rect x="623.95" y="851.75" width="8.05" height="8.05" fill="#000094"/>
<rect x="631.60" y="851.75" width="8.05" height="8.05" fill="#00009e"/>
<rect x="639.25" y="851.75" width="8.05" height="8.05" fill="#00009e"/>
<rect x="646.90" y="851.75" width="8.05" height="8.05" fill="#0000bd"/>
<rect x="654.55" y="851.75" width="8.05" height="8.05" fill="#0000bd"/>
<rect x="662.20" y="851.75" width="8.05" height="8.05" fill="#0000bd"/>
<rect x="669.85" y="851.75" width="8.05" height="8.05" fill="#0000d1"/>
<rect x="524.50" y="859.40" width="8.05" height="8.05" fill="#000094"/>
<rect x="532.15" y="859.40" width="8.05" height="8.05" fill="#bdff42"/>
<rect x="539.80" y="859.40" width="8.05" height="8.05" fill="#000094"/>
<rect x="547.45" y="859.40" width="8.05" height="8.05" fill="#00008a"/>
<rect x="555.10" y="859.40" width="8.05" height="8.05" fill="#0000a8"/>
<rect x="562.75" y="859.40" width="8.05" height="8.05" fill="#0000a8"/>
<rect x="570.40" y="859.40" width="8.05" height="8.05" fill="#000094"/>
<rect x="578.05" y="859.40" width="8.05" height="8.05" fill="#0000b2"/>
<rect x="585.70" y="859.40" width="8.05" height="8.05" fill="#0000b2"/>
<rect x="593.35" y="859.40" width="8.05" height="8.05" fill="#000094"/>
<rect x="601.00" y="859.40" width="8.05" height="8.05" fill="#000fff"/>
<rect x="608.65" y="859.40" width="8.05" height="8.05" fill="#0000a8"/>
<rect x="616.30" y="859.40" width="8.05" height="8.05" fill="#0000bd"/>
<rect x="623.95" y="859.40" width="8.05" height="8.05" fill="#0000d1"/>
<rect x="631.60" y="859.40" width="8.05" height="8.05" fill="#0000bd"/>
<rect x="639.25" y="859.40" width="8.05" height="8.05" fill="#0000fa"/>
<rect x="646.90" y="859.40" width="8.05" height="8.05" fill="#0000fa"/>
<rect x="654.55" y="859.40" width="8.05" height="8.05" fill="#00009e"/>
<rect x="662.20" y="859.40" width="8.05" height="8.05" fill="#000094"/>
<rect x="669.85" y="859.40" width="8.05" height="8.05" fill="#00008a"/>
<rect x="524.50" y="867.05" width="8.05" height="8.05" fill="#4dffb2"/>
<rect x="532.15" y="867.05" width="8.05" height="8.05" fill="#000094"/>
<rect x="539.80" y="867.05" width="8.05" height="8.05" fill="#000094"/>
<rect x="547.45" y="867.05" width="8.05" height="8.05" fill="#0000a8"/>
<rect x="555.10" y="867.05" width="8.05" height="8.05" fill="#00008a"/>
<rect x="562.75" y="867.05" width="8.05" height="8.05" fill="#00009e"/>
<rect x="570.40" y="867.05" width="8.05" height="8.05" fill="#0000bd"/>
<rect x="578.05" y="867.05" width="8.05" height="8.05" fill="#00009e"/>
<rect x="585.70" y="867.05" width="8.05" height="8.05" fill="#00009e"/>
<rect x="593.35" y="867.05" width="8.05" height="8.05" fill="#000080"/>
<rect x="601.00" y="867.05" width="8.05" height="8.05" fill="#00009e"/>
<rect x="608.65" y="867.05" width="8.05" height="8.05" fill="#0000bd"/>
<rect x="616.30" y="867.05" width="8.05" height="8.05" fill="#00008a"/>
<rect x="623.95" y="867.05" width="8.05" height="8.05" fill="#000080"/>
<rect x="631.60" y="867.05" width="8.05" height="8.05" fill="#0000b2"/>
<rect x="639.25" y="867.05" width="8.05" height="8.05" fill="#00009e"/>
<rect x="646.90" y="867.05" width="8.05" height="8.05" fill="#0000bd"/>
<rect x="654.55" y="867.05" width="8.05" height="8.05" fill="#0000a8"/>
<rect x="662.20" y="867.05" width="8.05" height="8.05" fill="#00009e"/>
<rect x="669.85" y="867.05" width="8.05" height="8.05" fill="#0000b2"/>
</g>
<defs><linearGradient id="jetv" x1="0" y1="0" x2="0" y2="1"><stop offset="0.00" stop-color="#800000"/><stop offset="0.05" stop-color="#b30000"/><stop offset="0.10" stop-color="#e50000"/><stop offset="0.15" stop-color="#ff1a00"/><stop offset="0.20" stop-color="#ff4c00"/><stop offset="0.25" stop-color="#ff8000"/><stop offset="0.30" stop-color="#ffb300"/><stop offset="0.35" stop-color="#ffe500"/><stop offset="0.40" stop-color="#e5ff1a"/><stop offset="0.45" stop-color="#b3ff4c"/><stop offset="0.50" stop-color="#80ff80"/><stop offset="0.55" stop-color="#4cffb3"/><stop offset="0.60" stop-color="#1affe5"/><stop offset="0.65" stop-color="#00e5ff"/><stop offset="0.70" stop-color="#00b3ff"/><stop offset="0.75" stop-color="#0080ff"/><stop offset="0.80" stop-color="#004cff"/><stop offset="0.85" stop-color="#001aff"/><stop offset="0.90" stop-color="#0000e5"/><stop offset="0.95" stop-color="#0000b3"/><stop offset="1.00" stop-color="#000080"/></linearGradient></defs>
<rect x="686.7" y="721.7" width="27.5" height="153" fill="url(#jetv)"/>
<text x="150.7" y="708.5" font-size="20" text-anchor="middle">Performance = 0.15</text>
<text x="66.7" y="730" font-size="20" text-anchor="end">20</text>
<text x="66.7" y="881.5" font-size="20" text-anchor="end">1</text>
<text x="75.2" y="898.5" font-size="20" text-anchor="middle">1</text>
<text x="227.2" y="898.5" font-size="20" text-anchor="middle">20</text>
<text x="150.7" y="924" font-size="20" text-anchor="middle">Original stimulus</text>
<text x="376.3" y="708.5" font-size="20" text-anchor="middle">Performance = 0.58</text>
<text x="292.3" y="730" font-size="20" text-anchor="end">20</text>
<text x="292.3" y="881.5" font-size="20" text-anchor="end">1</text>
<text x="300.8" y="898.5" font-size="20" text-anchor="middle">1</text>
<text x="452.8" y="898.5" font-size="20" text-anchor="middle">20</text>
<text x="376.3" y="924" font-size="20" text-anchor="middle">Original stimulus</text>
<text x="601.0" y="708.5" font-size="20" text-anchor="middle">Performance = 0.38</text>
<text x="517.0" y="730" font-size="20" text-anchor="end">20</text>
<text x="517.0" y="881.5" font-size="20" text-anchor="end">1</text>
<text x="525.5" y="898.5" font-size="20" text-anchor="middle">1</text>
<text x="677.5" y="898.5" font-size="20" text-anchor="middle">20</text>
<text x="601.0" y="924" font-size="20" text-anchor="middle">Original stimulus</text>
<text transform="translate(30.5,798.5) rotate(-90)" font-size="20" text-anchor="middle">Assigned stimulus</text>
<text x="722" y="728" font-size="20">1</text>
<text x="722" y="804" font-size="20">0.5</text>
<text x="722" y="881" font-size="20">0</text>
<text transform="translate(778,797.5) rotate(-90)" font-size="20" text-anchor="middle">Probability</text>
<text x="2" y="959" font-size="29" text-anchor="start" font-weight="bold">d</text>
<defs><linearGradient id="d0" x2="0" y2="1"><stop offset="0.000" stop-color="#0000a6"/><stop offset="0.102" stop-color="#0000a5"/><stop offset="0.194" stop-color="#0000a5"/><stop offset="0.269" stop-color="#0000a4"/><stop offset="0.333" stop-color="#0000a4"/><stop offset="0.392" stop-color="#0000a4"/><stop offset="0.452" stop-color="#0000a3"/><stop offset="0.511" stop-color="#0000a3"/><stop offset="0.575" stop-color="#0000a3"/><stop offset="0.640" stop-color="#0000a2"/><stop offset="0.699" stop-color="#0000a2"/><stop offset="0.758" stop-color="#0000a2"/><stop offset="0.817" stop-color="#0000a1"/><stop offset="0.882" stop-color="#0000a1"/><stop offset="0.941" stop-color="#0000a1"/><stop offset="1.000" stop-color="#0000a0"/></linearGradient><linearGradient id="d1" x2="0" y2="1"><stop offset="0.000" stop-color="#0000b7"/><stop offset="0.102" stop-color="#0000b5"/><stop offset="0.194" stop-color="#0000b4"/><stop offset="0.269" stop-color="#0000b4"/><stop offset="0.333" stop-color="#0000b3"/><stop offset="0.392" stop-color="#0000b2"/><stop offset="0.452" stop-color="#0000b2"/><stop offset="0.511" stop-color="#0000b1"/><stop offset="0.575" stop-color="#0000b0"/><stop offset="0.640" stop-color="#0000b0"/><stop offset="0.699" stop-color="#0000af"/><stop offset="0.758" stop-color="#0000ae"/><stop offset="0.817" stop-color="#0000ae"/><stop offset="0.882" stop-color="#0000ad"/><stop offset="0.941" stop-color="#0000ac"/><stop offset="1.000" stop-color="#0000ac"/></linearGradient><linearGradient id="d2" x2="0" y2="1"><stop offset="0.000" stop-color="#0000c7"/><stop offset="0.102" stop-color="#0000c6"/><stop offset="0.194" stop-color="#0000c4"/><stop offset="0.269" stop-color="#0000c3"/><stop offset="0.333" stop-color="#0000c2"/><stop offset="0.392" stop-color="#0000c1"/><stop offset="0.452" stop-color="#0000c0"/><stop offset="0.511" stop-color="#0000bf"/><stop offset="0.575" stop-color="#0000be"/><stop offset="0.640" stop-color="#0000bd"/><stop offset="0.699" stop-color="#0000bc"/><stop offset="0.758" stop-color="#0000bb"/><stop offset="0.817" stop-color="#0000ba"/><stop offset="0.882" stop-color="#0000b9"/><stop offset="0.941" stop-color="#0000b8"/><stop offset="1.000" stop-color="#0000b7"/></linearGradient><linearGradient id="d3" x2="0" y2="1"><stop offset="0.000" stop-color="#0000d8"/><stop offset="0.102" stop-color="#0000d6"/><stop offset="0.194" stop-color="#0000d4"/><stop offset="0.269" stop-color="#0000d2"/><stop offset="0.333" stop-color="#0000d1"/><stop offset="0.392" stop-color="#0000d0"/><stop offset="0.452" stop-color="#0000ce"/><stop offset="0.511" stop-color="#0000cd"/><stop offset="0.575" stop-color="#0000cc"/><stop offset="0.640" stop-color="#0000ca"/><stop offset="0.699" stop-color="#0000c9"/><stop offset="0.758" stop-color="#0000c8"/><stop offset="0.817" stop-color="#0000c6"/><stop offset="0.882" stop-color="#0000c5"/><stop offset="0.941" stop-color="#0000c4"/><stop offset="1.000" stop-color="#0000c2"/></linearGradient><linearGradient id="d4" x2="0" y2="1"><stop offset="0.000" stop-color="#0000e6"/><stop offset="0.102" stop-color="#0000e3"/><stop offset="0.194" stop-color="#0000e1"/><stop offset="0.269" stop-color="#0000df"/><stop offset="0.333" stop-color="#0000dd"/><stop offset="0.392" stop-color="#0000dc"/><stop offset="0.452" stop-color="#0000da"/><stop offset="0.511" stop-color="#0000d9"/><stop offset="0.575" stop-color="#0000d7"/><stop offset="0.640" stop-color="#0000d5"/><stop offset="0.699" stop-color="#0000d4"/><stop offset="0.758" stop-color="#0000d2"/><stop offset="0.817" stop-color="#0000d1"/><stop offset="0.882" stop-color="#0000cf"/><stop offset="0.941" stop-color="#0000cd"/><stop offset="1.000" stop-color="#0000cc"/></linearGradient><linearGradient id="d5" x2="0" y2="1"><stop offset="0.000" stop-color="#0000f2"/><stop offset="0.102" stop-color="#0000ef"/><stop offset="0.194" stop-color="#0000ec"/><stop offset="0.269" stop-color="#0000ea"/><stop offset="0.333" stop-color="#0000e8"/><stop offset="0.392" stop-color="#0000e6"/><stop offset="0.452" stop-color="#0000e5"/><stop offset="0.511" stop-color="#0000e3"/><stop offset="0.575" stop-color="#0000e1"/><stop offset="0.640" stop-color="#0000df"/><stop offset="0.699" stop-color="#0000dd"/><stop offset="0.758" stop-color="#0000db"/><stop offset="0.817" stop-color="#0000da"/><stop offset="0.882" stop-color="#0000d8"/><stop offset="0.941" stop-color="#0000d6"/><stop offset="1.000" stop-color="#0000d4"/></linearGradient><linearGradient id="d6" x2="0" y2="1"><stop offset="0.000" stop-color="#0000fe"/><stop offset="0.102" stop-color="#0000fb"/><stop offset="0.194" stop-color="#0000f8"/><stop offset="0.269" stop-color="#0000f5"/><stop offset="0.333" stop-color="#0000f3"/><stop offset="0.392" stop-color="#0000f1"/><stop offset="0.452" stop-color="#0000ef"/><stop offset="0.511" stop-color="#0000ed"/><stop offset="0.575" stop-color="#0000eb"/><stop offset="0.640" stop-color="#0000e9"/><stop offset="0.699" stop-color="#0000e7"/><stop offset="0.758" stop-color="#0000e5"/><stop offset="0.817" stop-color="#0000e3"/><stop offset="0.882" stop-color="#0000e0"/><stop offset="0.941" stop-color="#0000de"/><stop offset="1.000" stop-color="#0000dc"/></linearGradient><linearGradient id="d7" x2="0" y2="1"><stop offset="0.000" stop-color="#000cff"/><stop offset="0.102" stop-color="#0008ff"/><stop offset="0.194" stop-color="#0005ff"/><stop offset="0.269" stop-color="#0002ff"/><stop offset="0.333" stop-color="#0000fe"/><stop offset="0.392" stop-color="#0000fc"/><stop offset="0.452" stop-color="#0000fa"/><stop offset="0.511" stop-color="#0000f8"/><stop offset="0.575" stop-color="#0000f5"/><stop offset="0.640" stop-color="#0000f3"/><stop offset="0.699" stop-color="#0000f0"/><stop offset="0.758" stop-color="#0000ee"/><stop offset="0.817" stop-color="#0000ec"/><stop offset="0.882" stop-color="#0000e9"/><stop offset="0.941" stop-color="#0000e7"/><stop offset="1.000" stop-color="#0000e5"/></linearGradient><linearGradient id="d8" x2="0" y2="1"><stop offset="0.000" stop-color="#0019ff"/><stop offset="0.102" stop-color="#0014ff"/><stop offset="0.194" stop-color="#0011ff"/><stop offset="0.269" stop-color="#000dff"/><stop offset="0.333" stop-color="#000bff"/><stop offset="0.392" stop-color="#0008ff"/><stop offset="0.452" stop-color="#0006ff"/><stop offset="0.511" stop-color="#0003ff"/><stop offset="0.575" stop-color="#0000ff"/><stop offset="0.640" stop-color="#0000fd"/><stop offset="0.699" stop-color="#0000fa"/><stop offset="0.758" stop-color="#0000f8"/><stop offset="0.817" stop-color="#0000f5"/><stop offset="0.882" stop-color="#0000f3"/><stop offset="0.941" stop-color="#0000f0"/><stop offset="1.000" stop-color="#0000ee"/></linearGradient><linearGradient id="d9" x2="0" y2="1"><stop offset="0.000" stop-color="#0025ff"/><stop offset="0.102" stop-color="#0021ff"/><stop offset="0.194" stop-color="#001cff"/><stop offset="0.269" stop-color="#0019ff"/><stop offset="0.333" stop-color="#0016ff"/><stop offset="0.392" stop-color="#0013ff"/><stop offset="0.452" stop-color="#0011ff"/><stop offset="0.511" stop-color="#000eff"/><stop offset="0.575" stop-color="#000bff"/><stop offset="0.640" stop-color="#0008ff"/><stop offset="0.699" stop-color="#0005ff"/><stop offset="0.758" stop-color="#0002ff"/><stop offset="0.817" stop-color="#0000ff"/><stop offset="0.882" stop-color="#0000fc"/><stop offset="0.941" stop-color="#0000f9"/><stop offset="1.000" stop-color="#0000f6"/></linearGradient><linearGradient id="d10" x2="0" y2="1"><stop offset="0.000" stop-color="#0031ff"/><stop offset="0.102" stop-color="#002cff"/><stop offset="0.194" stop-color="#0027ff"/><stop offset="0.269" stop-color="#0024ff"/><stop offset="0.333" stop-color="#0020ff"/><stop offset="0.392" stop-color="#001dff"/><stop offset="0.452" stop-color="#001aff"/><stop offset="0.511" stop-color="#0018ff"/><stop offset="0.575" stop-color="#0014ff"/><stop offset="0.640" stop-color="#0011ff"/><stop offset="0.699" stop-color="#000eff"/><stop offset="0.758" stop-color="#000bff"/><stop offset="0.817" stop-color="#0008ff"/><stop offset="0.882" stop-color="#0005ff"/><stop offset="0.941" stop-color="#0002ff"/><stop offset="1.000" stop-color="#0000fe"/></linearGradient><linearGradient id="d11" x2="0" y2="1"><stop offset="0.000" stop-color="#0038ff"/><stop offset="0.102" stop-color="#0033ff"/><stop offset="0.194" stop-color="#002eff"/><stop offset="0.269" stop-color="#002aff"/><stop offset="0.333" stop-color="#0027ff"/><stop offset="0.392" stop-color="#0024ff"/><stop offset="0.452" stop-color="#0021ff"/><stop offset="0.511" stop-color="#001eff"/><stop offset="0.575" stop-color="#001aff"/><stop offset="0.640" stop-color="#0017ff"/><stop offset="0.699" stop-color="#0014ff"/><stop offset="0.758" stop-color="#0011ff"/><stop offset="0.817" stop-color="#000eff"/><stop offset="0.882" stop-color="#000aff"/><stop offset="0.941" stop-color="#0007ff"/><stop offset="1.000" stop-color="#0004ff"/></linearGradient><linearGradient id="d12" x2="0" y2="1"><stop offset="0.000" stop-color="#0040ff"/><stop offset="0.102" stop-color="#003aff"/><stop offset="0.194" stop-color="#0035ff"/><stop offset="0.269" stop-color="#0031ff"/><stop offset="0.333" stop-color="#002eff"/><stop offset="0.392" stop-color="#002aff"/><stop offset="0.452" stop-color="#0027ff"/><stop offset="0.511" stop-color="#0024ff"/><stop offset="0.575" stop-color="#0020ff"/><stop offset="0.640" stop-color="#001dff"/><stop offset="0.699" stop-color="#0019ff"/><stop offset="0.758" stop-color="#0017ff"/><stop offset="0.817" stop-color="#0015ff"/><stop offset="0.882" stop-color="#0011ff"/><stop offset="0.941" stop-color="#000dff"/><stop offset="1.000" stop-color="#0009ff"/></linearGradient><linearGradient id="d13" x2="0" y2="1"><stop offset="0.000" stop-color="#0047ff"/><stop offset="0.102" stop-color="#0041ff"/><stop offset="0.194" stop-color="#003cff"/><stop offset="0.269" stop-color="#0038ff"/><stop offset="0.333" stop-color="#0034ff"/><stop offset="0.392" stop-color="#0031ff"/><stop offset="0.452" stop-color="#002dff"/><stop offset="0.511" stop-color="#002aff"/><stop offset="0.575" stop-color="#0027ff"/><stop offset="0.640" stop-color="#0026ff"/><stop offset="0.699" stop-color="#0025ff"/><stop offset="0.758" stop-color="#0022ff"/><stop offset="0.817" stop-color="#001dff"/><stop offset="0.882" stop-color="#0018ff"/><stop offset="0.941" stop-color="#0013ff"/><stop offset="1.000" stop-color="#000fff"/></linearGradient><linearGradient id="d14" x2="0" y2="1"><stop offset="0.000" stop-color="#004dff"/><stop offset="0.102" stop-color="#0047ff"/><stop offset="0.194" stop-color="#0042ff"/><stop offset="0.269" stop-color="#003dff"/><stop offset="0.333" stop-color="#003aff"/><stop offset="0.392" stop-color="#0036ff"/><stop offset="0.452" stop-color="#0034ff"/><stop offset="0.511" stop-color="#0035ff"/><stop offset="0.575" stop-color="#0035ff"/><stop offset="0.640" stop-color="#0034ff"/><stop offset="0.699" stop-color="#0031ff"/><stop offset="0.758" stop-color="#002cff"/><stop offset="0.817" stop-color="#0025ff"/><stop offset="0.882" stop-color="#001eff"/><stop offset="0.941" stop-color="#0018ff"/><stop offset="1.000" stop-color="#0013ff"/></linearGradient><linearGradient id="d15" x2="0" y2="1"><stop offset="0.000" stop-color="#0050ff"/><stop offset="0.102" stop-color="#004aff"/><stop offset="0.194" stop-color="#0044ff"/><stop offset="0.269" stop-color="#0040ff"/><stop offset="0.333" stop-color="#003cff"/><stop offset="0.392" stop-color="#003aff"/><stop offset="0.452" stop-color="#003aff"/><stop offset="0.511" stop-color="#003bff"/><stop offset="0.575" stop-color="#003bff"/><stop offset="0.640" stop-color="#003aff"/><stop offset="0.699" stop-color="#0037ff"/><stop offset="0.758" stop-color="#0031ff"/><stop offset="0.817" stop-color="#0029ff"/><stop offset="0.882" stop-color="#0020ff"/><stop offset="0.941" stop-color="#001aff"/><stop offset="1.000" stop-color="#0015ff"/></linearGradient><linearGradient id="d16" x2="0" y2="1"><stop offset="0.000" stop-color="#0053ff"/><stop offset="0.102" stop-color="#004cff"/><stop offset="0.194" stop-color="#0047ff"/><stop offset="0.269" stop-color="#0042ff"/><stop offset="0.333" stop-color="#003fff"/><stop offset="0.392" stop-color="#003fff"/><stop offset="0.452" stop-color="#0040ff"/><stop offset="0.511" stop-color="#0041ff"/><stop offset="0.575" stop-color="#0042ff"/><stop offset="0.640" stop-color="#0041ff"/><stop offset="0.699" stop-color="#003cff"/><stop offset="0.758" stop-color="#0035ff"/><stop offset="0.817" stop-color="#002cff"/><stop offset="0.882" stop-color="#0023ff"/><stop offset="0.941" stop-color="#001cff"/><stop offset="1.000" stop-color="#0017ff"/></linearGradient><linearGradient id="d17" x2="0" y2="1"><stop offset="0.000" stop-color="#0055ff"/><stop offset="0.102" stop-color="#004fff"/><stop offset="0.194" stop-color="#0049ff"/><stop offset="0.269" stop-color="#0045ff"/><stop offset="0.333" stop-color="#0043ff"/><stop offset="0.392" stop-color="#0043ff"/><stop offset="0.452" stop-color="#0045ff"/><stop offset="0.511" stop-color="#0047ff"/><stop offset="0.575" stop-color="#0048ff"/><stop offset="0.640" stop-color="#0047ff"/><stop offset="0.699" stop-color="#0042ff"/><stop offset="0.758" stop-color="#003aff"/><stop offset="0.817" stop-color="#0030ff"/><stop offset="0.882" stop-color="#0026ff"/><stop offset="0.941" stop-color="#001eff"/><stop offset="1.000" stop-color="#0019ff"/></linearGradient><linearGradient id="d18" x2="0" y2="1"><stop offset="0.000" stop-color="#0058ff"/><stop offset="0.102" stop-color="#0051ff"/><stop offset="0.194" stop-color="#004cff"/><stop offset="0.269" stop-color="#0048ff"/><stop offset="0.333" stop-color="#0047ff"/><stop offset="0.392" stop-color="#0048ff"/><stop offset="0.452" stop-color="#004bff"/><stop offset="0.511" stop-color="#004eff"/><stop offset="0.575" stop-color="#004fff"/><stop offset="0.640" stop-color="#004dff"/><stop offset="0.699" stop-color="#0048ff"/><stop offset="0.758" stop-color="#003eff"/><stop offset="0.817" stop-color="#0033ff"/><stop offset="0.882" stop-color="#0028ff"/><stop offset="0.941" stop-color="#0020ff"/><stop offset="1.000" stop-color="#001aff"/></linearGradient><linearGradient id="d19" x2="0" y2="1"><stop offset="0.000" stop-color="#005bff"/><stop offset="0.102" stop-color="#0054ff"/><stop offset="0.194" stop-color="#004fff"/><stop offset="0.269" stop-color="#004bff"/><stop offset="0.333" stop-color="#004bff"/><stop offset="0.392" stop-color="#004dff"/><stop offset="0.452" stop-color="#0051ff"/><stop offset="0.511" stop-color="#0054ff"/><stop offset="0.575" stop-color="#0056ff"/><stop offset="0.640" stop-color="#0054ff"/><stop offset="0.699" stop-color="#004dff"/><stop offset="0.758" stop-color="#0043ff"/><stop offset="0.817" stop-color="#0037ff"/><stop offset="0.882" stop-color="#002bff"/><stop offset="0.941" stop-color="#0022ff"/><stop offset="1.000" stop-color="#001cff"/></linearGradient><linearGradient id="d20" x2="0" y2="1"><stop offset="0.000" stop-color="#005dff"/><stop offset="0.102" stop-color="#0057ff"/><stop offset="0.194" stop-color="#0051ff"/><stop offset="0.269" stop-color="#004fff"/><stop offset="0.333" stop-color="#004fff"/><stop offset="0.392" stop-color="#0052ff"/><stop offset="0.452" stop-color="#0057ff"/><stop offset="0.511" stop-color="#005bff"/><stop offset="0.575" stop-color="#005dff"/><stop offset="0.640" stop-color="#005aff"/><stop offset="0.699" stop-color="#0053ff"/><stop offset="0.758" stop-color="#0048ff"/><stop offset="0.817" stop-color="#003bff"/><stop offset="0.882" stop-color="#002eff"/><stop offset="0.941" stop-color="#0025ff"/><stop offset="1.000" stop-color="#001eff"/></linearGradient><linearGradient id="d21" x2="0" y2="1"><stop offset="0.000" stop-color="#0060ff"/><stop offset="0.102" stop-color="#0059ff"/><stop offset="0.194" stop-color="#0054ff"/><stop offset="0.269" stop-color="#0053ff"/><stop offset="0.333" stop-color="#0054ff"/><stop offset="0.392" stop-color="#0059ff"/><stop offset="0.452" stop-color="#005fff"/><stop offset="0.511" stop-color="#0065ff"/><stop offset="0.575" stop-color="#0067ff"/><stop offset="0.640" stop-color="#0064ff"/><stop offset="0.699" stop-color="#005cff"/><stop offset="0.758" stop-color="#004eff"/><stop offset="0.817" stop-color="#003fff"/><stop offset="0.882" stop-color="#0031ff"/><stop offset="0.941" stop-color="#0027ff"/><stop offset="1.000" stop-color="#0020ff"/></linearGradient><linearGradient id="d22" x2="0" y2="1"><stop offset="0.000" stop-color="#0061ff"/><stop offset="0.102" stop-color="#005bff"/><stop offset="0.194" stop-color="#0056ff"/><stop offset="0.269" stop-color="#0055ff"/><stop offset="0.333" stop-color="#0058ff"/><stop offset="0.392" stop-color="#005fff"/><stop offset="0.452" stop-color="#0067ff"/><stop offset="0.511" stop-color="#006eff"/><stop offset="0.575" stop-color="#0071ff"/><stop offset="0.640" stop-color="#006eff"/><stop offset="0.699" stop-color="#0064ff"/><stop offset="0.758" stop-color="#0054ff"/><stop offset="0.817" stop-color="#0043ff"/><stop offset="0.882" stop-color="#0033ff"/><stop offset="0.941" stop-color="#0028ff"/><stop offset="1.000" stop-color="#0021ff"/></linearGradient><linearGradient id="d23" x2="0" y2="1"><stop offset="0.000" stop-color="#0062ff"/><stop offset="0.102" stop-color="#005cff"/><stop offset="0.194" stop-color="#0057ff"/><stop offset="0.269" stop-color="#0057ff"/><stop offset="0.333" stop-color="#005bff"/><stop offset="0.392" stop-color="#0062ff"/><stop offset="0.452" stop-color="#006bff"/><stop offset="0.511" stop-color="#0073ff"/><stop offset="0.575" stop-color="#0076ff"/><stop offset="0.640" stop-color="#0073ff"/><stop offset="0.699" stop-color="#0068ff"/><stop offset="0.758" stop-color="#0057ff"/><stop offset="0.817" stop-color="#0045ff"/><stop offset="0.882" stop-color="#0034ff"/><stop offset="0.941" stop-color="#0029ff"/><stop offset="1.000" stop-color="#0021ff"/></linearGradient><linearGradient id="d24" x2="0" y2="1"><stop offset="0.000" stop-color="#0063ff"/><stop offset="0.102" stop-color="#005cff"/><stop offset="0.194" stop-color="#0058ff"/><stop offset="0.269" stop-color="#0058ff"/><stop offset="0.333" stop-color="#005dff"/><stop offset="0.392" stop-color="#0065ff"/><stop offset="0.452" stop-color="#0070ff"/><stop offset="0.511" stop-color="#0078ff"/><stop offset="0.575" stop-color="#007bff"/><stop offset="0.640" stop-color="#0078ff"/><stop offset="0.699" stop-color="#006cff"/><stop offset="0.758" stop-color="#005bff"/><stop offset="0.817" stop-color="#0047ff"/><stop offset="0.882" stop-color="#0036ff"/><stop offset="0.941" stop-color="#002aff"/><stop offset="1.000" stop-color="#0022ff"/></linearGradient><linearGradient id="d25" x2="0" y2="1"><stop offset="0.000" stop-color="#0064ff"/><stop offset="0.102" stop-color="#005dff"/><stop offset="0.194" stop-color="#0059ff"/><stop offset="0.269" stop-color="#005aff"/><stop offset="0.333" stop-color="#005fff"/><stop offset="0.392" stop-color="#0068ff"/><stop offset="0.452" stop-color="#0074ff"/><stop offset="0.511" stop-color="#007dff"/><stop offset="0.575" stop-color="#0080ff"/><stop offset="0.640" stop-color="#007cff"/><stop offset="0.699" stop-color="#0070ff"/><stop offset="0.758" stop-color="#005dff"/><stop offset="0.817" stop-color="#0049ff"/><stop offset="0.882" stop-color="#0037ff"/><stop offset="0.941" stop-color="#002aff"/><stop offset="1.000" stop-color="#0022ff"/></linearGradient><linearGradient id="d26" x2="0" y2="1"><stop offset="0.000" stop-color="#0065ff"/><stop offset="0.102" stop-color="#005eff"/><stop offset="0.194" stop-color="#005aff"/><stop offset="0.269" stop-color="#005bff"/><stop offset="0.333" stop-color="#0061ff"/><stop offset="0.392" stop-color="#006bff"/><stop offset="0.452" stop-color="#0076ff"/><stop offset="0.511" stop-color="#0080ff"/><stop offset="0.575" stop-color="#0083ff"/><stop offset="0.640" stop-color="#007fff"/><stop offset="0.699" stop-color="#0073ff"/><stop offset="0.758" stop-color="#0060ff"/><stop offset="0.817" stop-color="#004bff"/><stop offset="0.882" stop-color="#0038ff"/><stop offset="0.941" stop-color="#002bff"/><stop offset="1.000" stop-color="#0022ff"/></linearGradient><linearGradient id="d27" x2="0" y2="1"><stop offset="0.000" stop-color="#0065ff"/><stop offset="0.102" stop-color="#005fff"/><stop offset="0.194" stop-color="#005bff"/><stop offset="0.269" stop-color="#005cff"/><stop offset="0.333" stop-color="#0062ff"/><stop offset="0.392" stop-color="#006dff"/><stop offset="0.452" stop-color="#0079ff"/><stop offset="0.511" stop-color="#0083ff"/><stop offset="0.575" stop-color="#0087ff"/><stop offset="0.640" stop-color="#0083ff"/><stop offset="0.699" stop-color="#0075ff"/><stop offset="0.758" stop-color="#0062ff"/><stop offset="0.817" stop-color="#004cff"/><stop offset="0.882" stop-color="#0038ff"/><stop offset="0.941" stop-color="#002bff"/><stop offset="1.000" stop-color="#0023ff"/></linearGradient><linearGradient id="d28" x2="0" y2="1"><stop offset="0.000" stop-color="#0062ff"/><stop offset="0.102" stop-color="#005cff"/><stop offset="0.194" stop-color="#0058ff"/><stop offset="0.269" stop-color="#005aff"/><stop offset="0.333" stop-color="#0061ff"/><stop offset="0.392" stop-color="#006dff"/><stop offset="0.452" stop-color="#007aff"/><stop offset="0.511" stop-color="#0085ff"/><stop offset="0.575" stop-color="#0089ff"/><stop offset="0.640" stop-color="#0085ff"/><stop offset="0.699" stop-color="#0077ff"/><stop offset="0.758" stop-color="#0063ff"/><stop offset="0.817" stop-color="#004dff"/><stop offset="0.882" stop-color="#0039ff"/><stop offset="0.941" stop-color="#002cff"/><stop offset="1.000" stop-color="#0023ff"/></linearGradient><linearGradient id="d29" x2="0" y2="1"><stop offset="0.000" stop-color="#005fff"/><stop offset="0.102" stop-color="#0059ff"/><stop offset="0.194" stop-color="#0056ff"/><stop offset="0.269" stop-color="#0057ff"/><stop offset="0.333" stop-color="#005fff"/><stop offset="0.392" stop-color="#006aff"/><stop offset="0.452" stop-color="#0077ff"/><stop offset="0.511" stop-color="#0082ff"/><stop offset="0.575" stop-color="#0086ff"/><stop offset="0.640" stop-color="#0081ff"/><stop offset="0.699" stop-color="#0074ff"/><stop offset="0.758" stop-color="#0060ff"/><stop offset="0.817" stop-color="#004bff"/><stop offset="0.882" stop-color="#0038ff"/><stop offset="0.941" stop-color="#002bff"/><stop offset="1.000" stop-color="#0023ff"/></linearGradient><linearGradient id="d30" x2="0" y2="1"><stop offset="0.000" stop-color="#005cff"/><stop offset="0.102" stop-color="#0057ff"/><stop offset="0.194" stop-color="#0053ff"/><stop offset="0.269" stop-color="#0055ff"/><stop offset="0.333" stop-color="#005dff"/><stop offset="0.392" stop-color="#0068ff"/><stop offset="0.452" stop-color="#0075ff"/><stop offset="0.511" stop-color="#007fff"/><stop offset="0.575" stop-color="#0082ff"/><stop offset="0.640" stop-color="#007eff"/><stop offset="0.699" stop-color="#0071ff"/><stop offset="0.758" stop-color="#005eff"/><stop offset="0.817" stop-color="#004aff"/><stop offset="0.882" stop-color="#0037ff"/><stop offset="0.941" stop-color="#002bff"/><stop offset="1.000" stop-color="#0023ff"/></linearGradient><linearGradient id="d31" x2="0" y2="1"><stop offset="0.000" stop-color="#005fff"/><stop offset="0.102" stop-color="#0059ff"/><stop offset="0.194" stop-color="#0055ff"/><stop offset="0.269" stop-color="#0057ff"/><stop offset="0.333" stop-color="#005dff"/><stop offset="0.392" stop-color="#0068ff"/><stop offset="0.452" stop-color="#0074ff"/><stop offset="0.511" stop-color="#007dff"/><stop offset="0.575" stop-color="#0081ff"/><stop offset="0.640" stop-color="#007dff"/><stop offset="0.699" stop-color="#0070ff"/><stop offset="0.758" stop-color="#005eff"/><stop offset="0.817" stop-color="#004aff"/><stop offset="0.882" stop-color="#0037ff"/><stop offset="0.941" stop-color="#002bff"/><stop offset="1.000" stop-color="#0023ff"/></linearGradient><linearGradient id="d32" x2="0" y2="1"><stop offset="0.000" stop-color="#0061ff"/><stop offset="0.102" stop-color="#005bff"/><stop offset="0.194" stop-color="#0058ff"/><stop offset="0.269" stop-color="#005aff"/><stop offset="0.333" stop-color="#0062ff"/><stop offset="0.392" stop-color="#006eff"/><stop offset="0.452" stop-color="#007cff"/><stop offset="0.511" stop-color="#0087ff"/><stop offset="0.575" stop-color="#008bff"/><stop offset="0.640" stop-color="#0086ff"/><stop offset="0.699" stop-color="#0079ff"/><stop offset="0.758" stop-color="#0064ff"/><stop offset="0.817" stop-color="#004eff"/><stop offset="0.882" stop-color="#003aff"/><stop offset="0.941" stop-color="#002dff"/><stop offset="1.000" stop-color="#0024ff"/></linearGradient><linearGradient id="d33" x2="0" y2="1"><stop offset="0.000" stop-color="#0062ff"/><stop offset="0.102" stop-color="#005cff"/><stop offset="0.194" stop-color="#0059ff"/><stop offset="0.269" stop-color="#005dff"/><stop offset="0.333" stop-color="#0066ff"/><stop offset="0.392" stop-color="#0074ff"/><stop offset="0.452" stop-color="#0084ff"/><stop offset="0.511" stop-color="#0091ff"/><stop offset="0.575" stop-color="#0095ff"/><stop offset="0.640" stop-color="#0090ff"/><stop offset="0.699" stop-color="#0081ff"/><stop offset="0.758" stop-color="#006aff"/><stop offset="0.817" stop-color="#0052ff"/><stop offset="0.882" stop-color="#003cff"/><stop offset="0.941" stop-color="#002eff"/><stop offset="1.000" stop-color="#0025ff"/></linearGradient><linearGradient id="d34" x2="0" y2="1"><stop offset="0.000" stop-color="#0064ff"/><stop offset="0.102" stop-color="#005eff"/><stop offset="0.194" stop-color="#005bff"/><stop offset="0.269" stop-color="#005fff"/><stop offset="0.333" stop-color="#006aff"/><stop offset="0.392" stop-color="#007aff"/><stop offset="0.452" stop-color="#008cff"/><stop offset="0.511" stop-color="#009aff"/><stop offset="0.575" stop-color="#009fff"/><stop offset="0.640" stop-color="#0099ff"/><stop offset="0.699" stop-color="#0088ff"/><stop offset="0.758" stop-color="#0070ff"/><stop offset="0.817" stop-color="#0055ff"/><stop offset="0.882" stop-color="#003eff"/><stop offset="0.941" stop-color="#002fff"/><stop offset="1.000" stop-color="#0025ff"/></linearGradient><linearGradient id="d35" x2="0" y2="1"><stop offset="0.000" stop-color="#0065ff"/><stop offset="0.102" stop-color="#005fff"/><stop offset="0.194" stop-color="#005cff"/><stop offset="0.269" stop-color="#0061ff"/><stop offset="0.333" stop-color="#006dff"/><stop offset="0.392" stop-color="#007eff"/><stop offset="0.452" stop-color="#0091ff"/><stop offset="0.511" stop-color="#00a0ff"/><stop offset="0.575" stop-color="#00a6ff"/><stop offset="0.640" stop-color="#00a0ff"/><stop offset="0.699" stop-color="#008eff"/><stop offset="0.758" stop-color="#0074ff"/><stop offset="0.817" stop-color="#0058ff"/><stop offset="0.882" stop-color="#003fff"/><stop offset="0.941" stop-color="#002fff"/><stop offset="1.000" stop-color="#0025ff"/></linearGradient><linearGradient id="d36" x2="0" y2="1"><stop offset="0.000" stop-color="#0066ff"/><stop offset="0.102" stop-color="#0060ff"/><stop offset="0.194" stop-color="#005dff"/><stop offset="0.269" stop-color="#0063ff"/><stop offset="0.333" stop-color="#0070ff"/><stop offset="0.392" stop-color="#0082ff"/><stop offset="0.452" stop-color="#0097ff"/><stop offset="0.511" stop-color="#00a7ff"/><stop offset="0.575" stop-color="#00acff"/><stop offset="0.640" stop-color="#00a6ff"/><stop offset="0.699" stop-color="#0093ff"/><stop offset="0.758" stop-color="#0078ff"/><stop offset="0.817" stop-color="#005bff"/><stop offset="0.882" stop-color="#0040ff"/><stop offset="0.941" stop-color="#0030ff"/><stop offset="1.000" stop-color="#0026ff"/></linearGradient><linearGradient id="d37" x2="0" y2="1"><stop offset="0.000" stop-color="#0063ff"/><stop offset="0.102" stop-color="#005dff"/><stop offset="0.194" stop-color="#005cff"/><stop offset="0.269" stop-color="#0062ff"/><stop offset="0.333" stop-color="#0071ff"/><stop offset="0.392" stop-color="#0085ff"/><stop offset="0.452" stop-color="#009cff"/><stop offset="0.511" stop-color="#00adff"/><stop offset="0.575" stop-color="#00b3ff"/><stop offset="0.640" stop-color="#00acff"/><stop offset="0.699" stop-color="#0098ff"/><stop offset="0.758" stop-color="#007bff"/><stop offset="0.817" stop-color="#005dff"/><stop offset="0.882" stop-color="#0041ff"/><stop offset="0.941" stop-color="#0031ff"/><stop offset="1.000" stop-color="#0026ff"/></linearGradient><linearGradient id="d38" x2="0" y2="1"><stop offset="0.000" stop-color="#0061ff"/><stop offset="0.102" stop-color="#005bff"/><stop offset="0.194" stop-color="#005aff"/><stop offset="0.269" stop-color="#0061ff"/><stop offset="0.333" stop-color="#0071ff"/><stop offset="0.392" stop-color="#0087ff"/><stop offset="0.452" stop-color="#009eff"/><stop offset="0.511" stop-color="#00b0ff"/><stop offset="0.575" stop-color="#00b6ff"/><stop offset="0.640" stop-color="#00afff"/><stop offset="0.699" stop-color="#009bff"/><stop offset="0.758" stop-color="#007dff"/><stop offset="0.817" stop-color="#005eff"/><stop offset="0.882" stop-color="#0042ff"/><stop offset="0.941" stop-color="#0031ff"/><stop offset="1.000" stop-color="#0027ff"/></linearGradient><linearGradient id="d39" x2="0" y2="1"><stop offset="0.000" stop-color="#005eff"/><stop offset="0.102" stop-color="#0059ff"/><stop offset="0.194" stop-color="#0059ff"/><stop offset="0.269" stop-color="#0061ff"/><stop offset="0.333" stop-color="#0071ff"/><stop offset="0.392" stop-color="#0088ff"/><stop offset="0.452" stop-color="#00a0ff"/><stop offset="0.511" stop-color="#00b3ff"/><stop offset="0.575" stop-color="#00baff"/><stop offset="0.640" stop-color="#00b2ff"/><stop offset="0.699" stop-color="#009dff"/><stop offset="0.758" stop-color="#007fff"/><stop offset="0.817" stop-color="#005fff"/><stop offset="0.882" stop-color="#0042ff"/><stop offset="0.941" stop-color="#0031ff"/><stop offset="1.000" stop-color="#0027ff"/></linearGradient><linearGradient id="d40" x2="0" y2="1"><stop offset="0.000" stop-color="#005cff"/><stop offset="0.102" stop-color="#0057ff"/><stop offset="0.194" stop-color="#0057ff"/><stop offset="0.269" stop-color="#0060ff"/><stop offset="0.333" stop-color="#0071ff"/><stop offset="0.392" stop-color="#0089ff"/><stop offset="0.452" stop-color="#00a2ff"/><stop offset="0.511" stop-color="#00b5ff"/><stop offset="0.575" stop-color="#00bcff"/><stop offset="0.640" stop-color="#00b5ff"/><stop offset="0.699" stop-color="#009fff"/><stop offset="0.758" stop-color="#0080ff"/><stop offset="0.817" stop-color="#005fff"/><stop offset="0.882" stop-color="#0043ff"/><stop offset="0.941" stop-color="#0032ff"/><stop offset="1.000" stop-color="#0027ff"/></linearGradient><linearGradient id="d41" x2="0" y2="1"><stop offset="0.000" stop-color="#005cff"/><stop offset="0.102" stop-color="#0057ff"/><stop offset="0.194" stop-color="#0057ff"/><stop offset="0.269" stop-color="#005fff"/><stop offset="0.333" stop-color="#0070ff"/><stop offset="0.392" stop-color="#0086ff"/><stop offset="0.452" stop-color="#009eff"/><stop offset="0.511" stop-color="#00b0ff"/><stop offset="0.575" stop-color="#00b7ff"/><stop offset="0.640" stop-color="#00b0ff"/><stop offset="0.699" stop-color="#009bff"/><stop offset="0.758" stop-color="#007dff"/><stop offset="0.817" stop-color="#005eff"/><stop offset="0.882" stop-color="#0042ff"/><stop offset="0.941" stop-color="#0031ff"/><stop offset="1.000" stop-color="#0027ff"/></linearGradient><linearGradient id="d42" x2="0" y2="1"><stop offset="0.000" stop-color="#005cff"/><stop offset="0.102" stop-color="#0057ff"/><stop offset="0.194" stop-color="#0057ff"/><stop offset="0.269" stop-color="#005eff"/><stop offset="0.333" stop-color="#006eff"/><stop offset="0.392" stop-color="#0084ff"/><stop offset="0.452" stop-color="#009bff"/><stop offset="0.511" stop-color="#00acff"/><stop offset="0.575" stop-color="#00b3ff"/><stop offset="0.640" stop-color="#00acff"/><stop offset="0.699" stop-color="#0098ff"/><stop offset="0.758" stop-color="#007bff"/><stop offset="0.817" stop-color="#005cff"/><stop offset="0.882" stop-color="#0042ff"/><stop offset="0.941" stop-color="#0031ff"/><stop offset="1.000" stop-color="#0028ff"/></linearGradient><linearGradient id="d43" x2="0" y2="1"><stop offset="0.000" stop-color="#005cff"/><stop offset="0.102" stop-color="#0057ff"/><stop offset="0.194" stop-color="#0057ff"/><stop offset="0.269" stop-color="#005fff"/><stop offset="0.333" stop-color="#006fff"/><stop offset="0.392" stop-color="#0086ff"/><stop offset="0.452" stop-color="#009dff"/><stop offset="0.511" stop-color="#00b0ff"/><stop offset="0.575" stop-color="#00b6ff"/><stop offset="0.640" stop-color="#00afff"/><stop offset="0.699" stop-color="#009bff"/><stop offset="0.758" stop-color="#007dff"/><stop offset="0.817" stop-color="#005eff"/><stop offset="0.882" stop-color="#0042ff"/><stop offset="0.941" stop-color="#0032ff"/><stop offset="1.000" stop-color="#0028ff"/></linearGradient><linearGradient id="d44" x2="0" y2="1"><stop offset="0.000" stop-color="#005cff"/><stop offset="0.102" stop-color="#0057ff"/><stop offset="0.194" stop-color="#0057ff"/><stop offset="0.269" stop-color="#005fff"/><stop offset="0.333" stop-color="#0070ff"/><stop offset="0.392" stop-color="#0087ff"/><stop offset="0.452" stop-color="#00a0ff"/><stop offset="0.511" stop-color="#00b3ff"/><stop offset="0.575" stop-color="#00baff"/><stop offset="0.640" stop-color="#00b2ff"/><stop offset="0.699" stop-color="#009dff"/><stop offset="0.758" stop-color="#007fff"/><stop offset="0.817" stop-color="#005fff"/><stop offset="0.882" stop-color="#0043ff"/><stop offset="0.941" stop-color="#0032ff"/><stop offset="1.000" stop-color="#0028ff"/></linearGradient><linearGradient id="d45" x2="0" y2="1"><stop offset="0.000" stop-color="#005bff"/><stop offset="0.102" stop-color="#0056ff"/><stop offset="0.194" stop-color="#0056ff"/><stop offset="0.269" stop-color="#005fff"/><stop offset="0.333" stop-color="#0071ff"/><stop offset="0.392" stop-color="#0089ff"/><stop offset="0.452" stop-color="#00a3ff"/><stop offset="0.511" stop-color="#00b6ff"/><stop offset="0.575" stop-color="#00bdff"/><stop offset="0.640" stop-color="#00b6ff"/><stop offset="0.699" stop-color="#00a0ff"/><stop offset="0.758" stop-color="#0081ff"/><stop offset="0.817" stop-color="#0060ff"/><stop offset="0.882" stop-color="#0044ff"/><stop offset="0.941" stop-color="#0033ff"/><stop offset="1.000" stop-color="#0029ff"/></linearGradient><linearGradient id="d46" x2="0" y2="1"><stop offset="0.000" stop-color="#0059ff"/><stop offset="0.102" stop-color="#0055ff"/><stop offset="0.194" stop-color="#0056ff"/><stop offset="0.269" stop-color="#0060ff"/><stop offset="0.333" stop-color="#0073ff"/><stop offset="0.392" stop-color="#008dff"/><stop offset="0.452" stop-color="#00a8ff"/><stop offset="0.511" stop-color="#00bcff"/><stop offset="0.575" stop-color="#00c4ff"/><stop offset="0.640" stop-color="#00bcff"/><stop offset="0.699" stop-color="#00a5ff"/><stop offset="0.758" stop-color="#0084ff"/><stop offset="0.817" stop-color="#0063ff"/><stop offset="0.882" stop-color="#0045ff"/><stop offset="0.941" stop-color="#0033ff"/><stop offset="1.000" stop-color="#0029ff"/></linearGradient><linearGradient id="d47" x2="0" y2="1"><stop offset="0.000" stop-color="#0058ff"/><stop offset="0.102" stop-color="#0054ff"/><stop offset="0.194" stop-color="#0055ff"/><stop offset="0.269" stop-color="#0060ff"/><stop offset="0.333" stop-color="#0075ff"/><stop offset="0.392" stop-color="#0090ff"/><stop offset="0.452" stop-color="#00adff"/><stop offset="0.511" stop-color="#00c3ff"/><stop offset="0.575" stop-color="#00cbff"/><stop offset="0.640" stop-color="#00c2ff"/><stop offset="0.699" stop-color="#00abff"/><stop offset="0.758" stop-color="#0088ff"/><stop offset="0.817" stop-color="#0065ff"/><stop offset="0.882" stop-color="#0046ff"/><stop offset="0.941" stop-color="#0034ff"/><stop offset="1.000" stop-color="#0029ff"/></linearGradient><linearGradient id="d48" x2="0" y2="1"><stop offset="0.000" stop-color="#0057ff"/><stop offset="0.102" stop-color="#0053ff"/><stop offset="0.194" stop-color="#0055ff"/><stop offset="0.269" stop-color="#0061ff"/><stop offset="0.333" stop-color="#0077ff"/><stop offset="0.392" stop-color="#0094ff"/><stop offset="0.452" stop-color="#00b3ff"/><stop offset="0.511" stop-color="#00c9ff"/><stop offset="0.575" stop-color="#00d2ff"/><stop offset="0.640" stop-color="#00c9ff"/><stop offset="0.699" stop-color="#00b0ff"/><stop offset="0.758" stop-color="#008cff"/><stop offset="0.817" stop-color="#0067ff"/><stop offset="0.882" stop-color="#0048ff"/><stop offset="0.941" stop-color="#0035ff"/><stop offset="1.000" stop-color="#002aff"/></linearGradient><linearGradient id="d49" x2="0" y2="1"><stop offset="0.000" stop-color="#0055ff"/><stop offset="0.102" stop-color="#0052ff"/><stop offset="0.194" stop-color="#0054ff"/><stop offset="0.269" stop-color="#0062ff"/><stop offset="0.333" stop-color="#007bff"/><stop offset="0.392" stop-color="#009bff"/><stop offset="0.452" stop-color="#00bdff"/><stop offset="0.511" stop-color="#00d6ff"/><stop offset="0.575" stop-color="#00dfff"/><stop offset="0.640" stop-color="#00d6ff"/><stop offset="0.699" stop-color="#00bbff"/><stop offset="0.758" stop-color="#0094ff"/><stop offset="0.817" stop-color="#006cff"/><stop offset="0.882" stop-color="#004aff"/><stop offset="0.941" stop-color="#0036ff"/><stop offset="1.000" stop-color="#002aff"/></linearGradient><linearGradient id="d50" x2="0" y2="1"><stop offset="0.000" stop-color="#0053ff"/><stop offset="0.102" stop-color="#0050ff"/><stop offset="0.194" stop-color="#0054ff"/><stop offset="0.269" stop-color="#0063ff"/><stop offset="0.333" stop-color="#007fff"/><stop offset="0.392" stop-color="#00a3ff"/><stop offset="0.452" stop-color="#00c8ff"/><stop offset="0.511" stop-color="#00e3ff"/><stop offset="0.575" stop-color="#00edff"/><stop offset="0.640" stop-color="#00e3ff"/><stop offset="0.699" stop-color="#00c5ff"/><stop offset="0.758" stop-color="#009bff"/><stop offset="0.817" stop-color="#0071ff"/><stop offset="0.882" stop-color="#004cff"/><stop offset="0.941" stop-color="#0037ff"/><stop offset="1.000" stop-color="#002bff"/></linearGradient><linearGradient id="d51" x2="0" y2="1"><stop offset="0.000" stop-color="#0052ff"/><stop offset="0.102" stop-color="#004fff"/><stop offset="0.194" stop-color="#0053ff"/><stop offset="0.269" stop-color="#0065ff"/><stop offset="0.333" stop-color="#0083ff"/><stop offset="0.392" stop-color="#00aaff"/><stop offset="0.452" stop-color="#00d2ff"/><stop offset="0.511" stop-color="#00efff"/><stop offset="0.575" stop-color="#00faff"/><stop offset="0.640" stop-color="#00efff"/><stop offset="0.699" stop-color="#00d0ff"/><stop offset="0.758" stop-color="#00a3ff"/><stop offset="0.817" stop-color="#0075ff"/><stop offset="0.882" stop-color="#004eff"/><stop offset="0.941" stop-color="#0038ff"/><stop offset="1.000" stop-color="#002cff"/></linearGradient><linearGradient id="d52" x2="0" y2="1"><stop offset="0.000" stop-color="#0050ff"/><stop offset="0.102" stop-color="#004dff"/><stop offset="0.194" stop-color="#0052ff"/><stop offset="0.269" stop-color="#0065ff"/><stop offset="0.333" stop-color="#0084ff"/><stop offset="0.392" stop-color="#00acff"/><stop offset="0.452" stop-color="#00d6ff"/><stop offset="0.511" stop-color="#00f4ff"/><stop offset="0.575" stop-color="#00ffff"/><stop offset="0.640" stop-color="#00f4ff"/><stop offset="0.699" stop-color="#00d3ff"/><stop offset="0.758" stop-color="#00a6ff"/><stop offset="0.817" stop-color="#0077ff"/><stop offset="0.882" stop-color="#004fff"/><stop offset="0.941" stop-color="#0039ff"/><stop offset="1.000" stop-color="#002cff"/></linearGradient><linearGradient id="d53" x2="0" y2="1"><stop offset="0.000" stop-color="#004eff"/><stop offset="0.102" stop-color="#004cff"/><stop offset="0.194" stop-color="#0051ff"/><stop offset="0.269" stop-color="#0064ff"/><stop offset="0.333" stop-color="#0085ff"/><stop offset="0.392" stop-color="#00afff"/><stop offset="0.452" stop-color="#00daff"/><stop offset="0.511" stop-color="#00f9ff"/><stop offset="0.575" stop-color="#05fffa"/><stop offset="0.640" stop-color="#00f9ff"/><stop offset="0.699" stop-color="#00d7ff"/><stop offset="0.758" stop-color="#00a8ff"/><stop offset="0.817" stop-color="#0079ff"/><stop offset="0.882" stop-color="#0050ff"/><stop offset="0.941" stop-color="#0039ff"/><stop offset="1.000" stop-color="#002cff"/></linearGradient><linearGradient id="d54" x2="0" y2="1"><stop offset="0.000" stop-color="#004dff"/><stop offset="0.102" stop-color="#004bff"/><stop offset="0.194" stop-color="#0050ff"/><stop offset="0.269" stop-color="#0064ff"/><stop offset="0.333" stop-color="#0086ff"/><stop offset="0.392" stop-color="#00b1ff"/><stop offset="0.452" stop-color="#00ddff"/><stop offset="0.511" stop-color="#00feff"/><stop offset="0.575" stop-color="#0afff5"/><stop offset="0.640" stop-color="#00fdff"/><stop offset="0.699" stop-color="#00dbff"/><stop offset="0.758" stop-color="#00abff"/><stop offset="0.817" stop-color="#007aff"/><stop offset="0.882" stop-color="#0051ff"/><stop offset="0.941" stop-color="#003aff"/><stop offset="1.000" stop-color="#002dff"/></linearGradient><linearGradient id="d55" x2="0" y2="1"><stop offset="0.000" stop-color="#0049ff"/><stop offset="0.102" stop-color="#0048ff"/><stop offset="0.194" stop-color="#004eff"/><stop offset="0.269" stop-color="#0062ff"/><stop offset="0.333" stop-color="#0084ff"/><stop offset="0.392" stop-color="#00aeff"/><stop offset="0.452" stop-color="#00daff"/><stop offset="0.511" stop-color="#00faff"/><stop offset="0.575" stop-color="#07fff8"/><stop offset="0.640" stop-color="#00faff"/><stop offset="0.699" stop-color="#00d8ff"/><stop offset="0.758" stop-color="#00a9ff"/><stop offset="0.817" stop-color="#0079ff"/><stop offset="0.882" stop-color="#0050ff"/><stop offset="0.941" stop-color="#0039ff"/><stop offset="1.000" stop-color="#002dff"/></linearGradient><linearGradient id="d56" x2="0" y2="1"><stop offset="0.000" stop-color="#0046ff"/><stop offset="0.102" stop-color="#0045ff"/><stop offset="0.194" stop-color="#004bff"/><stop offset="0.269" stop-color="#005fff"/><stop offset="0.333" stop-color="#0081ff"/><stop offset="0.392" stop-color="#00acff"/><stop offset="0.452" stop-color="#00d7ff"/><stop offset="0.511" stop-color="#00f7ff"/><stop offset="0.575" stop-color="#03fffc"/><stop offset="0.640" stop-color="#00f7ff"/><stop offset="0.699" stop-color="#00d6ff"/><stop offset="0.758" stop-color="#00a7ff"/><stop offset="0.817" stop-color="#0078ff"/><stop offset="0.882" stop-color="#0050ff"/><stop offset="0.941" stop-color="#0039ff"/><stop offset="1.000" stop-color="#002dff"/></linearGradient><linearGradient id="d57" x2="0" y2="1"><stop offset="0.000" stop-color="#0043ff"/><stop offset="0.102" stop-color="#0042ff"/><stop offset="0.194" stop-color="#0048ff"/><stop offset="0.269" stop-color="#005dff"/><stop offset="0.333" stop-color="#007fff"/><stop offset="0.392" stop-color="#00a9ff"/><stop offset="0.452" stop-color="#00d4ff"/><stop offset="0.511" stop-color="#00f4ff"/><stop offset="0.575" stop-color="#00ffff"/><stop offset="0.640" stop-color="#00f4ff"/><stop offset="0.699" stop-color="#00d3ff"/><stop offset="0.758" stop-color="#00a5ff"/><stop offset="0.817" stop-color="#0076ff"/><stop offset="0.882" stop-color="#004fff"/><stop offset="0.941" stop-color="#0039ff"/><stop offset="1.000" stop-color="#002dff"/></linearGradient><linearGradient id="d58" x2="0" y2="1"><stop offset="0.000" stop-color="#003fff"/><stop offset="0.102" stop-color="#003fff"/><stop offset="0.194" stop-color="#0046ff"/><stop offset="0.269" stop-color="#005aff"/><stop offset="0.333" stop-color="#007cff"/><stop offset="0.392" stop-color="#00a7ff"/><stop offset="0.452" stop-color="#00d2ff"/><stop offset="0.511" stop-color="#00f1ff"/><stop offset="0.575" stop-color="#00fcff"/><stop offset="0.640" stop-color="#00f1ff"/><stop offset="0.699" stop-color="#00d1ff"/><stop offset="0.758" stop-color="#00a3ff"/><stop offset="0.817" stop-color="#0075ff"/><stop offset="0.882" stop-color="#004eff"/><stop offset="0.941" stop-color="#0039ff"/><stop offset="1.000" stop-color="#002dff"/></linearGradient><linearGradient id="d59" x2="0" y2="1"><stop offset="0.000" stop-color="#003cff"/><stop offset="0.102" stop-color="#003cff"/><stop offset="0.194" stop-color="#0043ff"/><stop offset="0.269" stop-color="#0058ff"/><stop offset="0.333" stop-color="#007aff"/><stop offset="0.392" stop-color="#00a4ff"/><stop offset="0.452" stop-color="#00cfff"/><stop offset="0.511" stop-color="#00efff"/><stop offset="0.575" stop-color="#00faff"/><stop offset="0.640" stop-color="#00efff"/><stop offset="0.699" stop-color="#00ceff"/><stop offset="0.758" stop-color="#00a1ff"/><stop offset="0.817" stop-color="#0074ff"/><stop offset="0.882" stop-color="#004eff"/><stop offset="0.941" stop-color="#0039ff"/><stop offset="1.000" stop-color="#002eff"/></linearGradient><linearGradient id="d60" x2="0" y2="1"><stop offset="0.000" stop-color="#0038ff"/><stop offset="0.102" stop-color="#0039ff"/><stop offset="0.194" stop-color="#0041ff"/><stop offset="0.269" stop-color="#0059ff"/><stop offset="0.333" stop-color="#007fff"/><stop offset="0.392" stop-color="#00afff"/><stop offset="0.452" stop-color="#00dfff"/><stop offset="0.511" stop-color="#02fffd"/><stop offset="0.575" stop-color="#0ffff0"/><stop offset="0.640" stop-color="#02fffd"/><stop offset="0.699" stop-color="#00deff"/><stop offset="0.758" stop-color="#00acff"/><stop offset="0.817" stop-color="#007aff"/><stop offset="0.882" stop-color="#0051ff"/><stop offset="0.941" stop-color="#003aff"/><stop offset="1.000" stop-color="#002eff"/></linearGradient><linearGradient id="d61" x2="0" y2="1"><stop offset="0.000" stop-color="#0036ff"/><stop offset="0.102" stop-color="#0037ff"/><stop offset="0.194" stop-color="#0041ff"/><stop offset="0.269" stop-color="#005bff"/><stop offset="0.333" stop-color="#0085ff"/><stop offset="0.392" stop-color="#00b9ff"/><stop offset="0.452" stop-color="#00eeff"/><stop offset="0.511" stop-color="#15ffea"/><stop offset="0.575" stop-color="#23ffdc"/><stop offset="0.640" stop-color="#15ffea"/><stop offset="0.699" stop-color="#00eeff"/><stop offset="0.758" stop-color="#00b7ff"/><stop offset="0.817" stop-color="#0081ff"/><stop offset="0.882" stop-color="#0054ff"/><stop offset="0.941" stop-color="#003cff"/><stop offset="1.000" stop-color="#002fff"/></linearGradient><linearGradient id="d62" x2="0" y2="1"><stop offset="0.000" stop-color="#0033ff"/><stop offset="0.102" stop-color="#0035ff"/><stop offset="0.194" stop-color="#0040ff"/><stop offset="0.269" stop-color="#005dff"/><stop offset="0.333" stop-color="#008bff"/><stop offset="0.392" stop-color="#00c4ff"/><stop offset="0.452" stop-color="#00feff"/><stop offset="0.511" stop-color="#29ffd6"/><stop offset="0.575" stop-color="#37ffc8"/><stop offset="0.640" stop-color="#28ffd7"/><stop offset="0.699" stop-color="#00fdff"/><stop offset="0.758" stop-color="#00c3ff"/><stop offset="0.817" stop-color="#0088ff"/><stop offset="0.882" stop-color="#0058ff"/><stop offset="0.941" stop-color="#003dff"/><stop offset="1.000" stop-color="#0030ff"/></linearGradient><linearGradient id="d63" x2="0" y2="1"><stop offset="0.000" stop-color="#0031ff"/><stop offset="0.102" stop-color="#0032ff"/><stop offset="0.194" stop-color="#003eff"/><stop offset="0.269" stop-color="#005cff"/><stop offset="0.333" stop-color="#008cff"/><stop offset="0.392" stop-color="#00c6ff"/><stop offset="0.452" stop-color="#01fffe"/><stop offset="0.511" stop-color="#2cffd3"/><stop offset="0.575" stop-color="#3bffc4"/><stop offset="0.640" stop-color="#2bffd4"/><stop offset="0.699" stop-color="#01fffe"/><stop offset="0.758" stop-color="#00c4ff"/><stop offset="0.817" stop-color="#0089ff"/><stop offset="0.882" stop-color="#0058ff"/><stop offset="0.941" stop-color="#003dff"/><stop offset="1.000" stop-color="#0030ff"/></linearGradient><linearGradient id="d64" x2="0" y2="1"><stop offset="0.000" stop-color="#002eff"/><stop offset="0.102" stop-color="#0030ff"/><stop offset="0.194" stop-color="#003cff"/><stop offset="0.269" stop-color="#005bff"/><stop offset="0.333" stop-color="#008bff"/><stop offset="0.392" stop-color="#00c6ff"/><stop offset="0.452" stop-color="#03fffc"/><stop offset="0.511" stop-color="#2effd1"/><stop offset="0.575" stop-color="#3dffc2"/><stop offset="0.640" stop-color="#2effd1"/><stop offset="0.699" stop-color="#03fffc"/><stop offset="0.758" stop-color="#00c5ff"/><stop offset="0.817" stop-color="#008aff"/><stop offset="0.882" stop-color="#0058ff"/><stop offset="0.941" stop-color="#003dff"/><stop offset="1.000" stop-color="#0030ff"/></linearGradient><linearGradient id="d65" x2="0" y2="1"><stop offset="0.000" stop-color="#002fff"/><stop offset="0.102" stop-color="#0031ff"/><stop offset="0.194" stop-color="#003dff"/><stop offset="0.269" stop-color="#005cff"/><stop offset="0.333" stop-color="#008cff"/><stop offset="0.392" stop-color="#00c8ff"/><stop offset="0.452" stop-color="#05fffa"/><stop offset="0.511" stop-color="#30ffcf"/><stop offset="0.575" stop-color="#40ffbf"/><stop offset="0.640" stop-color="#30ffcf"/><stop offset="0.699" stop-color="#05fffa"/><stop offset="0.758" stop-color="#00c7ff"/><stop offset="0.817" stop-color="#008bff"/><stop offset="0.882" stop-color="#0059ff"/><stop offset="0.941" stop-color="#003eff"/><stop offset="1.000" stop-color="#0030ff"/></linearGradient><linearGradient id="d66" x2="0" y2="1"><stop offset="0.000" stop-color="#002fff"/><stop offset="0.102" stop-color="#0031ff"/><stop offset="0.194" stop-color="#003eff"/><stop offset="0.269" stop-color="#005dff"/><stop offset="0.333" stop-color="#008eff"/><stop offset="0.392" stop-color="#00c9ff"/><stop offset="0.452" stop-color="#07fff8"/><stop offset="0.511" stop-color="#33ffcc"/><stop offset="0.575" stop-color="#42ffbd"/><stop offset="0.640" stop-color="#33ffcc"/><stop offset="0.699" stop-color="#07fff8"/><stop offset="0.758" stop-color="#00c8ff"/><stop offset="0.817" stop-color="#008cff"/><stop offset="0.882" stop-color="#0059ff"/><stop offset="0.941" stop-color="#003eff"/><stop offset="1.000" stop-color="#0030ff"/></linearGradient><linearGradient id="d67" x2="0" y2="1"><stop offset="0.000" stop-color="#0030ff"/><stop offset="0.102" stop-color="#0032ff"/><stop offset="0.194" stop-color="#003eff"/><stop offset="0.269" stop-color="#005dff"/><stop offset="0.333" stop-color="#008fff"/><stop offset="0.392" stop-color="#00cbff"/><stop offset="0.452" stop-color="#09fff6"/><stop offset="0.511" stop-color="#35ffca"/><stop offset="0.575" stop-color="#45ffba"/><stop offset="0.640" stop-color="#35ffca"/><stop offset="0.699" stop-color="#09fff6"/><stop offset="0.758" stop-color="#00caff"/><stop offset="0.817" stop-color="#008dff"/><stop offset="0.882" stop-color="#005aff"/><stop offset="0.941" stop-color="#003eff"/><stop offset="1.000" stop-color="#0030ff"/></linearGradient><linearGradient id="d68" x2="0" y2="1"><stop offset="0.000" stop-color="#0031ff"/><stop offset="0.102" stop-color="#0032ff"/><stop offset="0.194" stop-color="#003fff"/><stop offset="0.269" stop-color="#005eff"/><stop offset="0.333" stop-color="#0090ff"/><stop offset="0.392" stop-color="#00cdff"/><stop offset="0.452" stop-color="#0bfff4"/><stop offset="0.511" stop-color="#38ffc7"/><stop offset="0.575" stop-color="#47ffb8"/><stop offset="0.640" stop-color="#37ffc8"/><stop offset="0.699" stop-color="#0bfff4"/><stop offset="0.758" stop-color="#00cbff"/><stop offset="0.817" stop-color="#008eff"/><stop offset="0.882" stop-color="#005aff"/><stop offset="0.941" stop-color="#003eff"/><stop offset="1.000" stop-color="#0030ff"/></linearGradient><linearGradient id="d69" x2="0" y2="1"><stop offset="0.000" stop-color="#0031ff"/><stop offset="0.102" stop-color="#0033ff"/><stop offset="0.194" stop-color="#003fff"/><stop offset="0.269" stop-color="#005fff"/><stop offset="0.333" stop-color="#0091ff"/><stop offset="0.392" stop-color="#00ceff"/><stop offset="0.452" stop-color="#0dfff2"/><stop offset="0.511" stop-color="#3affc5"/><stop offset="0.575" stop-color="#4affb5"/><stop offset="0.640" stop-color="#3affc5"/><stop offset="0.699" stop-color="#0dfff2"/><stop offset="0.758" stop-color="#00cdff"/><stop offset="0.817" stop-color="#008eff"/><stop offset="0.882" stop-color="#005bff"/><stop offset="0.941" stop-color="#003fff"/><stop offset="1.000" stop-color="#0030ff"/></linearGradient><linearGradient id="d70" x2="0" y2="1"><stop offset="0.000" stop-color="#0032ff"/><stop offset="0.102" stop-color="#0034ff"/><stop offset="0.194" stop-color="#0040ff"/><stop offset="0.269" stop-color="#0060ff"/><stop offset="0.333" stop-color="#0092ff"/><stop offset="0.392" stop-color="#00d0ff"/><stop offset="0.452" stop-color="#0ffff0"/><stop offset="0.511" stop-color="#3cffc3"/><stop offset="0.575" stop-color="#4cffb3"/><stop offset="0.640" stop-color="#3cffc3"/><stop offset="0.699" stop-color="#0ffff0"/><stop offset="0.758" stop-color="#00ceff"/><stop offset="0.817" stop-color="#008fff"/><stop offset="0.882" stop-color="#005bff"/><stop offset="0.941" stop-color="#003fff"/><stop offset="1.000" stop-color="#0031ff"/></linearGradient><linearGradient id="d71" x2="0" y2="1"><stop offset="0.000" stop-color="#0033ff"/><stop offset="0.102" stop-color="#0034ff"/><stop offset="0.194" stop-color="#0041ff"/><stop offset="0.269" stop-color="#0060ff"/><stop offset="0.333" stop-color="#0093ff"/><stop offset="0.392" stop-color="#00d0ff"/><stop offset="0.452" stop-color="#10ffef"/><stop offset="0.511" stop-color="#3dffc2"/><stop offset="0.575" stop-color="#4dffb2"/><stop offset="0.640" stop-color="#3cffc3"/><stop offset="0.699" stop-color="#0ffff0"/><stop offset="0.758" stop-color="#00cfff"/><stop offset="0.817" stop-color="#0090ff"/><stop offset="0.882" stop-color="#005bff"/><stop offset="0.941" stop-color="#003fff"/><stop offset="1.000" stop-color="#0031ff"/></linearGradient><linearGradient id="d72" x2="0" y2="1"><stop offset="0.000" stop-color="#0033ff"/><stop offset="0.102" stop-color="#0035ff"/><stop offset="0.194" stop-color="#0041ff"/><stop offset="0.269" stop-color="#0061ff"/><stop offset="0.333" stop-color="#0093ff"/><stop offset="0.392" stop-color="#00d0ff"/><stop offset="0.452" stop-color="#10ffef"/><stop offset="0.511" stop-color="#3dffc2"/><stop offset="0.575" stop-color="#4dffb2"/><stop offset="0.640" stop-color="#3cffc3"/><stop offset="0.699" stop-color="#0ffff0"/><stop offset="0.758" stop-color="#00cfff"/><stop offset="0.817" stop-color="#0090ff"/><stop offset="0.882" stop-color="#005bff"/><stop offset="0.941" stop-color="#003fff"/><stop offset="1.000" stop-color="#0031ff"/></linearGradient><linearGradient id="d73" x2="0" y2="1"><stop offset="0.000" stop-color="#0032ff"/><stop offset="0.102" stop-color="#0034ff"/><stop offset="0.194" stop-color="#0041ff"/><stop offset="0.269" stop-color="#0060ff"/><stop offset="0.333" stop-color="#0093ff"/><stop offset="0.392" stop-color="#00d0ff"/><stop offset="0.452" stop-color="#10ffef"/><stop offset="0.511" stop-color="#3dffc2"/><stop offset="0.575" stop-color="#4cffb3"/><stop offset="0.640" stop-color="#3cffc3"/><stop offset="0.699" stop-color="#0ffff0"/><stop offset="0.758" stop-color="#00cfff"/><stop offset="0.817" stop-color="#0090ff"/><stop offset="0.882" stop-color="#005bff"/><stop offset="0.941" stop-color="#003fff"/><stop offset="1.000" stop-color="#0031ff"/></linearGradient><linearGradient id="d74" x2="0" y2="1"><stop offset="0.000" stop-color="#0032ff"/><stop offset="0.102" stop-color="#0033ff"/><stop offset="0.194" stop-color="#0040ff"/><stop offset="0.269" stop-color="#0060ff"/><stop offset="0.333" stop-color="#0092ff"/><stop offset="0.392" stop-color="#00d0ff"/><stop offset="0.452" stop-color="#0ffff0"/><stop offset="0.511" stop-color="#3dffc2"/><stop offset="0.575" stop-color="#4dffb2"/><stop offset="0.640" stop-color="#3cffc3"/><stop offset="0.699" stop-color="#0ffff0"/><stop offset="0.758" stop-color="#00cfff"/><stop offset="0.817" stop-color="#008fff"/><stop offset="0.882" stop-color="#005bff"/><stop offset="0.941" stop-color="#003fff"/><stop offset="1.000" stop-color="#0031ff"/></linearGradient><linearGradient id="d75" x2="0" y2="1"><stop offset="0.000" stop-color="#0031ff"/><stop offset="0.102" stop-color="#0033ff"/><stop offset="0.194" stop-color="#0040ff"/><stop offset="0.269" stop-color="#0060ff"/><stop offset="0.333" stop-color="#0094ff"/><stop offset="0.392" stop-color="#00d3ff"/><stop offset="0.452" stop-color="#14ffeb"/><stop offset="0.511" stop-color="#42ffbd"/><stop offset="0.575" stop-color="#53ffac"/><stop offset="0.640" stop-color="#42ffbd"/><stop offset="0.699" stop-color="#14ffeb"/><stop offset="0.758" stop-color="#00d2ff"/><stop offset="0.817" stop-color="#0091ff"/><stop offset="0.882" stop-color="#005cff"/><stop offset="0.941" stop-color="#003fff"/><stop offset="1.000" stop-color="#0031ff"/></linearGradient><linearGradient id="d76" x2="0" y2="1"><stop offset="0.000" stop-color="#0030ff"/><stop offset="0.102" stop-color="#0032ff"/><stop offset="0.194" stop-color="#003fff"/><stop offset="0.269" stop-color="#0061ff"/><stop offset="0.333" stop-color="#0096ff"/><stop offset="0.392" stop-color="#00d7ff"/><stop offset="0.452" stop-color="#19ffe6"/><stop offset="0.511" stop-color="#49ffb6"/><stop offset="0.575" stop-color="#59ffa6"/><stop offset="0.640" stop-color="#48ffb7"/><stop offset="0.699" stop-color="#19ffe6"/><stop offset="0.758" stop-color="#00d6ff"/><stop offset="0.817" stop-color="#0094ff"/><stop offset="0.882" stop-color="#005dff"/><stop offset="0.941" stop-color="#0040ff"/><stop offset="1.000" stop-color="#0031ff"/></linearGradient><linearGradient id="d77" x2="0" y2="1"><stop offset="0.000" stop-color="#002fff"/><stop offset="0.102" stop-color="#0031ff"/><stop offset="0.194" stop-color="#003fff"/><stop offset="0.269" stop-color="#0061ff"/><stop offset="0.333" stop-color="#0098ff"/><stop offset="0.392" stop-color="#00daff"/><stop offset="0.452" stop-color="#1fffe0"/><stop offset="0.511" stop-color="#4fffb0"/><stop offset="0.575" stop-color="#60ff9f"/><stop offset="0.640" stop-color="#4fffb0"/><stop offset="0.699" stop-color="#1effe1"/><stop offset="0.758" stop-color="#00d9ff"/><stop offset="0.817" stop-color="#0096ff"/><stop offset="0.882" stop-color="#005eff"/><stop offset="0.941" stop-color="#0040ff"/><stop offset="1.000" stop-color="#0031ff"/></linearGradient><linearGradient id="d78" x2="0" y2="1"><stop offset="0.000" stop-color="#002eff"/><stop offset="0.102" stop-color="#0031ff"/><stop offset="0.194" stop-color="#003fff"/><stop offset="0.269" stop-color="#0062ff"/><stop offset="0.333" stop-color="#0099ff"/><stop offset="0.392" stop-color="#00ddff"/><stop offset="0.452" stop-color="#23ffdc"/><stop offset="0.511" stop-color="#54ffab"/><stop offset="0.575" stop-color="#65ff9a"/><stop offset="0.640" stop-color="#54ffab"/><stop offset="0.699" stop-color="#22ffdd"/><stop offset="0.758" stop-color="#00dcff"/><stop offset="0.817" stop-color="#0098ff"/><stop offset="0.882" stop-color="#005fff"/><stop offset="0.941" stop-color="#0040ff"/><stop offset="1.000" stop-color="#0031ff"/></linearGradient><linearGradient id="d79" x2="0" y2="1"><stop offset="0.000" stop-color="#002dff"/><stop offset="0.102" stop-color="#0030ff"/><stop offset="0.194" stop-color="#003eff"/><stop offset="0.269" stop-color="#0062ff"/><stop offset="0.333" stop-color="#009bff"/><stop offset="0.392" stop-color="#00e0ff"/><stop offset="0.452" stop-color="#26ffd9"/><stop offset="0.511" stop-color="#59ffa6"/><stop offset="0.575" stop-color="#6aff95"/><stop offset="0.640" stop-color="#59ffa6"/><stop offset="0.699" stop-color="#26ffd9"/><stop offset="0.758" stop-color="#00dfff"/><stop offset="0.817" stop-color="#0099ff"/><stop offset="0.882" stop-color="#0060ff"/><stop offset="0.941" stop-color="#0041ff"/><stop offset="1.000" stop-color="#0031ff"/></linearGradient><linearGradient id="d80" x2="0" y2="1"><stop offset="0.000" stop-color="#002cff"/><stop offset="0.102" stop-color="#002fff"/><stop offset="0.194" stop-color="#003dff"/><stop offset="0.269" stop-color="#0062ff"/><stop offset="0.333" stop-color="#009cff"/><stop offset="0.392" stop-color="#00e2ff"/><stop offset="0.452" stop-color="#2affd5"/><stop offset="0.511" stop-color="#5dffa2"/><stop offset="0.575" stop-color="#6fff90"/><stop offset="0.640" stop-color="#5dffa2"/><stop offset="0.699" stop-color="#2affd5"/><stop offset="0.758" stop-color="#00e2ff"/><stop offset="0.817" stop-color="#009bff"/><stop offset="0.882" stop-color="#0061ff"/><stop offset="0.941" stop-color="#0041ff"/><stop offset="1.000" stop-color="#0031ff"/></linearGradient><linearGradient id="d81" x2="0" y2="1"><stop offset="0.000" stop-color="#002bff"/><stop offset="0.102" stop-color="#002dff"/><stop offset="0.194" stop-color="#003dff"/><stop offset="0.269" stop-color="#0062ff"/><stop offset="0.333" stop-color="#009dff"/><stop offset="0.392" stop-color="#00e5ff"/><stop offset="0.452" stop-color="#2effd1"/><stop offset="0.511" stop-color="#62ff9d"/><stop offset="0.575" stop-color="#75ff8a"/><stop offset="0.640" stop-color="#62ff9d"/><stop offset="0.699" stop-color="#2effd1"/><stop offset="0.758" stop-color="#00e5ff"/><stop offset="0.817" stop-color="#009dff"/><stop offset="0.882" stop-color="#0061ff"/><stop offset="0.941" stop-color="#0041ff"/><stop offset="1.000" stop-color="#0032ff"/></linearGradient><linearGradient id="d82" x2="0" y2="1"><stop offset="0.000" stop-color="#0029ff"/><stop offset="0.102" stop-color="#002cff"/><stop offset="0.194" stop-color="#003cff"/><stop offset="0.269" stop-color="#0062ff"/><stop offset="0.333" stop-color="#009dff"/><stop offset="0.392" stop-color="#00e5ff"/><stop offset="0.452" stop-color="#2fffd0"/><stop offset="0.511" stop-color="#63ff9c"/><stop offset="0.575" stop-color="#75ff8a"/><stop offset="0.640" stop-color="#63ff9c"/><stop offset="0.699" stop-color="#2fffd0"/><stop offset="0.758" stop-color="#00e5ff"/><stop offset="0.817" stop-color="#009dff"/><stop offset="0.882" stop-color="#0061ff"/><stop offset="0.941" stop-color="#0041ff"/><stop offset="1.000" stop-color="#0032ff"/></linearGradient><linearGradient id="d83" x2="0" y2="1"><stop offset="0.000" stop-color="#0029ff"/><stop offset="0.102" stop-color="#002cff"/><stop offset="0.194" stop-color="#003cff"/><stop offset="0.269" stop-color="#0061ff"/><stop offset="0.333" stop-color="#009dff"/><stop offset="0.392" stop-color="#00e5ff"/><stop offset="0.452" stop-color="#2fffd0"/><stop offset="0.511" stop-color="#63ff9c"/><stop offset="0.575" stop-color="#75ff8a"/><stop offset="0.640" stop-color="#63ff9c"/><stop offset="0.699" stop-color="#2fffd0"/><stop offset="0.758" stop-color="#00e5ff"/><stop offset="0.817" stop-color="#009dff"/><stop offset="0.882" stop-color="#0061ff"/><stop offset="0.941" stop-color="#0041ff"/><stop offset="1.000" stop-color="#0032ff"/></linearGradient><linearGradient id="d84" x2="0" y2="1"><stop offset="0.000" stop-color="#0029ff"/><stop offset="0.102" stop-color="#002cff"/><stop offset="0.194" stop-color="#003cff"/><stop offset="0.269" stop-color="#0061ff"/><stop offset="0.333" stop-color="#009dff"/><stop offset="0.392" stop-color="#00e5ff"/><stop offset="0.452" stop-color="#2fffd0"/><stop offset="0.511" stop-color="#63ff9c"/><stop offset="0.575" stop-color="#75ff8a"/><stop offset="0.640" stop-color="#63ff9c"/><stop offset="0.699" stop-color="#2fffd0"/><stop offset="0.758" stop-color="#00e5ff"/><stop offset="0.817" stop-color="#009dff"/><stop offset="0.882" stop-color="#0061ff"/><stop offset="0.941" stop-color="#0041ff"/><stop offset="1.000" stop-color="#0032ff"/></linearGradient><linearGradient id="d85" x2="0" y2="1"><stop offset="0.000" stop-color="#0029ff"/><stop offset="0.102" stop-color="#002cff"/><stop offset="0.194" stop-color="#003dff"/><stop offset="0.269" stop-color="#0064ff"/><stop offset="0.333" stop-color="#00a3ff"/><stop offset="0.392" stop-color="#00eeff"/><stop offset="0.452" stop-color="#3cffc3"/><stop offset="0.511" stop-color="#73ff8c"/><stop offset="0.575" stop-color="#86ff79"/><stop offset="0.640" stop-color="#73ff8c"/><stop offset="0.699" stop-color="#3cffc3"/><stop offset="0.758" stop-color="#00eeff"/><stop offset="0.817" stop-color="#00a3ff"/><stop offset="0.882" stop-color="#0064ff"/><stop offset="0.941" stop-color="#0043ff"/><stop offset="1.000" stop-color="#0032ff"/></linearGradient><linearGradient id="d86" x2="0" y2="1"><stop offset="0.000" stop-color="#0029ff"/><stop offset="0.102" stop-color="#002dff"/><stop offset="0.194" stop-color="#003eff"/><stop offset="0.269" stop-color="#0068ff"/><stop offset="0.333" stop-color="#00aaff"/><stop offset="0.392" stop-color="#00faff"/><stop offset="0.452" stop-color="#4cffb3"/><stop offset="0.511" stop-color="#86ff79"/><stop offset="0.575" stop-color="#9aff65"/><stop offset="0.640" stop-color="#86ff79"/><stop offset="0.699" stop-color="#4cffb3"/><stop offset="0.758" stop-color="#00faff"/><stop offset="0.817" stop-color="#00aaff"/><stop offset="0.882" stop-color="#0068ff"/><stop offset="0.941" stop-color="#0044ff"/><stop offset="1.000" stop-color="#0033ff"/></linearGradient><linearGradient id="d87" x2="0" y2="1"><stop offset="0.000" stop-color="#0029ff"/><stop offset="0.102" stop-color="#002dff"/><stop offset="0.194" stop-color="#003fff"/><stop offset="0.269" stop-color="#006bff"/><stop offset="0.333" stop-color="#00b1ff"/><stop offset="0.392" stop-color="#06fff9"/><stop offset="0.452" stop-color="#5cffa3"/><stop offset="0.511" stop-color="#99ff66"/><stop offset="0.575" stop-color="#afff50"/><stop offset="0.640" stop-color="#99ff66"/><stop offset="0.699" stop-color="#5cffa3"/><stop offset="0.758" stop-color="#06fff9"/><stop offset="0.817" stop-color="#00b1ff"/><stop offset="0.882" stop-color="#006bff"/><stop offset="0.941" stop-color="#0046ff"/><stop offset="1.000" stop-color="#0033ff"/></linearGradient><linearGradient id="d88" x2="0" y2="1"><stop offset="0.000" stop-color="#0029ff"/><stop offset="0.102" stop-color="#002dff"/><stop offset="0.194" stop-color="#0040ff"/><stop offset="0.269" stop-color="#006fff"/><stop offset="0.333" stop-color="#00b8ff"/><stop offset="0.392" stop-color="#12ffed"/><stop offset="0.452" stop-color="#6cff93"/><stop offset="0.511" stop-color="#acff53"/><stop offset="0.575" stop-color="#c3ff3c"/><stop offset="0.640" stop-color="#acff53"/><stop offset="0.699" stop-color="#6cff93"/><stop offset="0.758" stop-color="#12ffed"/><stop offset="0.817" stop-color="#00b8ff"/><stop offset="0.882" stop-color="#006fff"/><stop offset="0.941" stop-color="#0047ff"/><stop offset="1.000" stop-color="#0034ff"/></linearGradient><linearGradient id="d89" x2="0" y2="1"><stop offset="0.000" stop-color="#0028ff"/><stop offset="0.102" stop-color="#002cff"/><stop offset="0.194" stop-color="#003fff"/><stop offset="0.269" stop-color="#006eff"/><stop offset="0.333" stop-color="#00b7ff"/><stop offset="0.392" stop-color="#12ffed"/><stop offset="0.452" stop-color="#6bff94"/><stop offset="0.511" stop-color="#acff53"/><stop offset="0.575" stop-color="#c3ff3c"/><stop offset="0.640" stop-color="#acff53"/><stop offset="0.699" stop-color="#6bff94"/><stop offset="0.758" stop-color="#12ffed"/><stop offset="0.817" stop-color="#00b8ff"/><stop offset="0.882" stop-color="#006fff"/><stop offset="0.941" stop-color="#0047ff"/><stop offset="1.000" stop-color="#0034ff"/></linearGradient><linearGradient id="d90" x2="0" y2="1"><stop offset="0.000" stop-color="#0027ff"/><stop offset="0.102" stop-color="#002bff"/><stop offset="0.194" stop-color="#003eff"/><stop offset="0.269" stop-color="#006cff"/><stop offset="0.333" stop-color="#00b5ff"/><stop offset="0.392" stop-color="#0efff1"/><stop offset="0.452" stop-color="#67ff98"/><stop offset="0.511" stop-color="#a7ff58"/><stop offset="0.575" stop-color="#beff41"/><stop offset="0.640" stop-color="#a7ff58"/><stop offset="0.699" stop-color="#67ff98"/><stop offset="0.758" stop-color="#0ffff0"/><stop offset="0.817" stop-color="#00b6ff"/><stop offset="0.882" stop-color="#006eff"/><stop offset="0.941" stop-color="#0047ff"/><stop offset="1.000" stop-color="#0034ff"/></linearGradient><linearGradient id="d91" x2="0" y2="1"><stop offset="0.000" stop-color="#0026ff"/><stop offset="0.102" stop-color="#002aff"/><stop offset="0.194" stop-color="#003dff"/><stop offset="0.269" stop-color="#006bff"/><stop offset="0.333" stop-color="#00b3ff"/><stop offset="0.392" stop-color="#0bfff4"/><stop offset="0.452" stop-color="#63ff9c"/><stop offset="0.511" stop-color="#a2ff5d"/><stop offset="0.575" stop-color="#b9ff46"/><stop offset="0.640" stop-color="#a2ff5d"/><stop offset="0.699" stop-color="#63ff9c"/><stop offset="0.758" stop-color="#0cfff3"/><stop offset="0.817" stop-color="#00b4ff"/><stop offset="0.882" stop-color="#006dff"/><stop offset="0.941" stop-color="#0046ff"/><stop offset="1.000" stop-color="#0033ff"/></linearGradient><linearGradient id="d92" x2="0" y2="1"><stop offset="0.000" stop-color="#0024ff"/><stop offset="0.102" stop-color="#0028ff"/><stop offset="0.194" stop-color="#003cff"/><stop offset="0.269" stop-color="#0069ff"/><stop offset="0.333" stop-color="#00b0ff"/><stop offset="0.392" stop-color="#08fff7"/><stop offset="0.452" stop-color="#5fffa0"/><stop offset="0.511" stop-color="#9eff61"/><stop offset="0.575" stop-color="#b4ff4b"/><stop offset="0.640" stop-color="#9eff61"/><stop offset="0.699" stop-color="#5fffa0"/><stop offset="0.758" stop-color="#09fff6"/><stop offset="0.817" stop-color="#00b2ff"/><stop offset="0.882" stop-color="#006cff"/><stop offset="0.941" stop-color="#0046ff"/><stop offset="1.000" stop-color="#0033ff"/></linearGradient><linearGradient id="d93" x2="0" y2="1"><stop offset="0.000" stop-color="#0024ff"/><stop offset="0.102" stop-color="#0028ff"/><stop offset="0.194" stop-color="#003bff"/><stop offset="0.269" stop-color="#0069ff"/><stop offset="0.333" stop-color="#00b0ff"/><stop offset="0.392" stop-color="#07fff8"/><stop offset="0.452" stop-color="#5effa1"/><stop offset="0.511" stop-color="#9cff63"/><stop offset="0.575" stop-color="#b3ff4c"/><stop offset="0.640" stop-color="#9cff63"/><stop offset="0.699" stop-color="#5effa1"/><stop offset="0.758" stop-color="#08fff7"/><stop offset="0.817" stop-color="#00b1ff"/><stop offset="0.882" stop-color="#006bff"/><stop offset="0.941" stop-color="#0046ff"/><stop offset="1.000" stop-color="#0033ff"/></linearGradient><linearGradient id="d94" x2="0" y2="1"><stop offset="0.000" stop-color="#0023ff"/><stop offset="0.102" stop-color="#0027ff"/><stop offset="0.194" stop-color="#003bff"/><stop offset="0.269" stop-color="#0068ff"/><stop offset="0.333" stop-color="#00b0ff"/><stop offset="0.392" stop-color="#07fff8"/><stop offset="0.452" stop-color="#5effa1"/><stop offset="0.511" stop-color="#9cff63"/><stop offset="0.575" stop-color="#b3ff4c"/><stop offset="0.640" stop-color="#9cff63"/><stop offset="0.699" stop-color="#5effa1"/><stop offset="0.758" stop-color="#08fff7"/><stop offset="0.817" stop-color="#00b1ff"/><stop offset="0.882" stop-color="#006bff"/><stop offset="0.941" stop-color="#0045ff"/><stop offset="1.000" stop-color="#0033ff"/></linearGradient><linearGradient id="d95" x2="0" y2="1"><stop offset="0.000" stop-color="#0023ff"/><stop offset="0.102" stop-color="#0027ff"/><stop offset="0.194" stop-color="#003aff"/><stop offset="0.269" stop-color="#0068ff"/><stop offset="0.333" stop-color="#00afff"/><stop offset="0.392" stop-color="#07fff8"/><stop offset="0.452" stop-color="#5effa1"/><stop offset="0.511" stop-color="#9cff63"/><stop offset="0.575" stop-color="#b3ff4c"/><stop offset="0.640" stop-color="#9cff63"/><stop offset="0.699" stop-color="#5effa1"/><stop offset="0.758" stop-color="#08fff7"/><stop offset="0.817" stop-color="#00b1ff"/><stop offset="0.882" stop-color="#006bff"/><stop offset="0.941" stop-color="#0045ff"/><stop offset="1.000" stop-color="#0033ff"/></linearGradient><linearGradient id="d96" x2="0" y2="1"><stop offset="0.000" stop-color="#0022ff"/><stop offset="0.102" stop-color="#0026ff"/><stop offset="0.194" stop-color="#003aff"/><stop offset="0.269" stop-color="#0067ff"/><stop offset="0.333" stop-color="#00aeff"/><stop offset="0.392" stop-color="#04fffb"/><stop offset="0.452" stop-color="#5bffa4"/><stop offset="0.511" stop-color="#99ff66"/><stop offset="0.575" stop-color="#afff50"/><stop offset="0.640" stop-color="#99ff66"/><stop offset="0.699" stop-color="#5bffa4"/><stop offset="0.758" stop-color="#06fff9"/><stop offset="0.817" stop-color="#00b0ff"/><stop offset="0.882" stop-color="#006bff"/><stop offset="0.941" stop-color="#0045ff"/><stop offset="1.000" stop-color="#0033ff"/></linearGradient><linearGradient id="d97" x2="0" y2="1"><stop offset="0.000" stop-color="#0022ff"/><stop offset="0.102" stop-color="#0026ff"/><stop offset="0.194" stop-color="#0039ff"/><stop offset="0.269" stop-color="#0066ff"/><stop offset="0.333" stop-color="#00acff"/><stop offset="0.392" stop-color="#01fffe"/><stop offset="0.452" stop-color="#57ffa8"/><stop offset="0.511" stop-color="#94ff6b"/><stop offset="0.575" stop-color="#aaff55"/><stop offset="0.640" stop-color="#94ff6b"/><stop offset="0.699" stop-color="#57ffa8"/><stop offset="0.758" stop-color="#03fffc"/><stop offset="0.817" stop-color="#00aeff"/><stop offset="0.882" stop-color="#006aff"/><stop offset="0.941" stop-color="#0045ff"/><stop offset="1.000" stop-color="#0033ff"/></linearGradient><linearGradient id="d98" x2="0" y2="1"><stop offset="0.000" stop-color="#0021ff"/><stop offset="0.102" stop-color="#0025ff"/><stop offset="0.194" stop-color="#0038ff"/><stop offset="0.269" stop-color="#0065ff"/><stop offset="0.333" stop-color="#00aaff"/><stop offset="0.392" stop-color="#00fdff"/><stop offset="0.452" stop-color="#53ffac"/><stop offset="0.511" stop-color="#8fff70"/><stop offset="0.575" stop-color="#a4ff5b"/><stop offset="0.640" stop-color="#8fff70"/><stop offset="0.699" stop-color="#53ffac"/><stop offset="0.758" stop-color="#00ffff"/><stop offset="0.817" stop-color="#00acff"/><stop offset="0.882" stop-color="#0069ff"/><stop offset="0.941" stop-color="#0044ff"/><stop offset="1.000" stop-color="#0033ff"/></linearGradient><linearGradient id="d99" x2="0" y2="1"><stop offset="0.000" stop-color="#0021ff"/><stop offset="0.102" stop-color="#0025ff"/><stop offset="0.194" stop-color="#0038ff"/><stop offset="0.269" stop-color="#0063ff"/><stop offset="0.333" stop-color="#00a8ff"/><stop offset="0.392" stop-color="#00faff"/><stop offset="0.452" stop-color="#4fffb0"/><stop offset="0.511" stop-color="#8aff75"/><stop offset="0.575" stop-color="#9fff60"/><stop offset="0.640" stop-color="#8aff75"/><stop offset="0.699" stop-color="#4fffb0"/><stop offset="0.758" stop-color="#00fcff"/><stop offset="0.817" stop-color="#00aaff"/><stop offset="0.882" stop-color="#0068ff"/><stop offset="0.941" stop-color="#0044ff"/><stop offset="1.000" stop-color="#0033ff"/></linearGradient><linearGradient id="d100" x2="0" y2="1"><stop offset="0.000" stop-color="#0020ff"/><stop offset="0.102" stop-color="#0025ff"/><stop offset="0.194" stop-color="#0037ff"/><stop offset="0.269" stop-color="#0064ff"/><stop offset="0.333" stop-color="#00a9ff"/><stop offset="0.392" stop-color="#00fcff"/><stop offset="0.452" stop-color="#52ffad"/><stop offset="0.511" stop-color="#8eff71"/><stop offset="0.575" stop-color="#a3ff5c"/><stop offset="0.640" stop-color="#8eff71"/><stop offset="0.699" stop-color="#52ffad"/><stop offset="0.758" stop-color="#00feff"/><stop offset="0.817" stop-color="#00acff"/><stop offset="0.882" stop-color="#0068ff"/><stop offset="0.941" stop-color="#0044ff"/><stop offset="1.000" stop-color="#0033ff"/></linearGradient><linearGradient id="d101" x2="0" y2="1"><stop offset="0.000" stop-color="#0020ff"/><stop offset="0.102" stop-color="#0024ff"/><stop offset="0.194" stop-color="#0037ff"/><stop offset="0.269" stop-color="#0065ff"/><stop offset="0.333" stop-color="#00abff"/><stop offset="0.392" stop-color="#01fffe"/><stop offset="0.452" stop-color="#57ffa8"/><stop offset="0.511" stop-color="#94ff6b"/><stop offset="0.575" stop-color="#aaff55"/><stop offset="0.640" stop-color="#94ff6b"/><stop offset="0.699" stop-color="#57ffa8"/><stop offset="0.758" stop-color="#03fffc"/><stop offset="0.817" stop-color="#00aeff"/><stop offset="0.882" stop-color="#0069ff"/><stop offset="0.941" stop-color="#0045ff"/><stop offset="1.000" stop-color="#0033ff"/></linearGradient><linearGradient id="d102" x2="0" y2="1"><stop offset="0.000" stop-color="#001fff"/><stop offset="0.102" stop-color="#0024ff"/><stop offset="0.194" stop-color="#0037ff"/><stop offset="0.269" stop-color="#0065ff"/><stop offset="0.333" stop-color="#00adff"/><stop offset="0.392" stop-color="#05fffa"/><stop offset="0.452" stop-color="#5cffa3"/><stop offset="0.511" stop-color="#9bff64"/><stop offset="0.575" stop-color="#b1ff4e"/><stop offset="0.640" stop-color="#9bff64"/><stop offset="0.699" stop-color="#5dffa2"/><stop offset="0.758" stop-color="#06fff9"/><stop offset="0.817" stop-color="#00b0ff"/><stop offset="0.882" stop-color="#006bff"/><stop offset="0.941" stop-color="#0045ff"/><stop offset="1.000" stop-color="#0033ff"/></linearGradient><linearGradient id="d103" x2="0" y2="1"><stop offset="0.000" stop-color="#001fff"/><stop offset="0.102" stop-color="#0023ff"/><stop offset="0.194" stop-color="#0037ff"/><stop offset="0.269" stop-color="#0066ff"/><stop offset="0.333" stop-color="#00afff"/><stop offset="0.392" stop-color="#09fff6"/><stop offset="0.452" stop-color="#62ff9d"/><stop offset="0.511" stop-color="#a2ff5d"/><stop offset="0.575" stop-color="#b8ff47"/><stop offset="0.640" stop-color="#a2ff5d"/><stop offset="0.699" stop-color="#62ff9d"/><stop offset="0.758" stop-color="#0bfff4"/><stop offset="0.817" stop-color="#00b3ff"/><stop offset="0.882" stop-color="#006cff"/><stop offset="0.941" stop-color="#0046ff"/><stop offset="1.000" stop-color="#0033ff"/></linearGradient><linearGradient id="d104" x2="0" y2="1"><stop offset="0.000" stop-color="#001eff"/><stop offset="0.102" stop-color="#0023ff"/><stop offset="0.194" stop-color="#0037ff"/><stop offset="0.269" stop-color="#0067ff"/><stop offset="0.333" stop-color="#00b2ff"/><stop offset="0.392" stop-color="#0dfff2"/><stop offset="0.452" stop-color="#68ff97"/><stop offset="0.511" stop-color="#a9ff56"/><stop offset="0.575" stop-color="#c0ff3f"/><stop offset="0.640" stop-color="#a9ff56"/><stop offset="0.699" stop-color="#68ff97"/><stop offset="0.758" stop-color="#0ffff0"/><stop offset="0.817" stop-color="#00b5ff"/><stop offset="0.882" stop-color="#006dff"/><stop offset="0.941" stop-color="#0046ff"/><stop offset="1.000" stop-color="#0034ff"/></linearGradient><linearGradient id="d105" x2="0" y2="1"><stop offset="0.000" stop-color="#001eff"/><stop offset="0.102" stop-color="#0023ff"/><stop offset="0.194" stop-color="#0038ff"/><stop offset="0.269" stop-color="#0068ff"/><stop offset="0.333" stop-color="#00b4ff"/><stop offset="0.392" stop-color="#11ffee"/><stop offset="0.452" stop-color="#6eff91"/><stop offset="0.511" stop-color="#b0ff4f"/><stop offset="0.575" stop-color="#c7ff38"/><stop offset="0.640" stop-color="#b0ff4f"/><stop offset="0.699" stop-color="#6eff91"/><stop offset="0.758" stop-color="#13ffec"/><stop offset="0.817" stop-color="#00b8ff"/><stop offset="0.882" stop-color="#006eff"/><stop offset="0.941" stop-color="#0047ff"/><stop offset="1.000" stop-color="#0034ff"/></linearGradient><linearGradient id="d106" x2="0" y2="1"><stop offset="0.000" stop-color="#001dff"/><stop offset="0.102" stop-color="#0022ff"/><stop offset="0.194" stop-color="#0038ff"/><stop offset="0.269" stop-color="#0069ff"/><stop offset="0.333" stop-color="#00b7ff"/><stop offset="0.392" stop-color="#15ffea"/><stop offset="0.452" stop-color="#74ff8b"/><stop offset="0.511" stop-color="#b7ff48"/><stop offset="0.575" stop-color="#cfff30"/><stop offset="0.640" stop-color="#b7ff48"/><stop offset="0.699" stop-color="#74ff8b"/><stop offset="0.758" stop-color="#17ffe8"/><stop offset="0.817" stop-color="#00bbff"/><stop offset="0.882" stop-color="#0070ff"/><stop offset="0.941" stop-color="#0047ff"/><stop offset="1.000" stop-color="#0034ff"/></linearGradient><linearGradient id="d107" x2="0" y2="1"><stop offset="0.000" stop-color="#001dff"/><stop offset="0.102" stop-color="#0022ff"/><stop offset="0.194" stop-color="#0037ff"/><stop offset="0.269" stop-color="#0069ff"/><stop offset="0.333" stop-color="#00b7ff"/><stop offset="0.392" stop-color="#15ffea"/><stop offset="0.452" stop-color="#73ff8c"/><stop offset="0.511" stop-color="#b7ff48"/><stop offset="0.575" stop-color="#cfff30"/><stop offset="0.640" stop-color="#b7ff48"/><stop offset="0.699" stop-color="#74ff8b"/><stop offset="0.758" stop-color="#17ffe8"/><stop offset="0.817" stop-color="#00bbff"/><stop offset="0.882" stop-color="#006fff"/><stop offset="0.941" stop-color="#0047ff"/><stop offset="1.000" stop-color="#0034ff"/></linearGradient><linearGradient id="d108" x2="0" y2="1"><stop offset="0.000" stop-color="#001cff"/><stop offset="0.102" stop-color="#0021ff"/><stop offset="0.194" stop-color="#0037ff"/><stop offset="0.269" stop-color="#0068ff"/><stop offset="0.333" stop-color="#00b5ff"/><stop offset="0.392" stop-color="#13ffec"/><stop offset="0.452" stop-color="#71ff8e"/><stop offset="0.511" stop-color="#b4ff4b"/><stop offset="0.575" stop-color="#cbff34"/><stop offset="0.640" stop-color="#b4ff4b"/><stop offset="0.699" stop-color="#71ff8e"/><stop offset="0.758" stop-color="#15ffea"/><stop offset="0.817" stop-color="#00b9ff"/><stop offset="0.882" stop-color="#006fff"/><stop offset="0.941" stop-color="#0047ff"/><stop offset="1.000" stop-color="#0034ff"/></linearGradient><linearGradient id="d109" x2="0" y2="1"><stop offset="0.000" stop-color="#001cff"/><stop offset="0.102" stop-color="#0021ff"/><stop offset="0.194" stop-color="#0036ff"/><stop offset="0.269" stop-color="#0067ff"/><stop offset="0.333" stop-color="#00b4ff"/><stop offset="0.392" stop-color="#11ffee"/><stop offset="0.452" stop-color="#6eff91"/><stop offset="0.511" stop-color="#b1ff4e"/><stop offset="0.575" stop-color="#c8ff37"/><stop offset="0.640" stop-color="#b1ff4e"/><stop offset="0.699" stop-color="#6fff90"/><stop offset="0.758" stop-color="#13ffec"/><stop offset="0.817" stop-color="#00b8ff"/><stop offset="0.882" stop-color="#006eff"/><stop offset="0.941" stop-color="#0047ff"/><stop offset="1.000" stop-color="#0034ff"/></linearGradient><linearGradient id="d110" x2="0" y2="1"><stop offset="0.000" stop-color="#001bff"/><stop offset="0.102" stop-color="#0020ff"/><stop offset="0.194" stop-color="#0035ff"/><stop offset="0.269" stop-color="#0066ff"/><stop offset="0.333" stop-color="#00b2ff"/><stop offset="0.392" stop-color="#0ffff0"/><stop offset="0.452" stop-color="#6bff94"/><stop offset="0.511" stop-color="#adff52"/><stop offset="0.575" stop-color="#c5ff3a"/><stop offset="0.640" stop-color="#adff52"/><stop offset="0.699" stop-color="#6cff93"/><stop offset="0.758" stop-color="#11ffee"/><stop offset="0.817" stop-color="#00b7ff"/><stop offset="0.882" stop-color="#006eff"/><stop offset="0.941" stop-color="#0046ff"/><stop offset="1.000" stop-color="#0034ff"/></linearGradient><linearGradient id="d111" x2="0" y2="1"><stop offset="0.000" stop-color="#001bff"/><stop offset="0.102" stop-color="#0020ff"/><stop offset="0.194" stop-color="#0035ff"/><stop offset="0.269" stop-color="#0066ff"/><stop offset="0.333" stop-color="#00b1ff"/><stop offset="0.392" stop-color="#0dfff2"/><stop offset="0.452" stop-color="#69ff96"/><stop offset="0.511" stop-color="#aaff55"/><stop offset="0.575" stop-color="#c1ff3e"/><stop offset="0.640" stop-color="#aaff55"/><stop offset="0.699" stop-color="#69ff96"/><stop offset="0.758" stop-color="#0ffff0"/><stop offset="0.817" stop-color="#00b6ff"/><stop offset="0.882" stop-color="#006dff"/><stop offset="0.941" stop-color="#0046ff"/><stop offset="1.000" stop-color="#0034ff"/></linearGradient><linearGradient id="d112" x2="0" y2="1"><stop offset="0.000" stop-color="#001aff"/><stop offset="0.102" stop-color="#001fff"/><stop offset="0.194" stop-color="#0034ff"/><stop offset="0.269" stop-color="#0065ff"/><stop offset="0.333" stop-color="#00b0ff"/><stop offset="0.392" stop-color="#0bfff4"/><stop offset="0.452" stop-color="#66ff99"/><stop offset="0.511" stop-color="#a7ff58"/><stop offset="0.575" stop-color="#beff41"/><stop offset="0.640" stop-color="#a7ff58"/><stop offset="0.699" stop-color="#67ff98"/><stop offset="0.758" stop-color="#0dfff2"/><stop offset="0.817" stop-color="#00b4ff"/><stop offset="0.882" stop-color="#006cff"/><stop offset="0.941" stop-color="#0046ff"/><stop offset="1.000" stop-color="#0034ff"/></linearGradient></defs>
<g><rect x="74.3" y="956.0" width="3.1" height="186.0" fill="url(#d0)"/><rect x="76.8" y="956.0" width="3.1" height="186.0" fill="url(#d1)"/><rect x="79.3" y="956.0" width="3.1" height="186.0" fill="url(#d2)"/><rect x="81.8" y="956.0" width="3.1" height="186.0" fill="url(#d3)"/><rect x="84.3" y="956.0" width="3.1" height="186.0" fill="url(#d4)"/><rect x="86.8" y="956.0" width="3.1" height="186.0" fill="url(#d5)"/><rect x="89.3" y="956.0" width="3.1" height="186.0" fill="url(#d6)"/><rect x="91.8" y="956.0" width="3.1" height="186.0" fill="url(#d7)"/><rect x="94.3" y="956.0" width="3.1" height="186.0" fill="url(#d8)"/><rect x="96.8" y="956.0" width="3.1" height="186.0" fill="url(#d9)"/><rect x="99.3" y="956.0" width="3.1" height="186.0" fill="url(#d10)"/><rect x="101.8" y="956.0" width="3.1" height="186.0" fill="url(#d11)"/><rect x="104.3" y="956.0" width="3.1" height="186.0" fill="url(#d12)"/><rect x="106.8" y="956.0" width="3.1" height="186.0" fill="url(#d13)"/><rect x="109.3" y="956.0" width="3.1" height="186.0" fill="url(#d14)"/><rect x="111.8" y="956.0" width="3.1" height="186.0" fill="url(#d15)"/><rect x="114.3" y="956.0" width="3.1" height="186.0" fill="url(#d16)"/><rect x="116.8" y="956.0" width="3.1" height="186.0" fill="url(#d17)"/><rect x="119.3" y="956.0" width="3.1" height="186.0" fill="url(#d18)"/><rect x="121.8" y="956.0" width="3.1" height="186.0" fill="url(#d19)"/><rect x="124.3" y="956.0" width="3.1" height="186.0" fill="url(#d20)"/><rect x="126.8" y="956.0" width="6.6" height="186.0" fill="url(#d21)"/><rect x="132.8" y="956.0" width="6.6" height="186.0" fill="url(#d22)"/><rect x="138.8" y="956.0" width="6.6" height="186.0" fill="url(#d23)"/><rect x="144.8" y="956.0" width="6.6" height="186.0" fill="url(#d24)"/><rect x="150.8" y="956.0" width="6.6" height="186.0" fill="url(#d25)"/><rect x="156.8" y="956.0" width="6.6" height="186.0" fill="url(#d26)"/><rect x="162.8" y="956.0" width="6.6" height="186.0" fill="url(#d27)"/><rect x="168.8" y="956.0" width="6.6" height="186.0" fill="url(#d28)"/><rect x="174.8" y="956.0" width="6.6" height="186.0" fill="url(#d29)"/><rect x="180.8" y="956.0" width="6.6" height="186.0" fill="url(#d30)"/><rect x="186.8" y="956.0" width="6.6" height="186.0" fill="url(#d31)"/><rect x="192.8" y="956.0" width="6.6" height="186.0" fill="url(#d32)"/><rect x="198.8" y="956.0" width="6.6" height="186.0" fill="url(#d33)"/><rect x="204.8" y="956.0" width="6.6" height="186.0" fill="url(#d34)"/><rect x="210.8" y="956.0" width="6.6" height="186.0" fill="url(#d35)"/><rect x="216.8" y="956.0" width="6.6" height="186.0" fill="url(#d36)"/><rect x="222.8" y="956.0" width="6.6" height="186.0" fill="url(#d37)"/><rect x="228.8" y="956.0" width="6.6" height="186.0" fill="url(#d38)"/><rect x="234.8" y="956.0" width="6.6" height="186.0" fill="url(#d39)"/><rect x="240.8" y="956.0" width="6.6" height="186.0" fill="url(#d40)"/><rect x="246.8" y="956.0" width="6.6" height="186.0" fill="url(#d41)"/><rect x="252.8" y="956.0" width="6.6" height="186.0" fill="url(#d42)"/><rect x="258.8" y="956.0" width="6.6" height="186.0" fill="url(#d43)"/><rect x="264.8" y="956.0" width="6.6" height="186.0" fill="url(#d44)"/><rect x="270.8" y="956.0" width="6.6" height="186.0" fill="url(#d45)"/><rect x="276.8" y="956.0" width="6.6" height="186.0" fill="url(#d46)"/><rect x="282.8" y="956.0" width="6.6" height="186.0" fill="url(#d47)"/><rect x="288.8" y="956.0" width="6.6" height="186.0" fill="url(#d48)"/><rect x="294.8" y="956.0" width="6.6" height="186.0" fill="url(#d49)"/><rect x="300.8" y="956.0" width="6.6" height="186.0" fill="url(#d50)"/><rect x="306.8" y="956.0" width="6.6" height="186.0" fill="url(#d51)"/><rect x="312.8" y="956.0" width="6.6" height="186.0" fill="url(#d52)"/><rect x="318.8" y="956.0" width="6.6" height="186.0" fill="url(#d53)"/><rect x="324.8" y="956.0" width="6.6" height="186.0" fill="url(#d54)"/><rect x="330.8" y="956.0" width="6.6" height="186.0" fill="url(#d55)"/><rect x="336.8" y="956.0" width="6.6" height="186.0" fill="url(#d56)"/><rect x="342.8" y="956.0" width="6.6" height="186.0" fill="url(#d57)"/><rect x="348.8" y="956.0" width="6.6" height="186.0" fill="url(#d58)"/><rect x="354.8" y="956.0" width="6.6" height="186.0" fill="url(#d59)"/><rect x="360.8" y="956.0" width="6.6" height="186.0" fill="url(#d60)"/><rect x="366.8" y="956.0" width="6.6" height="186.0" fill="url(#d61)"/><rect x="372.8" y="956.0" width="6.6" height="186.0" fill="url(#d62)"/><rect x="378.8" y="956.0" width="6.6" height="186.0" fill="url(#d63)"/><rect x="384.8" y="956.0" width="6.6" height="186.0" fill="url(#d64)"/><rect x="390.8" y="956.0" width="6.6" height="186.0" fill="url(#d65)"/><rect x="396.8" y="956.0" width="6.6" height="186.0" fill="url(#d66)"/><rect x="402.8" y="956.0" width="6.6" height="186.0" fill="url(#d67)"/><rect x="408.8" y="956.0" width="6.6" height="186.0" fill="url(#d68)"/><rect x="414.8" y="956.0" width="6.6" height="186.0" fill="url(#d69)"/><rect x="420.8" y="956.0" width="6.6" height="186.0" fill="url(#d70)"/><rect x="426.8" y="956.0" width="6.6" height="186.0" fill="url(#d71)"/><rect x="432.8" y="956.0" width="6.6" height="186.0" fill="url(#d72)"/><rect x="438.8" y="956.0" width="6.6" height="186.0" fill="url(#d73)"/><rect x="444.8" y="956.0" width="6.6" height="186.0" fill="url(#d74)"/><rect x="450.8" y="956.0" width="6.6" height="186.0" fill="url(#d75)"/><rect x="456.8" y="956.0" width="6.6" height="186.0" fill="url(#d76)"/><rect x="462.8" y="956.0" width="6.6" height="186.0" fill="url(#d77)"/><rect x="468.8" y="956.0" width="6.6" height="186.0" fill="url(#d78)"/><rect x="474.8" y="956.0" width="6.6" height="186.0" fill="url(#d79)"/><rect x="480.8" y="956.0" width="6.6" height="186.0" fill="url(#d80)"/><rect x="486.8" y="956.0" width="6.6" height="186.0" fill="url(#d81)"/><rect x="492.8" y="956.0" width="6.6" height="186.0" fill="url(#d82)"/><rect x="498.8" y="956.0" width="6.6" height="186.0" fill="url(#d83)"/><rect x="504.8" y="956.0" width="6.6" height="186.0" fill="url(#d84)"/><rect x="510.8" y="956.0" width="6.6" height="186.0" fill="url(#d85)"/><rect x="516.8" y="956.0" width="6.6" height="186.0" fill="url(#d86)"/><rect x="522.8" y="956.0" width="6.6" height="186.0" fill="url(#d87)"/><rect x="528.8" y="956.0" width="6.6" height="186.0" fill="url(#d88)"/><rect x="534.8" y="956.0" width="6.6" height="186.0" fill="url(#d89)"/><rect x="540.8" y="956.0" width="6.6" height="186.0" fill="url(#d90)"/><rect x="546.8" y="956.0" width="6.6" height="186.0" fill="url(#d91)"/><rect x="552.8" y="956.0" width="6.6" height="186.0" fill="url(#d92)"/><rect x="558.8" y="956.0" width="6.6" height="186.0" fill="url(#d93)"/><rect x="564.8" y="956.0" width="6.6" height="186.0" fill="url(#d94)"/><rect x="570.8" y="956.0" width="6.6" height="186.0" fill="url(#d95)"/><rect x="576.8" y="956.0" width="6.6" height="186.0" fill="url(#d96)"/><rect x="582.8" y="956.0" width="6.6" height="186.0" fill="url(#d97)"/><rect x="588.8" y="956.0" width="6.6" height="186.0" fill="url(#d98)"/><rect x="594.8" y="956.0" width="6.6" height="186.0" fill="url(#d99)"/><rect x="600.8" y="956.0" width="6.6" height="186.0" fill="url(#d100)"/><rect x="606.8" y="956.0" width="6.6" height="186.0" fill="url(#d101)"/><rect x="612.8" y="956.0" width="6.6" height="186.0" fill="url(#d102)"/><rect x="618.8" y="956.0" width="6.6" height="186.0" fill="url(#d103)"/><rect x="624.8" y="956.0" width="6.6" height="186.0" fill="url(#d104)"/><rect x="630.8" y="956.0" width="6.6" height="186.0" fill="url(#d105)"/><rect x="636.8" y="956.0" width="6.6" height="186.0" fill="url(#d106)"/><rect x="642.8" y="956.0" width="6.6" height="186.0" fill="url(#d107)"/><rect x="648.8" y="956.0" width="6.6" height="186.0" fill="url(#d108)"/><rect x="654.8" y="956.0" width="6.6" height="186.0" fill="url(#d109)"/><rect x="660.8" y="956.0" width="6.6" height="186.0" fill="url(#d110)"/><rect x="666.8" y="956.0" width="6.6" height="186.0" fill="url(#d111)"/><rect x="672.8" y="956.0" width="5.8" height="186.0" fill="url(#d112)"/></g>
<line x1="71.3" y1="1142.2" x2="74.3" y2="1142.2" stroke="#000" stroke-width="1.2"/>
<line x1="72.3" y1="1125.2" x2="74.3" y2="1125.2" stroke="#000" stroke-width="0.9"/>
<line x1="72.3" y1="1115.2" x2="74.3" y2="1115.2" stroke="#000" stroke-width="0.9"/>
<line x1="72.3" y1="1108.1" x2="74.3" y2="1108.1" stroke="#000" stroke-width="0.9"/>
<line x1="72.3" y1="1102.6" x2="74.3" y2="1102.6" stroke="#000" stroke-width="0.9"/>
<line x1="72.3" y1="1098.2" x2="74.3" y2="1098.2" stroke="#000" stroke-width="0.9"/>
<line x1="72.3" y1="1094.4" x2="74.3" y2="1094.4" stroke="#000" stroke-width="0.9"/>
<line x1="72.3" y1="1091.1" x2="74.3" y2="1091.1" stroke="#000" stroke-width="0.9"/>
<line x1="72.3" y1="1088.2" x2="74.3" y2="1088.2" stroke="#000" stroke-width="0.9"/>
<text x="53" y="1152.7" font-size="20" text-anchor="end">10</text><text x="53" y="1144.2" font-size="13.5">0</text>
<line x1="71.3" y1="1085.6" x2="74.3" y2="1085.6" stroke="#000" stroke-width="1.2"/>
<line x1="72.3" y1="1068.6" x2="74.3" y2="1068.6" stroke="#000" stroke-width="0.9"/>
<line x1="72.3" y1="1058.6" x2="74.3" y2="1058.6" stroke="#000" stroke-width="0.9"/>
<line x1="72.3" y1="1051.5" x2="74.3" y2="1051.5" stroke="#000" stroke-width="0.9"/>
<line x1="72.3" y1="1046.0" x2="74.3" y2="1046.0" stroke="#000" stroke-width="0.9"/>
<line x1="72.3" y1="1041.6" x2="74.3" y2="1041.6" stroke="#000" stroke-width="0.9"/>
<line x1="72.3" y1="1037.8" x2="74.3" y2="1037.8" stroke="#000" stroke-width="0.9"/>
<line x1="72.3" y1="1034.5" x2="74.3" y2="1034.5" stroke="#000" stroke-width="0.9"/>
<line x1="72.3" y1="1031.6" x2="74.3" y2="1031.6" stroke="#000" stroke-width="0.9"/>
<text x="53" y="1096.1" font-size="20" text-anchor="end">10</text><text x="53" y="1087.6" font-size="13.5">1</text>
<line x1="71.3" y1="1029.0" x2="74.3" y2="1029.0" stroke="#000" stroke-width="1.2"/>
<line x1="72.3" y1="1012.0" x2="74.3" y2="1012.0" stroke="#000" stroke-width="0.9"/>
<line x1="72.3" y1="1002.0" x2="74.3" y2="1002.0" stroke="#000" stroke-width="0.9"/>
<line x1="72.3" y1="994.9" x2="74.3" y2="994.9" stroke="#000" stroke-width="0.9"/>
<line x1="72.3" y1="989.4" x2="74.3" y2="989.4" stroke="#000" stroke-width="0.9"/>
<line x1="72.3" y1="985.0" x2="74.3" y2="985.0" stroke="#000" stroke-width="0.9"/>
<line x1="72.3" y1="981.2" x2="74.3" y2="981.2" stroke="#000" stroke-width="0.9"/>
<line x1="72.3" y1="977.9" x2="74.3" y2="977.9" stroke="#000" stroke-width="0.9"/>
<line x1="72.3" y1="975.0" x2="74.3" y2="975.0" stroke="#000" stroke-width="0.9"/>
<text x="53" y="1039.5" font-size="20" text-anchor="end">10</text><text x="53" y="1031.0" font-size="13.5">2</text>
<line x1="71.3" y1="972.4" x2="74.3" y2="972.4" stroke="#000" stroke-width="1.2"/>
<text x="53" y="982.9" font-size="20" text-anchor="end">10</text><text x="53" y="974.4" font-size="13.5">3</text>
<line x1="74.3" y1="1142.0" x2="74.3" y2="1145.0" stroke="#000" stroke-width="1.2"/>
<text x="74.3" y="1167.5" font-size="20" text-anchor="middle">0</text>
<line x1="134.7" y1="1142.0" x2="134.7" y2="1145.0" stroke="#000" stroke-width="1.2"/>
<text x="134.7" y="1167.5" font-size="20" text-anchor="middle">100</text>
<line x1="195.0" y1="1142.0" x2="195.0" y2="1145.0" stroke="#000" stroke-width="1.2"/>
<text x="195.0" y="1167.5" font-size="20" text-anchor="middle">200</text>
<line x1="255.4" y1="1142.0" x2="255.4" y2="1145.0" stroke="#000" stroke-width="1.2"/>
<text x="255.4" y="1167.5" font-size="20" text-anchor="middle">300</text>
<line x1="315.7" y1="1142.0" x2="315.7" y2="1145.0" stroke="#000" stroke-width="1.2"/>
<text x="315.7" y="1167.5" font-size="20" text-anchor="middle">400</text>
<line x1="376.1" y1="1142.0" x2="376.1" y2="1145.0" stroke="#000" stroke-width="1.2"/>
<text x="376.1" y="1167.5" font-size="20" text-anchor="middle">500</text>
<line x1="436.4" y1="1142.0" x2="436.4" y2="1145.0" stroke="#000" stroke-width="1.2"/>
<text x="436.4" y="1167.5" font-size="20" text-anchor="middle">600</text>
<line x1="496.8" y1="1142.0" x2="496.8" y2="1145.0" stroke="#000" stroke-width="1.2"/>
<text x="496.8" y="1167.5" font-size="20" text-anchor="middle">700</text>
<line x1="557.1" y1="1142.0" x2="557.1" y2="1145.0" stroke="#000" stroke-width="1.2"/>
<text x="557.1" y="1167.5" font-size="20" text-anchor="middle">800</text>
<line x1="617.4" y1="1142.0" x2="617.4" y2="1145.0" stroke="#000" stroke-width="1.2"/>
<text x="617.4" y="1167.5" font-size="20" text-anchor="middle">900</text>
<line x1="677.8" y1="1142.0" x2="677.8" y2="1145.0" stroke="#000" stroke-width="1.2"/>
<text x="677.8" y="1167.5" font-size="20" text-anchor="middle">1,000</text>
<text x="376" y="1195.5" font-size="20" text-anchor="middle">Stimulus duration (ms)</text>
<text transform="translate(17.5,1048) rotate(-90)" font-size="20" text-anchor="middle">Timescale <tspan font-family="Liberation Serif" font-style="italic">&#964;</tspan> (ms)</text>
<rect x="686.8" y="956" width="27.2" height="186" fill="url(#jetv)"/>
<text x="722" y="962" font-size="20">1</text>
<text x="722" y="1056" font-size="20">0.5</text>
<text x="722" y="1149" font-size="20">0</text>
<text transform="translate(778,1049) rotate(-90)" font-size="20" text-anchor="middle">Performance</text>
</svg></body></html>
